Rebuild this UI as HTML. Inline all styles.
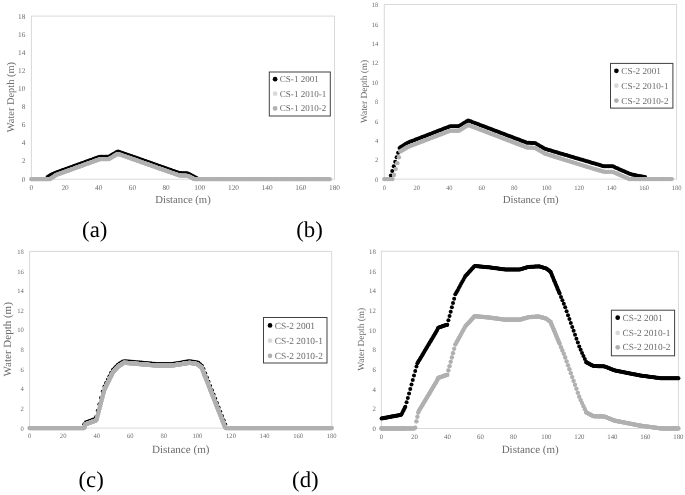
<!DOCTYPE html>
<html><head><meta charset="utf-8"><style>
html,body{margin:0;padding:0;background:#fff;overflow:hidden;width:685px;height:495px;}
svg{display:block;filter:grayscale(1);}
text{font-family:"Liberation Serif", serif;text-rendering:geometricPrecision;}
</style></head><body>
<svg width="685" height="495" viewBox="0 0 685 495">
<rect width="685" height="495" fill="#ffffff"/>
<rect x="31.4" y="16.1" width="303.1" height="163.1" fill="none" stroke="#d9d9d9" stroke-width="1"/>
<g font-size="7.3" fill="#6b6b6b"><text x="25.4" y="181.61" text-anchor="end">0</text><text x="25.4" y="163.49" text-anchor="end">2</text><text x="25.4" y="145.36" text-anchor="end">4</text><text x="25.4" y="127.24" text-anchor="end">6</text><text x="25.4" y="109.12" text-anchor="end">8</text><text x="25.4" y="91" text-anchor="end">10</text><text x="25.4" y="72.88" text-anchor="end">12</text><text x="25.4" y="54.75" text-anchor="end">14</text><text x="25.4" y="36.63" text-anchor="end">16</text><text x="25.4" y="18.51" text-anchor="end">18</text><text x="31.4" y="189.71" text-anchor="middle">0</text><text x="65.08" y="189.71" text-anchor="middle">20</text><text x="98.76" y="189.71" text-anchor="middle">40</text><text x="132.43" y="189.71" text-anchor="middle">60</text><text x="166.11" y="189.71" text-anchor="middle">80</text><text x="199.79" y="189.71" text-anchor="middle">100</text><text x="233.47" y="189.71" text-anchor="middle">120</text><text x="267.14" y="189.71" text-anchor="middle">140</text><text x="300.82" y="189.71" text-anchor="middle">160</text><text x="334.5" y="189.71" text-anchor="middle">180</text></g>
<text x="183" y="202.83" font-size="10.7" fill="#6b6b6b" text-anchor="middle">Distance (m)</text>
<text transform="translate(14.23,97.1) rotate(-90)" font-size="10.4" fill="#6b6b6b" text-anchor="middle">Water Depth (m)</text>
<g fill="#000000"><circle cx="47.57" cy="176.93" r="2.0"/><circle cx="48.74" cy="176.18" r="2.0"/><circle cx="49.92" cy="175.42" r="2.0"/><circle cx="51.1" cy="174.67" r="2.0"/><circle cx="52.28" cy="174.17" r="2.0"/><circle cx="53.46" cy="173.67" r="2.0"/><circle cx="54.64" cy="173.17" r="2.0"/><circle cx="55.82" cy="172.68" r="2.0"/><circle cx="57" cy="172.25" r="2.0"/><circle cx="58.17" cy="171.82" r="2.0"/><circle cx="59.35" cy="171.4" r="2.0"/><circle cx="60.53" cy="170.97" r="2.0"/><circle cx="61.71" cy="170.55" r="2.0"/><circle cx="62.89" cy="170.12" r="2.0"/><circle cx="64.07" cy="169.69" r="2.0"/><circle cx="65.25" cy="169.27" r="2.0"/><circle cx="66.42" cy="168.84" r="2.0"/><circle cx="67.6" cy="168.42" r="2.0"/><circle cx="68.78" cy="167.99" r="2.0"/><circle cx="69.96" cy="167.56" r="2.0"/><circle cx="71.14" cy="167.14" r="2.0"/><circle cx="72.32" cy="166.71" r="2.0"/><circle cx="73.5" cy="166.28" r="2.0"/><circle cx="74.68" cy="165.86" r="2.0"/><circle cx="75.85" cy="165.43" r="2.0"/><circle cx="77.03" cy="165.01" r="2.0"/><circle cx="78.21" cy="164.58" r="2.0"/><circle cx="79.39" cy="164.15" r="2.0"/><circle cx="80.57" cy="163.73" r="2.0"/><circle cx="81.75" cy="163.3" r="2.0"/><circle cx="82.93" cy="162.88" r="2.0"/><circle cx="84.11" cy="162.45" r="2.0"/><circle cx="85.28" cy="162.02" r="2.0"/><circle cx="86.46" cy="161.6" r="2.0"/><circle cx="87.64" cy="161.17" r="2.0"/><circle cx="88.82" cy="160.75" r="2.0"/><circle cx="90" cy="160.32" r="2.0"/><circle cx="91.18" cy="159.89" r="2.0"/><circle cx="92.36" cy="159.47" r="2.0"/><circle cx="93.54" cy="159.04" r="2.0"/><circle cx="94.71" cy="158.62" r="2.0"/><circle cx="95.89" cy="158.19" r="2.0"/><circle cx="97.07" cy="157.76" r="2.0"/><circle cx="98.25" cy="157.34" r="2.0"/><circle cx="99.43" cy="156.91" r="2.0"/><circle cx="100.61" cy="156.73" r="2.0"/><circle cx="101.79" cy="156.73" r="2.0"/><circle cx="102.97" cy="156.73" r="2.0"/><circle cx="104.14" cy="156.73" r="2.0"/><circle cx="105.32" cy="156.73" r="2.0"/><circle cx="106.5" cy="156.73" r="2.0"/><circle cx="107.68" cy="156.73" r="2.0"/><circle cx="108.86" cy="156.73" r="2.0"/><circle cx="110.04" cy="156.02" r="2.0"/><circle cx="111.22" cy="155.32" r="2.0"/><circle cx="112.4" cy="154.61" r="2.0"/><circle cx="113.57" cy="153.9" r="2.0"/><circle cx="114.75" cy="153.2" r="2.0"/><circle cx="115.93" cy="152.49" r="2.0"/><circle cx="117.11" cy="151.79" r="2.0"/><circle cx="118.29" cy="151.56" r="2.0"/><circle cx="119.47" cy="151.97" r="2.0"/><circle cx="120.65" cy="152.39" r="2.0"/><circle cx="121.82" cy="152.8" r="2.0"/><circle cx="123" cy="153.22" r="2.0"/><circle cx="124.18" cy="153.63" r="2.0"/><circle cx="125.36" cy="154.05" r="2.0"/><circle cx="126.54" cy="154.46" r="2.0"/><circle cx="127.72" cy="154.88" r="2.0"/><circle cx="128.9" cy="155.29" r="2.0"/><circle cx="130.08" cy="155.71" r="2.0"/><circle cx="131.25" cy="156.12" r="2.0"/><circle cx="132.43" cy="156.54" r="2.0"/><circle cx="133.61" cy="156.95" r="2.0"/><circle cx="134.79" cy="157.37" r="2.0"/><circle cx="135.97" cy="157.78" r="2.0"/><circle cx="137.15" cy="158.2" r="2.0"/><circle cx="138.33" cy="158.61" r="2.0"/><circle cx="139.51" cy="159.03" r="2.0"/><circle cx="140.68" cy="159.44" r="2.0"/><circle cx="141.86" cy="159.86" r="2.0"/><circle cx="143.04" cy="160.27" r="2.0"/><circle cx="144.22" cy="160.68" r="2.0"/><circle cx="145.4" cy="161.1" r="2.0"/><circle cx="146.58" cy="161.51" r="2.0"/><circle cx="147.76" cy="161.93" r="2.0"/><circle cx="148.94" cy="162.34" r="2.0"/><circle cx="150.11" cy="162.76" r="2.0"/><circle cx="151.29" cy="163.17" r="2.0"/><circle cx="152.47" cy="163.59" r="2.0"/><circle cx="153.65" cy="164" r="2.0"/><circle cx="154.83" cy="164.42" r="2.0"/><circle cx="156.01" cy="164.83" r="2.0"/><circle cx="157.19" cy="165.25" r="2.0"/><circle cx="158.37" cy="165.66" r="2.0"/><circle cx="159.54" cy="166.08" r="2.0"/><circle cx="160.72" cy="166.49" r="2.0"/><circle cx="161.9" cy="166.91" r="2.0"/><circle cx="163.08" cy="167.32" r="2.0"/><circle cx="164.26" cy="167.74" r="2.0"/><circle cx="165.44" cy="168.15" r="2.0"/><circle cx="166.62" cy="168.57" r="2.0"/><circle cx="167.79" cy="168.98" r="2.0"/><circle cx="168.97" cy="169.39" r="2.0"/><circle cx="170.15" cy="169.81" r="2.0"/><circle cx="171.33" cy="170.22" r="2.0"/><circle cx="172.51" cy="170.64" r="2.0"/><circle cx="173.69" cy="171.05" r="2.0"/><circle cx="174.87" cy="171.47" r="2.0"/><circle cx="176.05" cy="171.88" r="2.0"/><circle cx="177.22" cy="172.3" r="2.0"/><circle cx="178.4" cy="172.71" r="2.0"/><circle cx="179.58" cy="173.05" r="2.0"/><circle cx="180.76" cy="173.1" r="2.0"/><circle cx="181.94" cy="173.15" r="2.0"/><circle cx="183.12" cy="173.2" r="2.0"/><circle cx="184.3" cy="173.25" r="2.0"/><circle cx="185.48" cy="173.3" r="2.0"/><circle cx="186.65" cy="173.35" r="2.0"/><circle cx="187.83" cy="173.4" r="2.0"/><circle cx="189.01" cy="174.02" r="2.0"/><circle cx="190.19" cy="174.65" r="2.0"/><circle cx="191.37" cy="175.27" r="2.0"/><circle cx="192.55" cy="175.9" r="2.0"/><circle cx="193.73" cy="176.52" r="2.0"/><circle cx="194.91" cy="177.14" r="2.0"/><circle cx="196.08" cy="177.77" r="2.0"/><circle cx="197.26" cy="178.39" r="2.0"/></g>
<g fill="#d9d9d9"><circle cx="31.4" cy="179.2" r="2.15"/><circle cx="32.58" cy="179.2" r="2.15"/><circle cx="33.76" cy="179.2" r="2.15"/><circle cx="34.94" cy="179.2" r="2.15"/><circle cx="36.11" cy="179.2" r="2.15"/><circle cx="37.29" cy="179.2" r="2.15"/><circle cx="38.47" cy="179.2" r="2.15"/><circle cx="39.65" cy="179.2" r="2.15"/><circle cx="40.83" cy="179.2" r="2.15"/><circle cx="42.01" cy="179.2" r="2.15"/><circle cx="43.19" cy="179.2" r="2.15"/><circle cx="44.37" cy="179.2" r="2.15"/><circle cx="45.54" cy="179.2" r="2.15"/><circle cx="46.72" cy="179.2" r="2.15"/><circle cx="47.9" cy="179.2" r="2.15"/><circle cx="49.08" cy="179.2" r="2.15"/><circle cx="50.26" cy="178.98" r="2.15"/><circle cx="51.44" cy="178.2" r="2.15"/><circle cx="52.62" cy="177.42" r="2.15"/><circle cx="53.8" cy="176.64" r="2.15"/><circle cx="54.97" cy="175.86" r="2.15"/><circle cx="56.15" cy="175" r="2.15"/><circle cx="57.33" cy="174.57" r="2.15"/><circle cx="58.51" cy="174.15" r="2.15"/><circle cx="59.69" cy="173.72" r="2.15"/><circle cx="60.87" cy="173.3" r="2.15"/><circle cx="62.05" cy="172.87" r="2.15"/><circle cx="63.23" cy="172.44" r="2.15"/><circle cx="64.4" cy="172.02" r="2.15"/><circle cx="65.58" cy="171.59" r="2.15"/><circle cx="66.76" cy="171.17" r="2.15"/><circle cx="67.94" cy="170.74" r="2.15"/><circle cx="69.12" cy="170.31" r="2.15"/><circle cx="70.3" cy="169.89" r="2.15"/><circle cx="71.48" cy="169.46" r="2.15"/><circle cx="72.66" cy="169.04" r="2.15"/><circle cx="73.83" cy="168.61" r="2.15"/><circle cx="75.01" cy="168.18" r="2.15"/><circle cx="76.19" cy="167.76" r="2.15"/><circle cx="77.37" cy="167.33" r="2.15"/><circle cx="78.55" cy="166.91" r="2.15"/><circle cx="79.73" cy="166.48" r="2.15"/><circle cx="80.91" cy="166.05" r="2.15"/><circle cx="82.09" cy="165.63" r="2.15"/><circle cx="83.26" cy="165.2" r="2.15"/><circle cx="84.44" cy="164.77" r="2.15"/><circle cx="85.62" cy="164.35" r="2.15"/><circle cx="86.8" cy="163.92" r="2.15"/><circle cx="87.98" cy="163.5" r="2.15"/><circle cx="89.16" cy="163.07" r="2.15"/><circle cx="90.34" cy="162.64" r="2.15"/><circle cx="91.51" cy="162.22" r="2.15"/><circle cx="92.69" cy="161.79" r="2.15"/><circle cx="93.87" cy="161.37" r="2.15"/><circle cx="95.05" cy="160.94" r="2.15"/><circle cx="96.23" cy="160.51" r="2.15"/><circle cx="97.41" cy="160.09" r="2.15"/><circle cx="98.59" cy="159.66" r="2.15"/><circle cx="99.77" cy="159.24" r="2.15"/><circle cx="100.94" cy="159.17" r="2.15"/><circle cx="102.12" cy="159.17" r="2.15"/><circle cx="103.3" cy="159.17" r="2.15"/><circle cx="104.48" cy="159.17" r="2.15"/><circle cx="105.66" cy="159.17" r="2.15"/><circle cx="106.84" cy="159.17" r="2.15"/><circle cx="108.02" cy="159.17" r="2.15"/><circle cx="109.2" cy="158.97" r="2.15"/><circle cx="110.37" cy="158.27" r="2.15"/><circle cx="111.55" cy="157.56" r="2.15"/><circle cx="112.73" cy="156.85" r="2.15"/><circle cx="113.91" cy="156.15" r="2.15"/><circle cx="115.09" cy="155.44" r="2.15"/><circle cx="116.27" cy="154.74" r="2.15"/><circle cx="117.45" cy="154.03" r="2.15"/><circle cx="118.63" cy="154.13" r="2.15"/><circle cx="119.8" cy="154.54" r="2.15"/><circle cx="120.98" cy="154.95" r="2.15"/><circle cx="122.16" cy="155.37" r="2.15"/><circle cx="123.34" cy="155.78" r="2.15"/><circle cx="124.52" cy="156.2" r="2.15"/><circle cx="125.7" cy="156.61" r="2.15"/><circle cx="126.88" cy="157.03" r="2.15"/><circle cx="128.06" cy="157.44" r="2.15"/><circle cx="129.23" cy="157.86" r="2.15"/><circle cx="130.41" cy="158.27" r="2.15"/><circle cx="131.59" cy="158.69" r="2.15"/><circle cx="132.77" cy="159.1" r="2.15"/><circle cx="133.95" cy="159.52" r="2.15"/><circle cx="135.13" cy="159.93" r="2.15"/><circle cx="136.31" cy="160.35" r="2.15"/><circle cx="137.48" cy="160.76" r="2.15"/><circle cx="138.66" cy="161.18" r="2.15"/><circle cx="139.84" cy="161.59" r="2.15"/><circle cx="141.02" cy="162.01" r="2.15"/><circle cx="142.2" cy="162.42" r="2.15"/><circle cx="143.38" cy="162.83" r="2.15"/><circle cx="144.56" cy="163.25" r="2.15"/><circle cx="145.74" cy="163.66" r="2.15"/><circle cx="146.91" cy="164.08" r="2.15"/><circle cx="148.09" cy="164.49" r="2.15"/><circle cx="149.27" cy="164.91" r="2.15"/><circle cx="150.45" cy="165.32" r="2.15"/><circle cx="151.63" cy="165.74" r="2.15"/><circle cx="152.81" cy="166.15" r="2.15"/><circle cx="153.99" cy="166.57" r="2.15"/><circle cx="155.17" cy="166.98" r="2.15"/><circle cx="156.34" cy="167.4" r="2.15"/><circle cx="157.52" cy="167.81" r="2.15"/><circle cx="158.7" cy="168.23" r="2.15"/><circle cx="159.88" cy="168.64" r="2.15"/><circle cx="161.06" cy="169.06" r="2.15"/><circle cx="162.24" cy="169.47" r="2.15"/><circle cx="163.42" cy="169.89" r="2.15"/><circle cx="164.6" cy="170.3" r="2.15"/><circle cx="165.77" cy="170.72" r="2.15"/><circle cx="166.95" cy="171.13" r="2.15"/><circle cx="168.13" cy="171.54" r="2.15"/><circle cx="169.31" cy="171.96" r="2.15"/><circle cx="170.49" cy="172.37" r="2.15"/><circle cx="171.67" cy="172.79" r="2.15"/><circle cx="172.85" cy="173.2" r="2.15"/><circle cx="174.03" cy="173.62" r="2.15"/><circle cx="175.2" cy="174.03" r="2.15"/><circle cx="176.38" cy="174.45" r="2.15"/><circle cx="177.56" cy="174.86" r="2.15"/><circle cx="178.74" cy="175.28" r="2.15"/><circle cx="179.92" cy="175.51" r="2.15"/><circle cx="181.1" cy="175.56" r="2.15"/><circle cx="182.28" cy="175.61" r="2.15"/><circle cx="183.46" cy="175.66" r="2.15"/><circle cx="184.63" cy="175.71" r="2.15"/><circle cx="185.81" cy="175.76" r="2.15"/><circle cx="186.99" cy="175.81" r="2.15"/><circle cx="188.17" cy="176.03" r="2.15"/><circle cx="189.35" cy="176.65" r="2.15"/><circle cx="190.53" cy="177.27" r="2.15"/><circle cx="191.71" cy="177.9" r="2.15"/><circle cx="192.88" cy="178.52" r="2.15"/><circle cx="194.06" cy="179.14" r="2.15"/><circle cx="195.24" cy="179.2" r="2.15"/><circle cx="196.42" cy="179.2" r="2.15"/><circle cx="197.6" cy="179.2" r="2.15"/><circle cx="198.78" cy="179.2" r="2.15"/><circle cx="199.96" cy="179.2" r="2.15"/><circle cx="201.14" cy="179.2" r="2.15"/><circle cx="202.31" cy="179.2" r="2.15"/><circle cx="203.49" cy="179.2" r="2.15"/><circle cx="204.67" cy="179.2" r="2.15"/><circle cx="205.85" cy="179.2" r="2.15"/><circle cx="207.03" cy="179.2" r="2.15"/><circle cx="208.21" cy="179.2" r="2.15"/><circle cx="209.39" cy="179.2" r="2.15"/><circle cx="210.57" cy="179.2" r="2.15"/><circle cx="211.74" cy="179.2" r="2.15"/><circle cx="212.92" cy="179.2" r="2.15"/><circle cx="214.1" cy="179.2" r="2.15"/><circle cx="215.28" cy="179.2" r="2.15"/><circle cx="216.46" cy="179.2" r="2.15"/><circle cx="217.64" cy="179.2" r="2.15"/><circle cx="218.82" cy="179.2" r="2.15"/><circle cx="220" cy="179.2" r="2.15"/><circle cx="221.17" cy="179.2" r="2.15"/><circle cx="222.35" cy="179.2" r="2.15"/><circle cx="223.53" cy="179.2" r="2.15"/><circle cx="224.71" cy="179.2" r="2.15"/><circle cx="225.89" cy="179.2" r="2.15"/><circle cx="227.07" cy="179.2" r="2.15"/><circle cx="228.25" cy="179.2" r="2.15"/><circle cx="229.43" cy="179.2" r="2.15"/><circle cx="230.6" cy="179.2" r="2.15"/><circle cx="231.78" cy="179.2" r="2.15"/><circle cx="232.96" cy="179.2" r="2.15"/><circle cx="234.14" cy="179.2" r="2.15"/><circle cx="235.32" cy="179.2" r="2.15"/><circle cx="236.5" cy="179.2" r="2.15"/><circle cx="237.68" cy="179.2" r="2.15"/><circle cx="238.86" cy="179.2" r="2.15"/><circle cx="240.03" cy="179.2" r="2.15"/><circle cx="241.21" cy="179.2" r="2.15"/><circle cx="242.39" cy="179.2" r="2.15"/><circle cx="243.57" cy="179.2" r="2.15"/><circle cx="244.75" cy="179.2" r="2.15"/><circle cx="245.93" cy="179.2" r="2.15"/><circle cx="247.11" cy="179.2" r="2.15"/><circle cx="248.28" cy="179.2" r="2.15"/><circle cx="249.46" cy="179.2" r="2.15"/><circle cx="250.64" cy="179.2" r="2.15"/><circle cx="251.82" cy="179.2" r="2.15"/><circle cx="253" cy="179.2" r="2.15"/><circle cx="254.18" cy="179.2" r="2.15"/><circle cx="255.36" cy="179.2" r="2.15"/><circle cx="256.54" cy="179.2" r="2.15"/><circle cx="257.71" cy="179.2" r="2.15"/><circle cx="258.89" cy="179.2" r="2.15"/><circle cx="260.07" cy="179.2" r="2.15"/><circle cx="261.25" cy="179.2" r="2.15"/><circle cx="262.43" cy="179.2" r="2.15"/><circle cx="263.61" cy="179.2" r="2.15"/><circle cx="264.79" cy="179.2" r="2.15"/><circle cx="265.97" cy="179.2" r="2.15"/><circle cx="267.14" cy="179.2" r="2.15"/><circle cx="268.32" cy="179.2" r="2.15"/><circle cx="269.5" cy="179.2" r="2.15"/><circle cx="270.68" cy="179.2" r="2.15"/><circle cx="271.86" cy="179.2" r="2.15"/><circle cx="273.04" cy="179.2" r="2.15"/><circle cx="274.22" cy="179.2" r="2.15"/><circle cx="275.4" cy="179.2" r="2.15"/><circle cx="276.57" cy="179.2" r="2.15"/><circle cx="277.75" cy="179.2" r="2.15"/><circle cx="278.93" cy="179.2" r="2.15"/><circle cx="280.11" cy="179.2" r="2.15"/><circle cx="281.29" cy="179.2" r="2.15"/><circle cx="282.47" cy="179.2" r="2.15"/><circle cx="283.65" cy="179.2" r="2.15"/><circle cx="284.83" cy="179.2" r="2.15"/><circle cx="286" cy="179.2" r="2.15"/><circle cx="287.18" cy="179.2" r="2.15"/><circle cx="288.36" cy="179.2" r="2.15"/><circle cx="289.54" cy="179.2" r="2.15"/><circle cx="290.72" cy="179.2" r="2.15"/><circle cx="291.9" cy="179.2" r="2.15"/><circle cx="293.08" cy="179.2" r="2.15"/><circle cx="294.26" cy="179.2" r="2.15"/><circle cx="295.43" cy="179.2" r="2.15"/><circle cx="296.61" cy="179.2" r="2.15"/><circle cx="297.79" cy="179.2" r="2.15"/><circle cx="298.97" cy="179.2" r="2.15"/><circle cx="300.15" cy="179.2" r="2.15"/><circle cx="301.33" cy="179.2" r="2.15"/><circle cx="302.51" cy="179.2" r="2.15"/><circle cx="303.68" cy="179.2" r="2.15"/><circle cx="304.86" cy="179.2" r="2.15"/><circle cx="306.04" cy="179.2" r="2.15"/><circle cx="307.22" cy="179.2" r="2.15"/><circle cx="308.4" cy="179.2" r="2.15"/><circle cx="309.58" cy="179.2" r="2.15"/><circle cx="310.76" cy="179.2" r="2.15"/><circle cx="311.94" cy="179.2" r="2.15"/><circle cx="313.11" cy="179.2" r="2.15"/><circle cx="314.29" cy="179.2" r="2.15"/><circle cx="315.47" cy="179.2" r="2.15"/><circle cx="316.65" cy="179.2" r="2.15"/><circle cx="317.83" cy="179.2" r="2.15"/><circle cx="319.01" cy="179.2" r="2.15"/><circle cx="320.19" cy="179.2" r="2.15"/><circle cx="321.37" cy="179.2" r="2.15"/><circle cx="322.54" cy="179.2" r="2.15"/><circle cx="323.72" cy="179.2" r="2.15"/><circle cx="324.9" cy="179.2" r="2.15"/><circle cx="326.08" cy="179.2" r="2.15"/><circle cx="327.26" cy="179.2" r="2.15"/><circle cx="328.44" cy="179.2" r="2.15"/><circle cx="329.62" cy="179.2" r="2.15"/></g>
<g fill="#b0b0b0"><circle cx="31.4" cy="179.2" r="2.15"/><circle cx="32.58" cy="179.2" r="2.15"/><circle cx="33.76" cy="179.2" r="2.15"/><circle cx="34.94" cy="179.2" r="2.15"/><circle cx="36.11" cy="179.2" r="2.15"/><circle cx="37.29" cy="179.2" r="2.15"/><circle cx="38.47" cy="179.2" r="2.15"/><circle cx="39.65" cy="179.2" r="2.15"/><circle cx="40.83" cy="179.2" r="2.15"/><circle cx="42.01" cy="179.2" r="2.15"/><circle cx="43.19" cy="179.2" r="2.15"/><circle cx="44.37" cy="179.2" r="2.15"/><circle cx="45.54" cy="179.2" r="2.15"/><circle cx="46.72" cy="179.2" r="2.15"/><circle cx="47.9" cy="179.2" r="2.15"/><circle cx="49.08" cy="179.2" r="2.15"/><circle cx="50.26" cy="178.98" r="2.15"/><circle cx="51.44" cy="178.2" r="2.15"/><circle cx="52.62" cy="177.42" r="2.15"/><circle cx="53.8" cy="176.64" r="2.15"/><circle cx="54.97" cy="175.86" r="2.15"/><circle cx="56.15" cy="175" r="2.15"/><circle cx="57.33" cy="174.57" r="2.15"/><circle cx="58.51" cy="174.15" r="2.15"/><circle cx="59.69" cy="173.72" r="2.15"/><circle cx="60.87" cy="173.3" r="2.15"/><circle cx="62.05" cy="172.87" r="2.15"/><circle cx="63.23" cy="172.44" r="2.15"/><circle cx="64.4" cy="172.02" r="2.15"/><circle cx="65.58" cy="171.59" r="2.15"/><circle cx="66.76" cy="171.17" r="2.15"/><circle cx="67.94" cy="170.74" r="2.15"/><circle cx="69.12" cy="170.31" r="2.15"/><circle cx="70.3" cy="169.89" r="2.15"/><circle cx="71.48" cy="169.46" r="2.15"/><circle cx="72.66" cy="169.04" r="2.15"/><circle cx="73.83" cy="168.61" r="2.15"/><circle cx="75.01" cy="168.18" r="2.15"/><circle cx="76.19" cy="167.76" r="2.15"/><circle cx="77.37" cy="167.33" r="2.15"/><circle cx="78.55" cy="166.91" r="2.15"/><circle cx="79.73" cy="166.48" r="2.15"/><circle cx="80.91" cy="166.05" r="2.15"/><circle cx="82.09" cy="165.63" r="2.15"/><circle cx="83.26" cy="165.2" r="2.15"/><circle cx="84.44" cy="164.77" r="2.15"/><circle cx="85.62" cy="164.35" r="2.15"/><circle cx="86.8" cy="163.92" r="2.15"/><circle cx="87.98" cy="163.5" r="2.15"/><circle cx="89.16" cy="163.07" r="2.15"/><circle cx="90.34" cy="162.64" r="2.15"/><circle cx="91.51" cy="162.22" r="2.15"/><circle cx="92.69" cy="161.79" r="2.15"/><circle cx="93.87" cy="161.37" r="2.15"/><circle cx="95.05" cy="160.94" r="2.15"/><circle cx="96.23" cy="160.51" r="2.15"/><circle cx="97.41" cy="160.09" r="2.15"/><circle cx="98.59" cy="159.66" r="2.15"/><circle cx="99.77" cy="159.24" r="2.15"/><circle cx="100.94" cy="159.17" r="2.15"/><circle cx="102.12" cy="159.17" r="2.15"/><circle cx="103.3" cy="159.17" r="2.15"/><circle cx="104.48" cy="159.17" r="2.15"/><circle cx="105.66" cy="159.17" r="2.15"/><circle cx="106.84" cy="159.17" r="2.15"/><circle cx="108.02" cy="159.17" r="2.15"/><circle cx="109.2" cy="158.97" r="2.15"/><circle cx="110.37" cy="158.27" r="2.15"/><circle cx="111.55" cy="157.56" r="2.15"/><circle cx="112.73" cy="156.85" r="2.15"/><circle cx="113.91" cy="156.15" r="2.15"/><circle cx="115.09" cy="155.44" r="2.15"/><circle cx="116.27" cy="154.74" r="2.15"/><circle cx="117.45" cy="154.03" r="2.15"/><circle cx="118.63" cy="154.13" r="2.15"/><circle cx="119.8" cy="154.54" r="2.15"/><circle cx="120.98" cy="154.95" r="2.15"/><circle cx="122.16" cy="155.37" r="2.15"/><circle cx="123.34" cy="155.78" r="2.15"/><circle cx="124.52" cy="156.2" r="2.15"/><circle cx="125.7" cy="156.61" r="2.15"/><circle cx="126.88" cy="157.03" r="2.15"/><circle cx="128.06" cy="157.44" r="2.15"/><circle cx="129.23" cy="157.86" r="2.15"/><circle cx="130.41" cy="158.27" r="2.15"/><circle cx="131.59" cy="158.69" r="2.15"/><circle cx="132.77" cy="159.1" r="2.15"/><circle cx="133.95" cy="159.52" r="2.15"/><circle cx="135.13" cy="159.93" r="2.15"/><circle cx="136.31" cy="160.35" r="2.15"/><circle cx="137.48" cy="160.76" r="2.15"/><circle cx="138.66" cy="161.18" r="2.15"/><circle cx="139.84" cy="161.59" r="2.15"/><circle cx="141.02" cy="162.01" r="2.15"/><circle cx="142.2" cy="162.42" r="2.15"/><circle cx="143.38" cy="162.83" r="2.15"/><circle cx="144.56" cy="163.25" r="2.15"/><circle cx="145.74" cy="163.66" r="2.15"/><circle cx="146.91" cy="164.08" r="2.15"/><circle cx="148.09" cy="164.49" r="2.15"/><circle cx="149.27" cy="164.91" r="2.15"/><circle cx="150.45" cy="165.32" r="2.15"/><circle cx="151.63" cy="165.74" r="2.15"/><circle cx="152.81" cy="166.15" r="2.15"/><circle cx="153.99" cy="166.57" r="2.15"/><circle cx="155.17" cy="166.98" r="2.15"/><circle cx="156.34" cy="167.4" r="2.15"/><circle cx="157.52" cy="167.81" r="2.15"/><circle cx="158.7" cy="168.23" r="2.15"/><circle cx="159.88" cy="168.64" r="2.15"/><circle cx="161.06" cy="169.06" r="2.15"/><circle cx="162.24" cy="169.47" r="2.15"/><circle cx="163.42" cy="169.89" r="2.15"/><circle cx="164.6" cy="170.3" r="2.15"/><circle cx="165.77" cy="170.72" r="2.15"/><circle cx="166.95" cy="171.13" r="2.15"/><circle cx="168.13" cy="171.54" r="2.15"/><circle cx="169.31" cy="171.96" r="2.15"/><circle cx="170.49" cy="172.37" r="2.15"/><circle cx="171.67" cy="172.79" r="2.15"/><circle cx="172.85" cy="173.2" r="2.15"/><circle cx="174.03" cy="173.62" r="2.15"/><circle cx="175.2" cy="174.03" r="2.15"/><circle cx="176.38" cy="174.45" r="2.15"/><circle cx="177.56" cy="174.86" r="2.15"/><circle cx="178.74" cy="175.28" r="2.15"/><circle cx="179.92" cy="175.51" r="2.15"/><circle cx="181.1" cy="175.56" r="2.15"/><circle cx="182.28" cy="175.61" r="2.15"/><circle cx="183.46" cy="175.66" r="2.15"/><circle cx="184.63" cy="175.71" r="2.15"/><circle cx="185.81" cy="175.76" r="2.15"/><circle cx="186.99" cy="175.81" r="2.15"/><circle cx="188.17" cy="176.03" r="2.15"/><circle cx="189.35" cy="176.65" r="2.15"/><circle cx="190.53" cy="177.27" r="2.15"/><circle cx="191.71" cy="177.9" r="2.15"/><circle cx="192.88" cy="178.52" r="2.15"/><circle cx="194.06" cy="179.14" r="2.15"/><circle cx="195.24" cy="179.2" r="2.15"/><circle cx="196.42" cy="179.2" r="2.15"/><circle cx="197.6" cy="179.2" r="2.15"/><circle cx="198.78" cy="179.2" r="2.15"/><circle cx="199.96" cy="179.2" r="2.15"/><circle cx="201.14" cy="179.2" r="2.15"/><circle cx="202.31" cy="179.2" r="2.15"/><circle cx="203.49" cy="179.2" r="2.15"/><circle cx="204.67" cy="179.2" r="2.15"/><circle cx="205.85" cy="179.2" r="2.15"/><circle cx="207.03" cy="179.2" r="2.15"/><circle cx="208.21" cy="179.2" r="2.15"/><circle cx="209.39" cy="179.2" r="2.15"/><circle cx="210.57" cy="179.2" r="2.15"/><circle cx="211.74" cy="179.2" r="2.15"/><circle cx="212.92" cy="179.2" r="2.15"/><circle cx="214.1" cy="179.2" r="2.15"/><circle cx="215.28" cy="179.2" r="2.15"/><circle cx="216.46" cy="179.2" r="2.15"/><circle cx="217.64" cy="179.2" r="2.15"/><circle cx="218.82" cy="179.2" r="2.15"/><circle cx="220" cy="179.2" r="2.15"/><circle cx="221.17" cy="179.2" r="2.15"/><circle cx="222.35" cy="179.2" r="2.15"/><circle cx="223.53" cy="179.2" r="2.15"/><circle cx="224.71" cy="179.2" r="2.15"/><circle cx="225.89" cy="179.2" r="2.15"/><circle cx="227.07" cy="179.2" r="2.15"/><circle cx="228.25" cy="179.2" r="2.15"/><circle cx="229.43" cy="179.2" r="2.15"/><circle cx="230.6" cy="179.2" r="2.15"/><circle cx="231.78" cy="179.2" r="2.15"/><circle cx="232.96" cy="179.2" r="2.15"/><circle cx="234.14" cy="179.2" r="2.15"/><circle cx="235.32" cy="179.2" r="2.15"/><circle cx="236.5" cy="179.2" r="2.15"/><circle cx="237.68" cy="179.2" r="2.15"/><circle cx="238.86" cy="179.2" r="2.15"/><circle cx="240.03" cy="179.2" r="2.15"/><circle cx="241.21" cy="179.2" r="2.15"/><circle cx="242.39" cy="179.2" r="2.15"/><circle cx="243.57" cy="179.2" r="2.15"/><circle cx="244.75" cy="179.2" r="2.15"/><circle cx="245.93" cy="179.2" r="2.15"/><circle cx="247.11" cy="179.2" r="2.15"/><circle cx="248.28" cy="179.2" r="2.15"/><circle cx="249.46" cy="179.2" r="2.15"/><circle cx="250.64" cy="179.2" r="2.15"/><circle cx="251.82" cy="179.2" r="2.15"/><circle cx="253" cy="179.2" r="2.15"/><circle cx="254.18" cy="179.2" r="2.15"/><circle cx="255.36" cy="179.2" r="2.15"/><circle cx="256.54" cy="179.2" r="2.15"/><circle cx="257.71" cy="179.2" r="2.15"/><circle cx="258.89" cy="179.2" r="2.15"/><circle cx="260.07" cy="179.2" r="2.15"/><circle cx="261.25" cy="179.2" r="2.15"/><circle cx="262.43" cy="179.2" r="2.15"/><circle cx="263.61" cy="179.2" r="2.15"/><circle cx="264.79" cy="179.2" r="2.15"/><circle cx="265.97" cy="179.2" r="2.15"/><circle cx="267.14" cy="179.2" r="2.15"/><circle cx="268.32" cy="179.2" r="2.15"/><circle cx="269.5" cy="179.2" r="2.15"/><circle cx="270.68" cy="179.2" r="2.15"/><circle cx="271.86" cy="179.2" r="2.15"/><circle cx="273.04" cy="179.2" r="2.15"/><circle cx="274.22" cy="179.2" r="2.15"/><circle cx="275.4" cy="179.2" r="2.15"/><circle cx="276.57" cy="179.2" r="2.15"/><circle cx="277.75" cy="179.2" r="2.15"/><circle cx="278.93" cy="179.2" r="2.15"/><circle cx="280.11" cy="179.2" r="2.15"/><circle cx="281.29" cy="179.2" r="2.15"/><circle cx="282.47" cy="179.2" r="2.15"/><circle cx="283.65" cy="179.2" r="2.15"/><circle cx="284.83" cy="179.2" r="2.15"/><circle cx="286" cy="179.2" r="2.15"/><circle cx="287.18" cy="179.2" r="2.15"/><circle cx="288.36" cy="179.2" r="2.15"/><circle cx="289.54" cy="179.2" r="2.15"/><circle cx="290.72" cy="179.2" r="2.15"/><circle cx="291.9" cy="179.2" r="2.15"/><circle cx="293.08" cy="179.2" r="2.15"/><circle cx="294.26" cy="179.2" r="2.15"/><circle cx="295.43" cy="179.2" r="2.15"/><circle cx="296.61" cy="179.2" r="2.15"/><circle cx="297.79" cy="179.2" r="2.15"/><circle cx="298.97" cy="179.2" r="2.15"/><circle cx="300.15" cy="179.2" r="2.15"/><circle cx="301.33" cy="179.2" r="2.15"/><circle cx="302.51" cy="179.2" r="2.15"/><circle cx="303.68" cy="179.2" r="2.15"/><circle cx="304.86" cy="179.2" r="2.15"/><circle cx="306.04" cy="179.2" r="2.15"/><circle cx="307.22" cy="179.2" r="2.15"/><circle cx="308.4" cy="179.2" r="2.15"/><circle cx="309.58" cy="179.2" r="2.15"/><circle cx="310.76" cy="179.2" r="2.15"/><circle cx="311.94" cy="179.2" r="2.15"/><circle cx="313.11" cy="179.2" r="2.15"/><circle cx="314.29" cy="179.2" r="2.15"/><circle cx="315.47" cy="179.2" r="2.15"/><circle cx="316.65" cy="179.2" r="2.15"/><circle cx="317.83" cy="179.2" r="2.15"/><circle cx="319.01" cy="179.2" r="2.15"/><circle cx="320.19" cy="179.2" r="2.15"/><circle cx="321.37" cy="179.2" r="2.15"/><circle cx="322.54" cy="179.2" r="2.15"/><circle cx="323.72" cy="179.2" r="2.15"/><circle cx="324.9" cy="179.2" r="2.15"/><circle cx="326.08" cy="179.2" r="2.15"/><circle cx="327.26" cy="179.2" r="2.15"/><circle cx="328.44" cy="179.2" r="2.15"/><circle cx="329.62" cy="179.2" r="2.15"/></g>
<rect x="269.3" y="72" width="61" height="44" fill="#ffffff" stroke="#404040" stroke-width="1"/>
<circle cx="275.1" cy="79.2" r="2.35" fill="#000000"/>
<text x="279.8" y="82.19" font-size="9.05" fill="#6b6b6b">CS-1 2001</text>
<circle cx="275.1" cy="93.7" r="2.35" fill="#d9d9d9"/>
<text x="279.8" y="96.69" font-size="9.05" fill="#6b6b6b">CS-1 2010-1</text>
<circle cx="275.1" cy="108.4" r="2.35" fill="#b0b0b0"/>
<text x="279.8" y="111.39" font-size="9.05" fill="#6b6b6b">CS-1 2010-2</text>
<text x="82.1" y="237.3" font-size="22.8" fill="#000">(a)</text>
<rect x="384.3" y="4.5" width="292.3" height="174.6" fill="none" stroke="#d9d9d9" stroke-width="1"/>
<g font-size="6.6" fill="#6b6b6b"><text x="378.3" y="181.78" text-anchor="end">0</text><text x="378.3" y="162.38" text-anchor="end">2</text><text x="378.3" y="142.98" text-anchor="end">4</text><text x="378.3" y="123.58" text-anchor="end">6</text><text x="378.3" y="104.18" text-anchor="end">8</text><text x="378.3" y="84.78" text-anchor="end">10</text><text x="378.3" y="65.38" text-anchor="end">12</text><text x="378.3" y="45.98" text-anchor="end">14</text><text x="378.3" y="26.58" text-anchor="end">16</text><text x="378.3" y="7.18" text-anchor="end">18</text><text x="384.3" y="189.78" text-anchor="middle">0</text><text x="416.78" y="189.78" text-anchor="middle">20</text><text x="449.26" y="189.78" text-anchor="middle">40</text><text x="481.73" y="189.78" text-anchor="middle">60</text><text x="514.21" y="189.78" text-anchor="middle">80</text><text x="546.69" y="189.78" text-anchor="middle">100</text><text x="579.17" y="189.78" text-anchor="middle">120</text><text x="611.64" y="189.78" text-anchor="middle">140</text><text x="644.12" y="189.78" text-anchor="middle">160</text><text x="676.6" y="189.78" text-anchor="middle">180</text></g>
<text x="530.7" y="203.26" font-size="10.8" fill="#6b6b6b" text-anchor="middle">Distance (m)</text>
<text transform="translate(366.8,91.4) rotate(-90)" font-size="9.4" fill="#6b6b6b" text-anchor="middle">Water Depth (m)</text>
<g fill="#000000"><circle cx="390.8" cy="175.51" r="2.0"/><circle cx="392.26" cy="170.94" r="2.0"/><circle cx="393.72" cy="166.37" r="2.0"/><circle cx="395.18" cy="161.8" r="2.0"/><circle cx="396.64" cy="157.23" r="2.0"/><circle cx="398.1" cy="152.65" r="2.0"/><circle cx="399.56" cy="148.08" r="2.0"/><circle cx="401.03" cy="146.78" r="2.0"/><circle cx="402.49" cy="145.89" r="2.0"/><circle cx="403.95" cy="145" r="2.0"/><circle cx="405.41" cy="144.11" r="2.0"/><circle cx="406.87" cy="143.22" r="2.0"/><circle cx="408.33" cy="142.44" r="2.0"/><circle cx="409.8" cy="141.87" r="2.0"/><circle cx="411.26" cy="141.31" r="2.0"/><circle cx="412.72" cy="140.74" r="2.0"/><circle cx="414.18" cy="140.17" r="2.0"/><circle cx="415.64" cy="139.61" r="2.0"/><circle cx="417.1" cy="139.04" r="2.0"/><circle cx="418.56" cy="138.48" r="2.0"/><circle cx="420.03" cy="137.91" r="2.0"/><circle cx="421.49" cy="137.34" r="2.0"/><circle cx="422.95" cy="136.78" r="2.0"/><circle cx="424.41" cy="136.21" r="2.0"/><circle cx="425.87" cy="135.64" r="2.0"/><circle cx="427.33" cy="135.08" r="2.0"/><circle cx="428.79" cy="134.51" r="2.0"/><circle cx="430.26" cy="133.95" r="2.0"/><circle cx="431.72" cy="133.38" r="2.0"/><circle cx="433.18" cy="132.81" r="2.0"/><circle cx="434.64" cy="132.25" r="2.0"/><circle cx="436.1" cy="131.68" r="2.0"/><circle cx="437.56" cy="131.11" r="2.0"/><circle cx="439.03" cy="130.55" r="2.0"/><circle cx="440.49" cy="129.98" r="2.0"/><circle cx="441.95" cy="129.42" r="2.0"/><circle cx="443.41" cy="128.85" r="2.0"/><circle cx="444.87" cy="128.28" r="2.0"/><circle cx="446.33" cy="127.72" r="2.0"/><circle cx="447.79" cy="127.15" r="2.0"/><circle cx="449.26" cy="126.58" r="2.0"/><circle cx="450.72" cy="126.33" r="2.0"/><circle cx="452.18" cy="126.33" r="2.0"/><circle cx="453.64" cy="126.33" r="2.0"/><circle cx="455.1" cy="126.33" r="2.0"/><circle cx="456.56" cy="126.33" r="2.0"/><circle cx="458.02" cy="126.33" r="2.0"/><circle cx="459.49" cy="125.82" r="2.0"/><circle cx="460.95" cy="124.9" r="2.0"/><circle cx="462.41" cy="123.99" r="2.0"/><circle cx="463.87" cy="123.07" r="2.0"/><circle cx="465.33" cy="122.15" r="2.0"/><circle cx="466.79" cy="121.23" r="2.0"/><circle cx="468.26" cy="120.48" r="2.0"/><circle cx="469.72" cy="121.03" r="2.0"/><circle cx="471.18" cy="121.58" r="2.0"/><circle cx="472.64" cy="122.14" r="2.0"/><circle cx="474.1" cy="122.69" r="2.0"/><circle cx="475.56" cy="123.25" r="2.0"/><circle cx="477.02" cy="123.8" r="2.0"/><circle cx="478.49" cy="124.35" r="2.0"/><circle cx="479.95" cy="124.91" r="2.0"/><circle cx="481.41" cy="125.46" r="2.0"/><circle cx="482.87" cy="126.02" r="2.0"/><circle cx="484.33" cy="126.57" r="2.0"/><circle cx="485.79" cy="127.12" r="2.0"/><circle cx="487.25" cy="127.68" r="2.0"/><circle cx="488.72" cy="128.23" r="2.0"/><circle cx="490.18" cy="128.79" r="2.0"/><circle cx="491.64" cy="129.34" r="2.0"/><circle cx="493.1" cy="129.89" r="2.0"/><circle cx="494.56" cy="130.45" r="2.0"/><circle cx="496.02" cy="131" r="2.0"/><circle cx="497.49" cy="131.55" r="2.0"/><circle cx="498.95" cy="132.11" r="2.0"/><circle cx="500.41" cy="132.66" r="2.0"/><circle cx="501.87" cy="133.22" r="2.0"/><circle cx="503.33" cy="133.77" r="2.0"/><circle cx="504.79" cy="134.32" r="2.0"/><circle cx="506.25" cy="134.88" r="2.0"/><circle cx="507.72" cy="135.43" r="2.0"/><circle cx="509.18" cy="135.99" r="2.0"/><circle cx="510.64" cy="136.54" r="2.0"/><circle cx="512.1" cy="137.09" r="2.0"/><circle cx="513.56" cy="137.65" r="2.0"/><circle cx="515.02" cy="138.2" r="2.0"/><circle cx="516.48" cy="138.76" r="2.0"/><circle cx="517.95" cy="139.31" r="2.0"/><circle cx="519.41" cy="139.86" r="2.0"/><circle cx="520.87" cy="140.42" r="2.0"/><circle cx="522.33" cy="140.97" r="2.0"/><circle cx="523.79" cy="141.52" r="2.0"/><circle cx="525.25" cy="142.08" r="2.0"/><circle cx="526.72" cy="142.63" r="2.0"/><circle cx="528.18" cy="142.78" r="2.0"/><circle cx="529.64" cy="142.85" r="2.0"/><circle cx="531.1" cy="142.92" r="2.0"/><circle cx="532.56" cy="142.99" r="2.0"/><circle cx="534.02" cy="143.06" r="2.0"/><circle cx="535.48" cy="143.3" r="2.0"/><circle cx="536.95" cy="144.16" r="2.0"/><circle cx="538.41" cy="145.02" r="2.0"/><circle cx="539.87" cy="145.88" r="2.0"/><circle cx="541.33" cy="146.74" r="2.0"/><circle cx="542.79" cy="147.6" r="2.0"/><circle cx="544.25" cy="148.45" r="2.0"/><circle cx="545.71" cy="149.08" r="2.0"/><circle cx="547.18" cy="149.51" r="2.0"/><circle cx="548.64" cy="149.94" r="2.0"/><circle cx="550.1" cy="150.37" r="2.0"/><circle cx="551.56" cy="150.8" r="2.0"/><circle cx="553.02" cy="151.23" r="2.0"/><circle cx="554.48" cy="151.67" r="2.0"/><circle cx="555.95" cy="152.1" r="2.0"/><circle cx="557.41" cy="152.53" r="2.0"/><circle cx="558.87" cy="152.96" r="2.0"/><circle cx="560.33" cy="153.39" r="2.0"/><circle cx="561.79" cy="153.82" r="2.0"/><circle cx="563.25" cy="154.26" r="2.0"/><circle cx="564.71" cy="154.69" r="2.0"/><circle cx="566.18" cy="155.12" r="2.0"/><circle cx="567.64" cy="155.55" r="2.0"/><circle cx="569.1" cy="155.98" r="2.0"/><circle cx="570.56" cy="156.41" r="2.0"/><circle cx="572.02" cy="156.85" r="2.0"/><circle cx="573.48" cy="157.28" r="2.0"/><circle cx="574.94" cy="157.71" r="2.0"/><circle cx="576.41" cy="158.14" r="2.0"/><circle cx="577.87" cy="158.57" r="2.0"/><circle cx="579.33" cy="159.01" r="2.0"/><circle cx="580.79" cy="159.44" r="2.0"/><circle cx="582.25" cy="159.87" r="2.0"/><circle cx="583.71" cy="160.3" r="2.0"/><circle cx="585.18" cy="160.73" r="2.0"/><circle cx="586.64" cy="161.16" r="2.0"/><circle cx="588.1" cy="161.6" r="2.0"/><circle cx="589.56" cy="162.03" r="2.0"/><circle cx="591.02" cy="162.46" r="2.0"/><circle cx="592.48" cy="162.89" r="2.0"/><circle cx="593.94" cy="163.32" r="2.0"/><circle cx="595.41" cy="163.75" r="2.0"/><circle cx="596.87" cy="164.19" r="2.0"/><circle cx="598.33" cy="164.62" r="2.0"/><circle cx="599.79" cy="165.05" r="2.0"/><circle cx="601.25" cy="165.48" r="2.0"/><circle cx="602.71" cy="165.91" r="2.0"/><circle cx="604.17" cy="166.3" r="2.0"/><circle cx="605.64" cy="166.3" r="2.0"/><circle cx="607.1" cy="166.3" r="2.0"/><circle cx="608.56" cy="166.3" r="2.0"/><circle cx="610.02" cy="166.3" r="2.0"/><circle cx="611.48" cy="166.3" r="2.0"/><circle cx="612.94" cy="166.37" r="2.0"/><circle cx="614.41" cy="167.03" r="2.0"/><circle cx="615.87" cy="167.69" r="2.0"/><circle cx="617.33" cy="168.35" r="2.0"/><circle cx="618.79" cy="169.01" r="2.0"/><circle cx="620.25" cy="169.67" r="2.0"/><circle cx="621.71" cy="170.3" r="2.0"/><circle cx="623.17" cy="170.91" r="2.0"/><circle cx="624.64" cy="171.53" r="2.0"/><circle cx="626.1" cy="172.14" r="2.0"/><circle cx="627.56" cy="172.76" r="2.0"/><circle cx="629.02" cy="173.38" r="2.0"/><circle cx="630.48" cy="173.99" r="2.0"/><circle cx="631.94" cy="174.57" r="2.0"/><circle cx="633.4" cy="174.84" r="2.0"/><circle cx="634.87" cy="175.11" r="2.0"/><circle cx="636.33" cy="175.38" r="2.0"/><circle cx="637.79" cy="175.65" r="2.0"/><circle cx="639.25" cy="175.93" r="2.0"/><circle cx="640.71" cy="176.2" r="2.0"/><circle cx="642.17" cy="176.47" r="2.0"/><circle cx="643.64" cy="176.74" r="2.0"/><circle cx="645.1" cy="177.01" r="2.0"/></g>
<g fill="#d9d9d9"><circle cx="384.3" cy="179.1" r="2.15"/><circle cx="385.92" cy="179.1" r="2.15"/><circle cx="387.55" cy="179.1" r="2.15"/><circle cx="389.17" cy="179.1" r="2.15"/><circle cx="390.8" cy="179.1" r="2.15"/><circle cx="392.42" cy="179.1" r="2.15"/><circle cx="394.04" cy="174.98" r="2.15"/><circle cx="395.67" cy="169.1" r="2.15"/><circle cx="397.29" cy="163.22" r="2.15"/><circle cx="398.92" cy="157.34" r="2.15"/><circle cx="400.54" cy="151.45" r="2.15"/><circle cx="402.16" cy="150.46" r="2.15"/><circle cx="403.79" cy="149.48" r="2.15"/><circle cx="405.41" cy="148.49" r="2.15"/><circle cx="407.03" cy="147.51" r="2.15"/><circle cx="408.66" cy="146.71" r="2.15"/><circle cx="410.28" cy="146.08" r="2.15"/><circle cx="411.91" cy="145.46" r="2.15"/><circle cx="413.53" cy="144.83" r="2.15"/><circle cx="415.15" cy="144.21" r="2.15"/><circle cx="416.78" cy="143.59" r="2.15"/><circle cx="418.4" cy="142.96" r="2.15"/><circle cx="420.03" cy="142.34" r="2.15"/><circle cx="421.65" cy="141.71" r="2.15"/><circle cx="423.27" cy="141.09" r="2.15"/><circle cx="424.9" cy="140.47" r="2.15"/><circle cx="426.52" cy="139.84" r="2.15"/><circle cx="428.14" cy="139.22" r="2.15"/><circle cx="429.77" cy="138.6" r="2.15"/><circle cx="431.39" cy="137.97" r="2.15"/><circle cx="433.02" cy="137.35" r="2.15"/><circle cx="434.64" cy="136.72" r="2.15"/><circle cx="436.26" cy="136.1" r="2.15"/><circle cx="437.89" cy="135.48" r="2.15"/><circle cx="439.51" cy="134.85" r="2.15"/><circle cx="441.14" cy="134.23" r="2.15"/><circle cx="442.76" cy="133.61" r="2.15"/><circle cx="444.38" cy="132.98" r="2.15"/><circle cx="446.01" cy="132.36" r="2.15"/><circle cx="447.63" cy="131.73" r="2.15"/><circle cx="449.26" cy="131.11" r="2.15"/><circle cx="450.88" cy="130.86" r="2.15"/><circle cx="452.5" cy="130.87" r="2.15"/><circle cx="454.13" cy="130.87" r="2.15"/><circle cx="455.75" cy="130.88" r="2.15"/><circle cx="457.38" cy="130.89" r="2.15"/><circle cx="459" cy="130.69" r="2.15"/><circle cx="460.62" cy="129.67" r="2.15"/><circle cx="462.25" cy="128.66" r="2.15"/><circle cx="463.87" cy="127.64" r="2.15"/><circle cx="465.49" cy="126.63" r="2.15"/><circle cx="467.12" cy="125.61" r="2.15"/><circle cx="468.74" cy="125.25" r="2.15"/><circle cx="470.37" cy="125.87" r="2.15"/><circle cx="471.99" cy="126.49" r="2.15"/><circle cx="473.61" cy="127.12" r="2.15"/><circle cx="475.24" cy="127.74" r="2.15"/><circle cx="476.86" cy="128.36" r="2.15"/><circle cx="478.49" cy="128.98" r="2.15"/><circle cx="480.11" cy="129.6" r="2.15"/><circle cx="481.73" cy="130.22" r="2.15"/><circle cx="483.36" cy="130.84" r="2.15"/><circle cx="484.98" cy="131.46" r="2.15"/><circle cx="486.61" cy="132.08" r="2.15"/><circle cx="488.23" cy="132.7" r="2.15"/><circle cx="489.85" cy="133.32" r="2.15"/><circle cx="491.48" cy="133.94" r="2.15"/><circle cx="493.1" cy="134.57" r="2.15"/><circle cx="494.72" cy="135.19" r="2.15"/><circle cx="496.35" cy="135.81" r="2.15"/><circle cx="497.97" cy="136.43" r="2.15"/><circle cx="499.6" cy="137.05" r="2.15"/><circle cx="501.22" cy="137.67" r="2.15"/><circle cx="502.84" cy="138.29" r="2.15"/><circle cx="504.47" cy="138.91" r="2.15"/><circle cx="506.09" cy="139.53" r="2.15"/><circle cx="507.72" cy="140.15" r="2.15"/><circle cx="509.34" cy="140.77" r="2.15"/><circle cx="510.96" cy="141.39" r="2.15"/><circle cx="512.59" cy="142.02" r="2.15"/><circle cx="514.21" cy="142.64" r="2.15"/><circle cx="515.84" cy="143.26" r="2.15"/><circle cx="517.46" cy="143.88" r="2.15"/><circle cx="519.08" cy="144.5" r="2.15"/><circle cx="520.71" cy="145.12" r="2.15"/><circle cx="522.33" cy="145.74" r="2.15"/><circle cx="523.95" cy="146.36" r="2.15"/><circle cx="525.58" cy="146.98" r="2.15"/><circle cx="527.2" cy="147.52" r="2.15"/><circle cx="528.83" cy="147.6" r="2.15"/><circle cx="530.45" cy="147.69" r="2.15"/><circle cx="532.07" cy="147.77" r="2.15"/><circle cx="533.7" cy="147.85" r="2.15"/><circle cx="535.32" cy="148.02" r="2.15"/><circle cx="536.95" cy="148.98" r="2.15"/><circle cx="538.57" cy="149.94" r="2.15"/><circle cx="540.19" cy="150.9" r="2.15"/><circle cx="541.82" cy="151.86" r="2.15"/><circle cx="543.44" cy="152.82" r="2.15"/><circle cx="545.07" cy="153.73" r="2.15"/><circle cx="546.69" cy="154.21" r="2.15"/><circle cx="548.31" cy="154.72" r="2.15"/><circle cx="549.94" cy="155.23" r="2.15"/><circle cx="551.56" cy="155.73" r="2.15"/><circle cx="553.18" cy="156.24" r="2.15"/><circle cx="554.81" cy="156.75" r="2.15"/><circle cx="556.43" cy="157.25" r="2.15"/><circle cx="558.06" cy="157.76" r="2.15"/><circle cx="559.68" cy="158.27" r="2.15"/><circle cx="561.3" cy="158.78" r="2.15"/><circle cx="562.93" cy="159.28" r="2.15"/><circle cx="564.55" cy="159.79" r="2.15"/><circle cx="566.18" cy="160.3" r="2.15"/><circle cx="567.8" cy="160.8" r="2.15"/><circle cx="569.42" cy="161.31" r="2.15"/><circle cx="571.05" cy="161.82" r="2.15"/><circle cx="572.67" cy="162.32" r="2.15"/><circle cx="574.3" cy="162.83" r="2.15"/><circle cx="575.92" cy="163.34" r="2.15"/><circle cx="577.54" cy="163.84" r="2.15"/><circle cx="579.17" cy="164.35" r="2.15"/><circle cx="580.79" cy="164.86" r="2.15"/><circle cx="582.41" cy="165.36" r="2.15"/><circle cx="584.04" cy="165.87" r="2.15"/><circle cx="585.66" cy="166.38" r="2.15"/><circle cx="587.29" cy="166.88" r="2.15"/><circle cx="588.91" cy="167.36" r="2.15"/><circle cx="590.53" cy="167.84" r="2.15"/><circle cx="592.16" cy="168.32" r="2.15"/><circle cx="593.78" cy="168.8" r="2.15"/><circle cx="595.41" cy="169.28" r="2.15"/><circle cx="597.03" cy="169.76" r="2.15"/><circle cx="598.65" cy="170.24" r="2.15"/><circle cx="600.28" cy="170.72" r="2.15"/><circle cx="601.9" cy="171.2" r="2.15"/><circle cx="603.52" cy="171.68" r="2.15"/><circle cx="605.15" cy="171.82" r="2.15"/><circle cx="606.77" cy="171.82" r="2.15"/><circle cx="608.4" cy="171.82" r="2.15"/><circle cx="610.02" cy="171.82" r="2.15"/><circle cx="611.64" cy="171.82" r="2.15"/><circle cx="613.27" cy="172.04" r="2.15"/><circle cx="614.89" cy="172.78" r="2.15"/><circle cx="616.52" cy="173.51" r="2.15"/><circle cx="618.14" cy="174.24" r="2.15"/><circle cx="619.76" cy="174.97" r="2.15"/><circle cx="621.39" cy="175.69" r="2.15"/><circle cx="623.01" cy="176.37" r="2.15"/><circle cx="624.64" cy="177.06" r="2.15"/><circle cx="626.26" cy="177.74" r="2.15"/><circle cx="627.88" cy="178.43" r="2.15"/><circle cx="629.51" cy="179.1" r="2.15"/><circle cx="631.13" cy="179.1" r="2.15"/><circle cx="632.75" cy="179.1" r="2.15"/><circle cx="634.38" cy="179.1" r="2.15"/><circle cx="636" cy="179.1" r="2.15"/><circle cx="637.63" cy="179.1" r="2.15"/><circle cx="639.25" cy="179.1" r="2.15"/><circle cx="640.87" cy="179.1" r="2.15"/><circle cx="642.5" cy="179.1" r="2.15"/><circle cx="644.12" cy="179.1" r="2.15"/><circle cx="645.75" cy="179.1" r="2.15"/><circle cx="647.37" cy="179.1" r="2.15"/><circle cx="648.99" cy="179.1" r="2.15"/><circle cx="650.62" cy="179.1" r="2.15"/><circle cx="652.24" cy="179.1" r="2.15"/><circle cx="653.87" cy="179.1" r="2.15"/><circle cx="655.49" cy="179.1" r="2.15"/><circle cx="657.11" cy="179.1" r="2.15"/><circle cx="658.74" cy="179.1" r="2.15"/><circle cx="660.36" cy="179.1" r="2.15"/><circle cx="661.99" cy="179.1" r="2.15"/><circle cx="663.61" cy="179.1" r="2.15"/><circle cx="665.23" cy="179.1" r="2.15"/><circle cx="666.86" cy="179.1" r="2.15"/><circle cx="668.48" cy="179.1" r="2.15"/><circle cx="670.1" cy="179.1" r="2.15"/><circle cx="671.73" cy="179.1" r="2.15"/></g>
<g fill="#b0b0b0"><circle cx="384.3" cy="179.1" r="2.15"/><circle cx="385.92" cy="179.1" r="2.15"/><circle cx="387.55" cy="179.1" r="2.15"/><circle cx="389.17" cy="179.1" r="2.15"/><circle cx="390.8" cy="179.1" r="2.15"/><circle cx="392.42" cy="179.1" r="2.15"/><circle cx="394.04" cy="174.98" r="2.15"/><circle cx="395.67" cy="169.1" r="2.15"/><circle cx="397.29" cy="163.22" r="2.15"/><circle cx="398.92" cy="157.34" r="2.15"/><circle cx="400.54" cy="151.45" r="2.15"/><circle cx="402.16" cy="150.46" r="2.15"/><circle cx="403.79" cy="149.48" r="2.15"/><circle cx="405.41" cy="148.49" r="2.15"/><circle cx="407.03" cy="147.51" r="2.15"/><circle cx="408.66" cy="146.71" r="2.15"/><circle cx="410.28" cy="146.08" r="2.15"/><circle cx="411.91" cy="145.46" r="2.15"/><circle cx="413.53" cy="144.83" r="2.15"/><circle cx="415.15" cy="144.21" r="2.15"/><circle cx="416.78" cy="143.59" r="2.15"/><circle cx="418.4" cy="142.96" r="2.15"/><circle cx="420.03" cy="142.34" r="2.15"/><circle cx="421.65" cy="141.71" r="2.15"/><circle cx="423.27" cy="141.09" r="2.15"/><circle cx="424.9" cy="140.47" r="2.15"/><circle cx="426.52" cy="139.84" r="2.15"/><circle cx="428.14" cy="139.22" r="2.15"/><circle cx="429.77" cy="138.6" r="2.15"/><circle cx="431.39" cy="137.97" r="2.15"/><circle cx="433.02" cy="137.35" r="2.15"/><circle cx="434.64" cy="136.72" r="2.15"/><circle cx="436.26" cy="136.1" r="2.15"/><circle cx="437.89" cy="135.48" r="2.15"/><circle cx="439.51" cy="134.85" r="2.15"/><circle cx="441.14" cy="134.23" r="2.15"/><circle cx="442.76" cy="133.61" r="2.15"/><circle cx="444.38" cy="132.98" r="2.15"/><circle cx="446.01" cy="132.36" r="2.15"/><circle cx="447.63" cy="131.73" r="2.15"/><circle cx="449.26" cy="131.11" r="2.15"/><circle cx="450.88" cy="130.86" r="2.15"/><circle cx="452.5" cy="130.87" r="2.15"/><circle cx="454.13" cy="130.87" r="2.15"/><circle cx="455.75" cy="130.88" r="2.15"/><circle cx="457.38" cy="130.89" r="2.15"/><circle cx="459" cy="130.69" r="2.15"/><circle cx="460.62" cy="129.67" r="2.15"/><circle cx="462.25" cy="128.66" r="2.15"/><circle cx="463.87" cy="127.64" r="2.15"/><circle cx="465.49" cy="126.63" r="2.15"/><circle cx="467.12" cy="125.61" r="2.15"/><circle cx="468.74" cy="125.25" r="2.15"/><circle cx="470.37" cy="125.87" r="2.15"/><circle cx="471.99" cy="126.49" r="2.15"/><circle cx="473.61" cy="127.12" r="2.15"/><circle cx="475.24" cy="127.74" r="2.15"/><circle cx="476.86" cy="128.36" r="2.15"/><circle cx="478.49" cy="128.98" r="2.15"/><circle cx="480.11" cy="129.6" r="2.15"/><circle cx="481.73" cy="130.22" r="2.15"/><circle cx="483.36" cy="130.84" r="2.15"/><circle cx="484.98" cy="131.46" r="2.15"/><circle cx="486.61" cy="132.08" r="2.15"/><circle cx="488.23" cy="132.7" r="2.15"/><circle cx="489.85" cy="133.32" r="2.15"/><circle cx="491.48" cy="133.94" r="2.15"/><circle cx="493.1" cy="134.57" r="2.15"/><circle cx="494.72" cy="135.19" r="2.15"/><circle cx="496.35" cy="135.81" r="2.15"/><circle cx="497.97" cy="136.43" r="2.15"/><circle cx="499.6" cy="137.05" r="2.15"/><circle cx="501.22" cy="137.67" r="2.15"/><circle cx="502.84" cy="138.29" r="2.15"/><circle cx="504.47" cy="138.91" r="2.15"/><circle cx="506.09" cy="139.53" r="2.15"/><circle cx="507.72" cy="140.15" r="2.15"/><circle cx="509.34" cy="140.77" r="2.15"/><circle cx="510.96" cy="141.39" r="2.15"/><circle cx="512.59" cy="142.02" r="2.15"/><circle cx="514.21" cy="142.64" r="2.15"/><circle cx="515.84" cy="143.26" r="2.15"/><circle cx="517.46" cy="143.88" r="2.15"/><circle cx="519.08" cy="144.5" r="2.15"/><circle cx="520.71" cy="145.12" r="2.15"/><circle cx="522.33" cy="145.74" r="2.15"/><circle cx="523.95" cy="146.36" r="2.15"/><circle cx="525.58" cy="146.98" r="2.15"/><circle cx="527.2" cy="147.52" r="2.15"/><circle cx="528.83" cy="147.6" r="2.15"/><circle cx="530.45" cy="147.69" r="2.15"/><circle cx="532.07" cy="147.77" r="2.15"/><circle cx="533.7" cy="147.85" r="2.15"/><circle cx="535.32" cy="148.02" r="2.15"/><circle cx="536.95" cy="148.98" r="2.15"/><circle cx="538.57" cy="149.94" r="2.15"/><circle cx="540.19" cy="150.9" r="2.15"/><circle cx="541.82" cy="151.86" r="2.15"/><circle cx="543.44" cy="152.82" r="2.15"/><circle cx="545.07" cy="153.73" r="2.15"/><circle cx="546.69" cy="154.21" r="2.15"/><circle cx="548.31" cy="154.72" r="2.15"/><circle cx="549.94" cy="155.23" r="2.15"/><circle cx="551.56" cy="155.73" r="2.15"/><circle cx="553.18" cy="156.24" r="2.15"/><circle cx="554.81" cy="156.75" r="2.15"/><circle cx="556.43" cy="157.25" r="2.15"/><circle cx="558.06" cy="157.76" r="2.15"/><circle cx="559.68" cy="158.27" r="2.15"/><circle cx="561.3" cy="158.78" r="2.15"/><circle cx="562.93" cy="159.28" r="2.15"/><circle cx="564.55" cy="159.79" r="2.15"/><circle cx="566.18" cy="160.3" r="2.15"/><circle cx="567.8" cy="160.8" r="2.15"/><circle cx="569.42" cy="161.31" r="2.15"/><circle cx="571.05" cy="161.82" r="2.15"/><circle cx="572.67" cy="162.32" r="2.15"/><circle cx="574.3" cy="162.83" r="2.15"/><circle cx="575.92" cy="163.34" r="2.15"/><circle cx="577.54" cy="163.84" r="2.15"/><circle cx="579.17" cy="164.35" r="2.15"/><circle cx="580.79" cy="164.86" r="2.15"/><circle cx="582.41" cy="165.36" r="2.15"/><circle cx="584.04" cy="165.87" r="2.15"/><circle cx="585.66" cy="166.38" r="2.15"/><circle cx="587.29" cy="166.88" r="2.15"/><circle cx="588.91" cy="167.36" r="2.15"/><circle cx="590.53" cy="167.84" r="2.15"/><circle cx="592.16" cy="168.32" r="2.15"/><circle cx="593.78" cy="168.8" r="2.15"/><circle cx="595.41" cy="169.28" r="2.15"/><circle cx="597.03" cy="169.76" r="2.15"/><circle cx="598.65" cy="170.24" r="2.15"/><circle cx="600.28" cy="170.72" r="2.15"/><circle cx="601.9" cy="171.2" r="2.15"/><circle cx="603.52" cy="171.68" r="2.15"/><circle cx="605.15" cy="171.82" r="2.15"/><circle cx="606.77" cy="171.82" r="2.15"/><circle cx="608.4" cy="171.82" r="2.15"/><circle cx="610.02" cy="171.82" r="2.15"/><circle cx="611.64" cy="171.82" r="2.15"/><circle cx="613.27" cy="172.04" r="2.15"/><circle cx="614.89" cy="172.78" r="2.15"/><circle cx="616.52" cy="173.51" r="2.15"/><circle cx="618.14" cy="174.24" r="2.15"/><circle cx="619.76" cy="174.97" r="2.15"/><circle cx="621.39" cy="175.69" r="2.15"/><circle cx="623.01" cy="176.37" r="2.15"/><circle cx="624.64" cy="177.06" r="2.15"/><circle cx="626.26" cy="177.74" r="2.15"/><circle cx="627.88" cy="178.43" r="2.15"/><circle cx="629.51" cy="179.1" r="2.15"/><circle cx="631.13" cy="179.1" r="2.15"/><circle cx="632.75" cy="179.1" r="2.15"/><circle cx="634.38" cy="179.1" r="2.15"/><circle cx="636" cy="179.1" r="2.15"/><circle cx="637.63" cy="179.1" r="2.15"/><circle cx="639.25" cy="179.1" r="2.15"/><circle cx="640.87" cy="179.1" r="2.15"/><circle cx="642.5" cy="179.1" r="2.15"/><circle cx="644.12" cy="179.1" r="2.15"/><circle cx="645.75" cy="179.1" r="2.15"/><circle cx="647.37" cy="179.1" r="2.15"/><circle cx="648.99" cy="179.1" r="2.15"/><circle cx="650.62" cy="179.1" r="2.15"/><circle cx="652.24" cy="179.1" r="2.15"/><circle cx="653.87" cy="179.1" r="2.15"/><circle cx="655.49" cy="179.1" r="2.15"/><circle cx="657.11" cy="179.1" r="2.15"/><circle cx="658.74" cy="179.1" r="2.15"/><circle cx="660.36" cy="179.1" r="2.15"/><circle cx="661.99" cy="179.1" r="2.15"/><circle cx="663.61" cy="179.1" r="2.15"/><circle cx="665.23" cy="179.1" r="2.15"/><circle cx="666.86" cy="179.1" r="2.15"/><circle cx="668.48" cy="179.1" r="2.15"/><circle cx="670.1" cy="179.1" r="2.15"/><circle cx="671.73" cy="179.1" r="2.15"/></g>
<rect x="610.5" y="63.4" width="62.4" height="44.7" fill="#ffffff" stroke="#404040" stroke-width="1"/>
<circle cx="616.4" cy="70.8" r="2.35" fill="#000000"/>
<text x="621.3" y="73.84" font-size="9.2" fill="#6b6b6b">CS-2 2001</text>
<circle cx="616.4" cy="85.7" r="2.35" fill="#d9d9d9"/>
<text x="621.3" y="88.74" font-size="9.2" fill="#6b6b6b">CS-2 2010-1</text>
<circle cx="616.4" cy="100.6" r="2.35" fill="#b0b0b0"/>
<text x="621.3" y="103.64" font-size="9.2" fill="#6b6b6b">CS-2 2010-2</text>
<text x="296.2" y="237.3" font-size="22.8" fill="#000">(b)</text>
<rect x="29.6" y="251.4" width="302.1" height="176.7" fill="none" stroke="#d9d9d9" stroke-width="1"/>
<g font-size="6.6" fill="#6b6b6b"><text x="23.8" y="430.58" text-anchor="end">0</text><text x="23.8" y="410.94" text-anchor="end">2</text><text x="23.8" y="391.31" text-anchor="end">4</text><text x="23.8" y="371.68" text-anchor="end">6</text><text x="23.8" y="352.04" text-anchor="end">8</text><text x="23.8" y="332.41" text-anchor="end">10</text><text x="23.8" y="312.78" text-anchor="end">12</text><text x="23.8" y="293.14" text-anchor="end">14</text><text x="23.8" y="273.51" text-anchor="end">16</text><text x="23.8" y="253.88" text-anchor="end">18</text><text x="29.6" y="438.18" text-anchor="middle">0</text><text x="63.17" y="438.18" text-anchor="middle">20</text><text x="96.73" y="438.18" text-anchor="middle">40</text><text x="130.3" y="438.18" text-anchor="middle">60</text><text x="163.87" y="438.18" text-anchor="middle">80</text><text x="197.43" y="438.18" text-anchor="middle">100</text><text x="231" y="438.18" text-anchor="middle">120</text><text x="264.57" y="438.18" text-anchor="middle">140</text><text x="298.13" y="438.18" text-anchor="middle">160</text><text x="331.7" y="438.18" text-anchor="middle">180</text></g>
<text x="180.7" y="452.66" font-size="11.1" fill="#6b6b6b" text-anchor="middle">Distance (m)</text>
<text transform="translate(11.43,339.3) rotate(-90)" font-size="11.0" fill="#6b6b6b" text-anchor="middle">Water Depth (m)</text>
<g fill="#000000"><circle cx="84.31" cy="424.13" r="2.0"/><circle cx="85.99" cy="422.32" r="2.0"/><circle cx="87.67" cy="421.69" r="2.0"/><circle cx="89.35" cy="421.05" r="2.0"/><circle cx="91.03" cy="420.42" r="2.0"/><circle cx="92.71" cy="419.79" r="2.0"/><circle cx="94.38" cy="419.15" r="2.0"/><circle cx="96.06" cy="417.08" r="2.0"/><circle cx="97.74" cy="410.67" r="2.0"/><circle cx="99.42" cy="404.27" r="2.0"/><circle cx="101.1" cy="397.87" r="2.0"/><circle cx="102.78" cy="391.47" r="2.0"/><circle cx="104.45" cy="386.43" r="2.0"/><circle cx="106.13" cy="383.04" r="2.0"/><circle cx="107.81" cy="379.65" r="2.0"/><circle cx="109.49" cy="376.26" r="2.0"/><circle cx="111.17" cy="372.87" r="2.0"/><circle cx="112.85" cy="370.04" r="2.0"/><circle cx="114.52" cy="368.22" r="2.0"/><circle cx="116.2" cy="366.41" r="2.0"/><circle cx="117.88" cy="364.63" r="2.0"/><circle cx="119.56" cy="363.56" r="2.0"/><circle cx="121.24" cy="362.49" r="2.0"/><circle cx="122.92" cy="361.42" r="2.0"/><circle cx="124.59" cy="361.26" r="2.0"/><circle cx="126.27" cy="361.28" r="2.0"/><circle cx="127.95" cy="361.42" r="2.0"/><circle cx="129.63" cy="361.57" r="2.0"/><circle cx="131.31" cy="361.72" r="2.0"/><circle cx="132.99" cy="361.86" r="2.0"/><circle cx="134.66" cy="362.01" r="2.0"/><circle cx="136.34" cy="362.16" r="2.0"/><circle cx="138.02" cy="362.3" r="2.0"/><circle cx="139.7" cy="362.45" r="2.0"/><circle cx="141.38" cy="362.6" r="2.0"/><circle cx="143.06" cy="362.75" r="2.0"/><circle cx="144.73" cy="362.89" r="2.0"/><circle cx="146.41" cy="363.04" r="2.0"/><circle cx="148.09" cy="363.19" r="2.0"/><circle cx="149.77" cy="363.33" r="2.0"/><circle cx="151.45" cy="363.48" r="2.0"/><circle cx="153.13" cy="363.63" r="2.0"/><circle cx="154.8" cy="363.77" r="2.0"/><circle cx="156.48" cy="363.9" r="2.0"/><circle cx="158.16" cy="363.92" r="2.0"/><circle cx="159.84" cy="363.94" r="2.0"/><circle cx="161.52" cy="363.96" r="2.0"/><circle cx="163.2" cy="363.98" r="2.0"/><circle cx="164.87" cy="364.01" r="2.0"/><circle cx="166.55" cy="364.03" r="2.0"/><circle cx="168.23" cy="364.05" r="2.0"/><circle cx="169.91" cy="364.07" r="2.0"/><circle cx="171.59" cy="363.95" r="2.0"/><circle cx="173.27" cy="363.69" r="2.0"/><circle cx="174.94" cy="363.43" r="2.0"/><circle cx="176.62" cy="363.17" r="2.0"/><circle cx="178.3" cy="362.91" r="2.0"/><circle cx="179.98" cy="362.65" r="2.0"/><circle cx="181.66" cy="362.38" r="2.0"/><circle cx="183.34" cy="362.12" r="2.0"/><circle cx="185.01" cy="361.86" r="2.0"/><circle cx="186.69" cy="361.6" r="2.0"/><circle cx="188.37" cy="361.34" r="2.0"/><circle cx="190.05" cy="361.31" r="2.0"/><circle cx="191.73" cy="361.46" r="2.0"/><circle cx="193.41" cy="361.74" r="2.0"/><circle cx="195.08" cy="362.03" r="2.0"/><circle cx="196.76" cy="362.31" r="2.0"/><circle cx="198.44" cy="362.87" r="2.0"/><circle cx="200.12" cy="364.27" r="2.0"/><circle cx="201.8" cy="365.67" r="2.0"/><circle cx="203.48" cy="368.93" r="2.0"/><circle cx="205.15" cy="373.21" r="2.0"/><circle cx="206.83" cy="377.48" r="2.0"/><circle cx="208.51" cy="381.75" r="2.0"/><circle cx="210.19" cy="386.02" r="2.0"/><circle cx="211.87" cy="390.3" r="2.0"/><circle cx="213.55" cy="394.57" r="2.0"/><circle cx="215.22" cy="398.84" r="2.0"/><circle cx="216.9" cy="403.12" r="2.0"/><circle cx="218.58" cy="407.39" r="2.0"/><circle cx="220.26" cy="411.66" r="2.0"/><circle cx="221.94" cy="415.93" r="2.0"/><circle cx="223.62" cy="420.21" r="2.0"/><circle cx="225.29" cy="424.48" r="2.0"/></g>
<g fill="#d9d9d9"><circle cx="29.6" cy="428.1" r="2.15"/><circle cx="30.02" cy="428.1" r="2.15"/><circle cx="30.44" cy="428.1" r="2.15"/><circle cx="30.86" cy="428.1" r="2.15"/><circle cx="31.28" cy="428.1" r="2.15"/><circle cx="31.7" cy="428.1" r="2.15"/><circle cx="32.12" cy="428.1" r="2.15"/><circle cx="32.54" cy="428.1" r="2.15"/><circle cx="32.96" cy="428.1" r="2.15"/><circle cx="33.38" cy="428.1" r="2.15"/><circle cx="33.8" cy="428.1" r="2.15"/><circle cx="34.22" cy="428.1" r="2.15"/><circle cx="34.64" cy="428.1" r="2.15"/><circle cx="35.05" cy="428.1" r="2.15"/><circle cx="35.47" cy="428.1" r="2.15"/><circle cx="35.89" cy="428.1" r="2.15"/><circle cx="36.31" cy="428.1" r="2.15"/><circle cx="36.73" cy="428.1" r="2.15"/><circle cx="37.15" cy="428.1" r="2.15"/><circle cx="37.57" cy="428.1" r="2.15"/><circle cx="37.99" cy="428.1" r="2.15"/><circle cx="38.41" cy="428.1" r="2.15"/><circle cx="38.83" cy="428.1" r="2.15"/><circle cx="39.25" cy="428.1" r="2.15"/><circle cx="39.67" cy="428.1" r="2.15"/><circle cx="40.09" cy="428.1" r="2.15"/><circle cx="40.51" cy="428.1" r="2.15"/><circle cx="40.93" cy="428.1" r="2.15"/><circle cx="41.35" cy="428.1" r="2.15"/><circle cx="41.77" cy="428.1" r="2.15"/><circle cx="42.19" cy="428.1" r="2.15"/><circle cx="42.61" cy="428.1" r="2.15"/><circle cx="43.03" cy="428.1" r="2.15"/><circle cx="43.45" cy="428.1" r="2.15"/><circle cx="43.87" cy="428.1" r="2.15"/><circle cx="44.29" cy="428.1" r="2.15"/><circle cx="44.7" cy="428.1" r="2.15"/><circle cx="45.12" cy="428.1" r="2.15"/><circle cx="45.54" cy="428.1" r="2.15"/><circle cx="45.96" cy="428.1" r="2.15"/><circle cx="46.38" cy="428.1" r="2.15"/><circle cx="46.8" cy="428.1" r="2.15"/><circle cx="47.22" cy="428.1" r="2.15"/><circle cx="47.64" cy="428.1" r="2.15"/><circle cx="48.06" cy="428.1" r="2.15"/><circle cx="48.48" cy="428.1" r="2.15"/><circle cx="48.9" cy="428.1" r="2.15"/><circle cx="49.32" cy="428.1" r="2.15"/><circle cx="49.74" cy="428.1" r="2.15"/><circle cx="50.16" cy="428.1" r="2.15"/><circle cx="50.58" cy="428.1" r="2.15"/><circle cx="51" cy="428.1" r="2.15"/><circle cx="51.42" cy="428.1" r="2.15"/><circle cx="51.84" cy="428.1" r="2.15"/><circle cx="52.26" cy="428.1" r="2.15"/><circle cx="52.68" cy="428.1" r="2.15"/><circle cx="53.1" cy="428.1" r="2.15"/><circle cx="53.52" cy="428.1" r="2.15"/><circle cx="53.94" cy="428.1" r="2.15"/><circle cx="54.36" cy="428.1" r="2.15"/><circle cx="54.77" cy="428.1" r="2.15"/><circle cx="55.19" cy="428.1" r="2.15"/><circle cx="55.61" cy="428.1" r="2.15"/><circle cx="56.03" cy="428.1" r="2.15"/><circle cx="56.45" cy="428.1" r="2.15"/><circle cx="56.87" cy="428.1" r="2.15"/><circle cx="57.29" cy="428.1" r="2.15"/><circle cx="57.71" cy="428.1" r="2.15"/><circle cx="58.13" cy="428.1" r="2.15"/><circle cx="58.55" cy="428.1" r="2.15"/><circle cx="58.97" cy="428.1" r="2.15"/><circle cx="59.39" cy="428.1" r="2.15"/><circle cx="59.81" cy="428.1" r="2.15"/><circle cx="60.23" cy="428.1" r="2.15"/><circle cx="60.65" cy="428.1" r="2.15"/><circle cx="61.07" cy="428.1" r="2.15"/><circle cx="61.49" cy="428.1" r="2.15"/><circle cx="61.91" cy="428.1" r="2.15"/><circle cx="62.33" cy="428.1" r="2.15"/><circle cx="62.75" cy="428.1" r="2.15"/><circle cx="63.17" cy="428.1" r="2.15"/><circle cx="63.59" cy="428.1" r="2.15"/><circle cx="64.01" cy="428.1" r="2.15"/><circle cx="64.43" cy="428.1" r="2.15"/><circle cx="64.84" cy="428.1" r="2.15"/><circle cx="65.26" cy="428.1" r="2.15"/><circle cx="65.68" cy="428.1" r="2.15"/><circle cx="66.1" cy="428.1" r="2.15"/><circle cx="66.52" cy="428.1" r="2.15"/><circle cx="66.94" cy="428.1" r="2.15"/><circle cx="67.36" cy="428.1" r="2.15"/><circle cx="67.78" cy="428.1" r="2.15"/><circle cx="68.2" cy="428.1" r="2.15"/><circle cx="68.62" cy="428.1" r="2.15"/><circle cx="69.04" cy="428.1" r="2.15"/><circle cx="69.46" cy="428.1" r="2.15"/><circle cx="69.88" cy="428.1" r="2.15"/><circle cx="70.3" cy="428.1" r="2.15"/><circle cx="70.72" cy="428.1" r="2.15"/><circle cx="71.14" cy="428.1" r="2.15"/><circle cx="71.56" cy="428.1" r="2.15"/><circle cx="71.98" cy="428.1" r="2.15"/><circle cx="72.4" cy="428.1" r="2.15"/><circle cx="72.82" cy="428.1" r="2.15"/><circle cx="73.24" cy="428.1" r="2.15"/><circle cx="73.66" cy="428.1" r="2.15"/><circle cx="74.08" cy="428.1" r="2.15"/><circle cx="74.5" cy="428.1" r="2.15"/><circle cx="74.91" cy="428.1" r="2.15"/><circle cx="75.33" cy="428.1" r="2.15"/><circle cx="75.75" cy="428.1" r="2.15"/><circle cx="76.17" cy="428.1" r="2.15"/><circle cx="76.59" cy="428.1" r="2.15"/><circle cx="77.01" cy="428.1" r="2.15"/><circle cx="77.43" cy="428.1" r="2.15"/><circle cx="77.85" cy="428.1" r="2.15"/><circle cx="78.27" cy="428.1" r="2.15"/><circle cx="78.69" cy="428.1" r="2.15"/><circle cx="79.11" cy="428.1" r="2.15"/><circle cx="79.53" cy="428.1" r="2.15"/><circle cx="79.95" cy="428.1" r="2.15"/><circle cx="80.37" cy="428.1" r="2.15"/><circle cx="80.79" cy="428.1" r="2.15"/><circle cx="81.21" cy="428.1" r="2.15"/><circle cx="81.63" cy="428.1" r="2.15"/><circle cx="82.05" cy="428.1" r="2.15"/><circle cx="82.47" cy="428.1" r="2.15"/><circle cx="82.89" cy="428.1" r="2.15"/><circle cx="83.31" cy="428.1" r="2.15"/><circle cx="83.73" cy="428.1" r="2.15"/><circle cx="84.15" cy="428.1" r="2.15"/><circle cx="84.57" cy="427.3" r="2.15"/><circle cx="84.98" cy="425.97" r="2.15"/><circle cx="85.4" cy="424.64" r="2.15"/><circle cx="85.82" cy="424.24" r="2.15"/><circle cx="86.24" cy="424.08" r="2.15"/><circle cx="86.66" cy="423.93" r="2.15"/><circle cx="87.08" cy="423.77" r="2.15"/><circle cx="87.5" cy="423.61" r="2.15"/><circle cx="87.92" cy="423.45" r="2.15"/><circle cx="88.34" cy="423.29" r="2.15"/><circle cx="88.76" cy="423.13" r="2.15"/><circle cx="89.18" cy="422.97" r="2.15"/><circle cx="89.6" cy="422.82" r="2.15"/><circle cx="90.02" cy="422.66" r="2.15"/><circle cx="90.44" cy="422.5" r="2.15"/><circle cx="90.86" cy="422.34" r="2.15"/><circle cx="91.28" cy="422.18" r="2.15"/><circle cx="91.7" cy="422.02" r="2.15"/><circle cx="92.12" cy="421.86" r="2.15"/><circle cx="92.54" cy="421.71" r="2.15"/><circle cx="92.96" cy="421.55" r="2.15"/><circle cx="93.38" cy="421.39" r="2.15"/><circle cx="93.8" cy="421.23" r="2.15"/><circle cx="94.22" cy="421.07" r="2.15"/><circle cx="94.64" cy="420.91" r="2.15"/><circle cx="95.06" cy="420.75" r="2.15"/><circle cx="95.47" cy="420.6" r="2.15"/><circle cx="95.89" cy="420.44" r="2.15"/><circle cx="96.31" cy="420.28" r="2.15"/><circle cx="96.73" cy="418.97" r="2.15"/><circle cx="97.15" cy="417.37" r="2.15"/><circle cx="97.57" cy="415.77" r="2.15"/><circle cx="97.99" cy="414.17" r="2.15"/><circle cx="98.41" cy="412.57" r="2.15"/><circle cx="98.83" cy="410.96" r="2.15"/><circle cx="99.25" cy="409.36" r="2.15"/><circle cx="99.67" cy="407.76" r="2.15"/><circle cx="100.09" cy="406.16" r="2.15"/><circle cx="100.51" cy="404.56" r="2.15"/><circle cx="100.93" cy="402.96" r="2.15"/><circle cx="101.35" cy="401.36" r="2.15"/><circle cx="101.77" cy="399.76" r="2.15"/><circle cx="102.19" cy="398.16" r="2.15"/><circle cx="102.61" cy="396.56" r="2.15"/><circle cx="103.03" cy="394.96" r="2.15"/><circle cx="103.45" cy="393.36" r="2.15"/><circle cx="103.87" cy="391.76" r="2.15"/><circle cx="104.29" cy="390.16" r="2.15"/><circle cx="104.71" cy="389.01" r="2.15"/><circle cx="105.12" cy="388.17" r="2.15"/><circle cx="105.54" cy="387.32" r="2.15"/><circle cx="105.96" cy="386.47" r="2.15"/><circle cx="106.38" cy="385.62" r="2.15"/><circle cx="106.8" cy="384.78" r="2.15"/><circle cx="107.22" cy="383.93" r="2.15"/><circle cx="107.64" cy="383.08" r="2.15"/><circle cx="108.06" cy="382.24" r="2.15"/><circle cx="108.48" cy="381.39" r="2.15"/><circle cx="108.9" cy="380.54" r="2.15"/><circle cx="109.32" cy="379.7" r="2.15"/><circle cx="109.74" cy="378.85" r="2.15"/><circle cx="110.16" cy="378" r="2.15"/><circle cx="110.58" cy="377.16" r="2.15"/><circle cx="111" cy="376.31" r="2.15"/><circle cx="111.42" cy="375.46" r="2.15"/><circle cx="111.84" cy="374.61" r="2.15"/><circle cx="112.26" cy="373.77" r="2.15"/><circle cx="112.68" cy="372.92" r="2.15"/><circle cx="113.1" cy="372.15" r="2.15"/><circle cx="113.52" cy="371.7" r="2.15"/><circle cx="113.94" cy="371.25" r="2.15"/><circle cx="114.36" cy="370.79" r="2.15"/><circle cx="114.78" cy="370.34" r="2.15"/><circle cx="115.19" cy="369.88" r="2.15"/><circle cx="115.61" cy="369.43" r="2.15"/><circle cx="116.03" cy="368.98" r="2.15"/><circle cx="116.45" cy="368.52" r="2.15"/><circle cx="116.87" cy="368.07" r="2.15"/><circle cx="117.29" cy="367.62" r="2.15"/><circle cx="117.71" cy="367.16" r="2.15"/><circle cx="118.13" cy="366.71" r="2.15"/><circle cx="118.55" cy="366.25" r="2.15"/><circle cx="118.97" cy="365.99" r="2.15"/><circle cx="119.39" cy="365.72" r="2.15"/><circle cx="119.81" cy="365.45" r="2.15"/><circle cx="120.23" cy="365.18" r="2.15"/><circle cx="120.65" cy="364.92" r="2.15"/><circle cx="121.07" cy="364.65" r="2.15"/><circle cx="121.49" cy="364.38" r="2.15"/><circle cx="121.91" cy="364.11" r="2.15"/><circle cx="122.33" cy="363.85" r="2.15"/><circle cx="122.75" cy="363.58" r="2.15"/><circle cx="123.17" cy="363.31" r="2.15"/><circle cx="123.59" cy="363.04" r="2.15"/><circle cx="124.01" cy="362.77" r="2.15"/><circle cx="124.43" cy="362.75" r="2.15"/><circle cx="124.85" cy="362.79" r="2.15"/><circle cx="125.26" cy="362.82" r="2.15"/><circle cx="125.68" cy="362.86" r="2.15"/><circle cx="126.1" cy="362.9" r="2.15"/><circle cx="126.52" cy="362.93" r="2.15"/><circle cx="126.94" cy="362.97" r="2.15"/><circle cx="127.36" cy="363.01" r="2.15"/><circle cx="127.78" cy="363.04" r="2.15"/><circle cx="128.2" cy="363.08" r="2.15"/><circle cx="128.62" cy="363.12" r="2.15"/><circle cx="129.04" cy="363.15" r="2.15"/><circle cx="129.46" cy="363.19" r="2.15"/><circle cx="129.88" cy="363.23" r="2.15"/><circle cx="130.3" cy="363.26" r="2.15"/><circle cx="130.72" cy="363.3" r="2.15"/><circle cx="131.14" cy="363.34" r="2.15"/><circle cx="131.56" cy="363.38" r="2.15"/><circle cx="131.98" cy="363.41" r="2.15"/><circle cx="132.4" cy="363.45" r="2.15"/><circle cx="132.82" cy="363.49" r="2.15"/><circle cx="133.24" cy="363.52" r="2.15"/><circle cx="133.66" cy="363.56" r="2.15"/><circle cx="134.08" cy="363.6" r="2.15"/><circle cx="134.5" cy="363.63" r="2.15"/><circle cx="134.92" cy="363.67" r="2.15"/><circle cx="135.34" cy="363.71" r="2.15"/><circle cx="135.75" cy="363.74" r="2.15"/><circle cx="136.17" cy="363.78" r="2.15"/><circle cx="136.59" cy="363.82" r="2.15"/><circle cx="137.01" cy="363.85" r="2.15"/><circle cx="137.43" cy="363.89" r="2.15"/><circle cx="137.85" cy="363.93" r="2.15"/><circle cx="138.27" cy="363.96" r="2.15"/><circle cx="138.69" cy="364" r="2.15"/><circle cx="139.11" cy="364.04" r="2.15"/><circle cx="139.53" cy="364.07" r="2.15"/><circle cx="139.95" cy="364.11" r="2.15"/><circle cx="140.37" cy="364.15" r="2.15"/><circle cx="140.79" cy="364.18" r="2.15"/><circle cx="141.21" cy="364.22" r="2.15"/><circle cx="141.63" cy="364.26" r="2.15"/><circle cx="142.05" cy="364.29" r="2.15"/><circle cx="142.47" cy="364.33" r="2.15"/><circle cx="142.89" cy="364.37" r="2.15"/><circle cx="143.31" cy="364.4" r="2.15"/><circle cx="143.73" cy="364.44" r="2.15"/><circle cx="144.15" cy="364.48" r="2.15"/><circle cx="144.57" cy="364.51" r="2.15"/><circle cx="144.99" cy="364.55" r="2.15"/><circle cx="145.41" cy="364.59" r="2.15"/><circle cx="145.82" cy="364.62" r="2.15"/><circle cx="146.24" cy="364.66" r="2.15"/><circle cx="146.66" cy="364.7" r="2.15"/><circle cx="147.08" cy="364.73" r="2.15"/><circle cx="147.5" cy="364.77" r="2.15"/><circle cx="147.92" cy="364.81" r="2.15"/><circle cx="148.34" cy="364.84" r="2.15"/><circle cx="148.76" cy="364.88" r="2.15"/><circle cx="149.18" cy="364.92" r="2.15"/><circle cx="149.6" cy="364.96" r="2.15"/><circle cx="150.02" cy="364.99" r="2.15"/><circle cx="150.44" cy="365.03" r="2.15"/><circle cx="150.86" cy="365.07" r="2.15"/><circle cx="151.28" cy="365.1" r="2.15"/><circle cx="151.7" cy="365.14" r="2.15"/><circle cx="152.12" cy="365.18" r="2.15"/><circle cx="152.54" cy="365.21" r="2.15"/><circle cx="152.96" cy="365.25" r="2.15"/><circle cx="153.38" cy="365.29" r="2.15"/><circle cx="153.8" cy="365.32" r="2.15"/><circle cx="154.22" cy="365.36" r="2.15"/><circle cx="154.64" cy="365.4" r="2.15"/><circle cx="155.06" cy="365.43" r="2.15"/><circle cx="155.47" cy="365.47" r="2.15"/><circle cx="155.89" cy="365.47" r="2.15"/><circle cx="156.31" cy="365.48" r="2.15"/><circle cx="156.73" cy="365.49" r="2.15"/><circle cx="157.15" cy="365.49" r="2.15"/><circle cx="157.57" cy="365.5" r="2.15"/><circle cx="157.99" cy="365.5" r="2.15"/><circle cx="158.41" cy="365.51" r="2.15"/><circle cx="158.83" cy="365.51" r="2.15"/><circle cx="159.25" cy="365.52" r="2.15"/><circle cx="159.67" cy="365.52" r="2.15"/><circle cx="160.09" cy="365.53" r="2.15"/><circle cx="160.51" cy="365.53" r="2.15"/><circle cx="160.93" cy="365.54" r="2.15"/><circle cx="161.35" cy="365.54" r="2.15"/><circle cx="161.77" cy="365.55" r="2.15"/><circle cx="162.19" cy="365.55" r="2.15"/><circle cx="162.61" cy="365.56" r="2.15"/><circle cx="163.03" cy="365.56" r="2.15"/><circle cx="163.45" cy="365.57" r="2.15"/><circle cx="163.87" cy="365.57" r="2.15"/><circle cx="164.29" cy="365.58" r="2.15"/><circle cx="164.71" cy="365.58" r="2.15"/><circle cx="165.13" cy="365.59" r="2.15"/><circle cx="165.54" cy="365.59" r="2.15"/><circle cx="165.96" cy="365.6" r="2.15"/><circle cx="166.38" cy="365.6" r="2.15"/><circle cx="166.8" cy="365.61" r="2.15"/><circle cx="167.22" cy="365.61" r="2.15"/><circle cx="167.64" cy="365.62" r="2.15"/><circle cx="168.06" cy="365.62" r="2.15"/><circle cx="168.48" cy="365.63" r="2.15"/><circle cx="168.9" cy="365.63" r="2.15"/><circle cx="169.32" cy="365.64" r="2.15"/><circle cx="169.74" cy="365.65" r="2.15"/><circle cx="170.16" cy="365.65" r="2.15"/><circle cx="170.58" cy="365.66" r="2.15"/><circle cx="171" cy="365.66" r="2.15"/><circle cx="171.42" cy="365.67" r="2.15"/><circle cx="171.84" cy="365.6" r="2.15"/><circle cx="172.26" cy="365.54" r="2.15"/><circle cx="172.68" cy="365.47" r="2.15"/><circle cx="173.1" cy="365.4" r="2.15"/><circle cx="173.52" cy="365.34" r="2.15"/><circle cx="173.94" cy="365.27" r="2.15"/><circle cx="174.36" cy="365.21" r="2.15"/><circle cx="174.78" cy="365.14" r="2.15"/><circle cx="175.2" cy="365.08" r="2.15"/><circle cx="175.61" cy="365.01" r="2.15"/><circle cx="176.03" cy="364.95" r="2.15"/><circle cx="176.45" cy="364.88" r="2.15"/><circle cx="176.87" cy="364.82" r="2.15"/><circle cx="177.29" cy="364.75" r="2.15"/><circle cx="177.71" cy="364.69" r="2.15"/><circle cx="178.13" cy="364.62" r="2.15"/><circle cx="178.55" cy="364.56" r="2.15"/><circle cx="178.97" cy="364.49" r="2.15"/><circle cx="179.39" cy="364.43" r="2.15"/><circle cx="179.81" cy="364.36" r="2.15"/><circle cx="180.23" cy="364.29" r="2.15"/><circle cx="180.65" cy="364.23" r="2.15"/><circle cx="181.07" cy="364.16" r="2.15"/><circle cx="181.49" cy="364.1" r="2.15"/><circle cx="181.91" cy="364.03" r="2.15"/><circle cx="182.33" cy="363.97" r="2.15"/><circle cx="182.75" cy="363.9" r="2.15"/><circle cx="183.17" cy="363.84" r="2.15"/><circle cx="183.59" cy="363.77" r="2.15"/><circle cx="184.01" cy="363.71" r="2.15"/><circle cx="184.43" cy="363.64" r="2.15"/><circle cx="184.85" cy="363.58" r="2.15"/><circle cx="185.27" cy="363.51" r="2.15"/><circle cx="185.68" cy="363.45" r="2.15"/><circle cx="186.1" cy="363.38" r="2.15"/><circle cx="186.52" cy="363.32" r="2.15"/><circle cx="186.94" cy="363.25" r="2.15"/><circle cx="187.36" cy="363.18" r="2.15"/><circle cx="187.78" cy="363.12" r="2.15"/><circle cx="188.2" cy="363.05" r="2.15"/><circle cx="188.62" cy="362.99" r="2.15"/><circle cx="189.04" cy="362.92" r="2.15"/><circle cx="189.46" cy="362.86" r="2.15"/><circle cx="189.88" cy="362.85" r="2.15"/><circle cx="190.3" cy="362.92" r="2.15"/><circle cx="190.72" cy="362.99" r="2.15"/><circle cx="191.14" cy="363.06" r="2.15"/><circle cx="191.56" cy="363.13" r="2.15"/><circle cx="191.98" cy="363.2" r="2.15"/><circle cx="192.4" cy="363.27" r="2.15"/><circle cx="192.82" cy="363.34" r="2.15"/><circle cx="193.24" cy="363.41" r="2.15"/><circle cx="193.66" cy="363.49" r="2.15"/><circle cx="194.08" cy="363.56" r="2.15"/><circle cx="194.5" cy="363.63" r="2.15"/><circle cx="194.92" cy="363.7" r="2.15"/><circle cx="195.34" cy="363.77" r="2.15"/><circle cx="195.75" cy="363.84" r="2.15"/><circle cx="196.17" cy="363.91" r="2.15"/><circle cx="196.59" cy="363.98" r="2.15"/><circle cx="197.01" cy="364.05" r="2.15"/><circle cx="197.43" cy="364.24" r="2.15"/><circle cx="197.85" cy="364.58" r="2.15"/><circle cx="198.27" cy="364.93" r="2.15"/><circle cx="198.69" cy="365.28" r="2.15"/><circle cx="199.11" cy="365.63" r="2.15"/><circle cx="199.53" cy="365.98" r="2.15"/><circle cx="199.95" cy="366.33" r="2.15"/><circle cx="200.37" cy="366.68" r="2.15"/><circle cx="200.79" cy="367.03" r="2.15"/><circle cx="201.21" cy="367.38" r="2.15"/><circle cx="201.63" cy="367.73" r="2.15"/><circle cx="202.05" cy="368.8" r="2.15"/><circle cx="202.47" cy="369.86" r="2.15"/><circle cx="202.89" cy="370.93" r="2.15"/><circle cx="203.31" cy="372" r="2.15"/><circle cx="203.73" cy="373.07" r="2.15"/><circle cx="204.15" cy="374.14" r="2.15"/><circle cx="204.57" cy="375.2" r="2.15"/><circle cx="204.99" cy="376.27" r="2.15"/><circle cx="205.41" cy="377.34" r="2.15"/><circle cx="205.82" cy="378.41" r="2.15"/><circle cx="206.24" cy="379.48" r="2.15"/><circle cx="206.66" cy="380.55" r="2.15"/><circle cx="207.08" cy="381.61" r="2.15"/><circle cx="207.5" cy="382.68" r="2.15"/><circle cx="207.92" cy="383.75" r="2.15"/><circle cx="208.34" cy="384.82" r="2.15"/><circle cx="208.76" cy="385.89" r="2.15"/><circle cx="209.18" cy="386.95" r="2.15"/><circle cx="209.6" cy="388.02" r="2.15"/><circle cx="210.02" cy="389.09" r="2.15"/><circle cx="210.44" cy="390.16" r="2.15"/><circle cx="210.86" cy="391.23" r="2.15"/><circle cx="211.28" cy="392.3" r="2.15"/><circle cx="211.7" cy="393.36" r="2.15"/><circle cx="212.12" cy="394.43" r="2.15"/><circle cx="212.54" cy="395.5" r="2.15"/><circle cx="212.96" cy="396.57" r="2.15"/><circle cx="213.38" cy="397.64" r="2.15"/><circle cx="213.8" cy="398.7" r="2.15"/><circle cx="214.22" cy="399.77" r="2.15"/><circle cx="214.64" cy="400.84" r="2.15"/><circle cx="215.06" cy="401.91" r="2.15"/><circle cx="215.48" cy="402.98" r="2.15"/><circle cx="215.89" cy="404.05" r="2.15"/><circle cx="216.31" cy="405.11" r="2.15"/><circle cx="216.73" cy="406.18" r="2.15"/><circle cx="217.15" cy="407.25" r="2.15"/><circle cx="217.57" cy="408.32" r="2.15"/><circle cx="217.99" cy="409.39" r="2.15"/><circle cx="218.41" cy="410.45" r="2.15"/><circle cx="218.83" cy="411.52" r="2.15"/><circle cx="219.25" cy="412.59" r="2.15"/><circle cx="219.67" cy="413.66" r="2.15"/><circle cx="220.09" cy="414.73" r="2.15"/><circle cx="220.51" cy="415.8" r="2.15"/><circle cx="220.93" cy="416.86" r="2.15"/><circle cx="221.35" cy="417.93" r="2.15"/><circle cx="221.77" cy="419" r="2.15"/><circle cx="222.19" cy="420.07" r="2.15"/><circle cx="222.61" cy="421.14" r="2.15"/><circle cx="223.03" cy="422.2" r="2.15"/><circle cx="223.45" cy="423.27" r="2.15"/><circle cx="223.87" cy="424.34" r="2.15"/><circle cx="224.29" cy="425.41" r="2.15"/><circle cx="224.71" cy="426.48" r="2.15"/><circle cx="225.13" cy="427.28" r="2.15"/><circle cx="225.55" cy="427.69" r="2.15"/><circle cx="225.96" cy="428.1" r="2.15"/><circle cx="226.38" cy="428.1" r="2.15"/><circle cx="226.8" cy="428.1" r="2.15"/><circle cx="227.22" cy="428.1" r="2.15"/><circle cx="227.64" cy="428.1" r="2.15"/><circle cx="228.06" cy="428.1" r="2.15"/><circle cx="228.48" cy="428.1" r="2.15"/><circle cx="228.9" cy="428.1" r="2.15"/><circle cx="229.32" cy="428.1" r="2.15"/><circle cx="229.74" cy="428.1" r="2.15"/><circle cx="230.16" cy="428.1" r="2.15"/><circle cx="230.58" cy="428.1" r="2.15"/><circle cx="231" cy="428.1" r="2.15"/><circle cx="231.42" cy="428.1" r="2.15"/><circle cx="231.84" cy="428.1" r="2.15"/><circle cx="232.26" cy="428.1" r="2.15"/><circle cx="232.68" cy="428.1" r="2.15"/><circle cx="233.1" cy="428.1" r="2.15"/><circle cx="233.52" cy="428.1" r="2.15"/><circle cx="233.94" cy="428.1" r="2.15"/><circle cx="234.36" cy="428.1" r="2.15"/><circle cx="234.78" cy="428.1" r="2.15"/><circle cx="235.2" cy="428.1" r="2.15"/><circle cx="235.62" cy="428.1" r="2.15"/><circle cx="236.03" cy="428.1" r="2.15"/><circle cx="236.45" cy="428.1" r="2.15"/><circle cx="236.87" cy="428.1" r="2.15"/><circle cx="237.29" cy="428.1" r="2.15"/><circle cx="237.71" cy="428.1" r="2.15"/><circle cx="238.13" cy="428.1" r="2.15"/><circle cx="238.55" cy="428.1" r="2.15"/><circle cx="238.97" cy="428.1" r="2.15"/><circle cx="239.39" cy="428.1" r="2.15"/><circle cx="239.81" cy="428.1" r="2.15"/><circle cx="240.23" cy="428.1" r="2.15"/><circle cx="240.65" cy="428.1" r="2.15"/><circle cx="241.07" cy="428.1" r="2.15"/><circle cx="241.49" cy="428.1" r="2.15"/><circle cx="241.91" cy="428.1" r="2.15"/><circle cx="242.33" cy="428.1" r="2.15"/><circle cx="242.75" cy="428.1" r="2.15"/><circle cx="243.17" cy="428.1" r="2.15"/><circle cx="243.59" cy="428.1" r="2.15"/><circle cx="244.01" cy="428.1" r="2.15"/><circle cx="244.43" cy="428.1" r="2.15"/><circle cx="244.85" cy="428.1" r="2.15"/><circle cx="245.27" cy="428.1" r="2.15"/><circle cx="245.69" cy="428.1" r="2.15"/><circle cx="246.1" cy="428.1" r="2.15"/><circle cx="246.52" cy="428.1" r="2.15"/><circle cx="246.94" cy="428.1" r="2.15"/><circle cx="247.36" cy="428.1" r="2.15"/><circle cx="247.78" cy="428.1" r="2.15"/><circle cx="248.2" cy="428.1" r="2.15"/><circle cx="248.62" cy="428.1" r="2.15"/><circle cx="249.04" cy="428.1" r="2.15"/><circle cx="249.46" cy="428.1" r="2.15"/><circle cx="249.88" cy="428.1" r="2.15"/><circle cx="250.3" cy="428.1" r="2.15"/><circle cx="250.72" cy="428.1" r="2.15"/><circle cx="251.14" cy="428.1" r="2.15"/><circle cx="251.56" cy="428.1" r="2.15"/><circle cx="251.98" cy="428.1" r="2.15"/><circle cx="252.4" cy="428.1" r="2.15"/><circle cx="252.82" cy="428.1" r="2.15"/><circle cx="253.24" cy="428.1" r="2.15"/><circle cx="253.66" cy="428.1" r="2.15"/><circle cx="254.08" cy="428.1" r="2.15"/><circle cx="254.5" cy="428.1" r="2.15"/><circle cx="254.92" cy="428.1" r="2.15"/><circle cx="255.34" cy="428.1" r="2.15"/><circle cx="255.76" cy="428.1" r="2.15"/><circle cx="256.18" cy="428.1" r="2.15"/><circle cx="256.59" cy="428.1" r="2.15"/><circle cx="257.01" cy="428.1" r="2.15"/><circle cx="257.43" cy="428.1" r="2.15"/><circle cx="257.85" cy="428.1" r="2.15"/><circle cx="258.27" cy="428.1" r="2.15"/><circle cx="258.69" cy="428.1" r="2.15"/><circle cx="259.11" cy="428.1" r="2.15"/><circle cx="259.53" cy="428.1" r="2.15"/><circle cx="259.95" cy="428.1" r="2.15"/><circle cx="260.37" cy="428.1" r="2.15"/><circle cx="260.79" cy="428.1" r="2.15"/><circle cx="261.21" cy="428.1" r="2.15"/><circle cx="261.63" cy="428.1" r="2.15"/><circle cx="262.05" cy="428.1" r="2.15"/><circle cx="262.47" cy="428.1" r="2.15"/><circle cx="262.89" cy="428.1" r="2.15"/><circle cx="263.31" cy="428.1" r="2.15"/><circle cx="263.73" cy="428.1" r="2.15"/><circle cx="264.15" cy="428.1" r="2.15"/><circle cx="264.57" cy="428.1" r="2.15"/><circle cx="264.99" cy="428.1" r="2.15"/><circle cx="265.41" cy="428.1" r="2.15"/><circle cx="265.83" cy="428.1" r="2.15"/><circle cx="266.25" cy="428.1" r="2.15"/><circle cx="266.66" cy="428.1" r="2.15"/><circle cx="267.08" cy="428.1" r="2.15"/><circle cx="267.5" cy="428.1" r="2.15"/><circle cx="267.92" cy="428.1" r="2.15"/><circle cx="268.34" cy="428.1" r="2.15"/><circle cx="268.76" cy="428.1" r="2.15"/><circle cx="269.18" cy="428.1" r="2.15"/><circle cx="269.6" cy="428.1" r="2.15"/><circle cx="270.02" cy="428.1" r="2.15"/><circle cx="270.44" cy="428.1" r="2.15"/><circle cx="270.86" cy="428.1" r="2.15"/><circle cx="271.28" cy="428.1" r="2.15"/><circle cx="271.7" cy="428.1" r="2.15"/><circle cx="272.12" cy="428.1" r="2.15"/><circle cx="272.54" cy="428.1" r="2.15"/><circle cx="272.96" cy="428.1" r="2.15"/><circle cx="273.38" cy="428.1" r="2.15"/><circle cx="273.8" cy="428.1" r="2.15"/><circle cx="274.22" cy="428.1" r="2.15"/><circle cx="274.64" cy="428.1" r="2.15"/><circle cx="275.06" cy="428.1" r="2.15"/><circle cx="275.48" cy="428.1" r="2.15"/><circle cx="275.9" cy="428.1" r="2.15"/><circle cx="276.31" cy="428.1" r="2.15"/><circle cx="276.73" cy="428.1" r="2.15"/><circle cx="277.15" cy="428.1" r="2.15"/><circle cx="277.57" cy="428.1" r="2.15"/><circle cx="277.99" cy="428.1" r="2.15"/><circle cx="278.41" cy="428.1" r="2.15"/><circle cx="278.83" cy="428.1" r="2.15"/><circle cx="279.25" cy="428.1" r="2.15"/><circle cx="279.67" cy="428.1" r="2.15"/><circle cx="280.09" cy="428.1" r="2.15"/><circle cx="280.51" cy="428.1" r="2.15"/><circle cx="280.93" cy="428.1" r="2.15"/><circle cx="281.35" cy="428.1" r="2.15"/><circle cx="281.77" cy="428.1" r="2.15"/><circle cx="282.19" cy="428.1" r="2.15"/><circle cx="282.61" cy="428.1" r="2.15"/><circle cx="283.03" cy="428.1" r="2.15"/><circle cx="283.45" cy="428.1" r="2.15"/><circle cx="283.87" cy="428.1" r="2.15"/><circle cx="284.29" cy="428.1" r="2.15"/><circle cx="284.71" cy="428.1" r="2.15"/><circle cx="285.13" cy="428.1" r="2.15"/><circle cx="285.55" cy="428.1" r="2.15"/><circle cx="285.97" cy="428.1" r="2.15"/><circle cx="286.38" cy="428.1" r="2.15"/><circle cx="286.8" cy="428.1" r="2.15"/><circle cx="287.22" cy="428.1" r="2.15"/><circle cx="287.64" cy="428.1" r="2.15"/><circle cx="288.06" cy="428.1" r="2.15"/><circle cx="288.48" cy="428.1" r="2.15"/><circle cx="288.9" cy="428.1" r="2.15"/><circle cx="289.32" cy="428.1" r="2.15"/><circle cx="289.74" cy="428.1" r="2.15"/><circle cx="290.16" cy="428.1" r="2.15"/><circle cx="290.58" cy="428.1" r="2.15"/><circle cx="291" cy="428.1" r="2.15"/><circle cx="291.42" cy="428.1" r="2.15"/><circle cx="291.84" cy="428.1" r="2.15"/><circle cx="292.26" cy="428.1" r="2.15"/><circle cx="292.68" cy="428.1" r="2.15"/><circle cx="293.1" cy="428.1" r="2.15"/><circle cx="293.52" cy="428.1" r="2.15"/><circle cx="293.94" cy="428.1" r="2.15"/><circle cx="294.36" cy="428.1" r="2.15"/><circle cx="294.78" cy="428.1" r="2.15"/><circle cx="295.2" cy="428.1" r="2.15"/><circle cx="295.62" cy="428.1" r="2.15"/><circle cx="296.04" cy="428.1" r="2.15"/><circle cx="296.45" cy="428.1" r="2.15"/><circle cx="296.87" cy="428.1" r="2.15"/><circle cx="297.29" cy="428.1" r="2.15"/><circle cx="297.71" cy="428.1" r="2.15"/><circle cx="298.13" cy="428.1" r="2.15"/><circle cx="298.55" cy="428.1" r="2.15"/><circle cx="298.97" cy="428.1" r="2.15"/><circle cx="299.39" cy="428.1" r="2.15"/><circle cx="299.81" cy="428.1" r="2.15"/><circle cx="300.23" cy="428.1" r="2.15"/><circle cx="300.65" cy="428.1" r="2.15"/><circle cx="301.07" cy="428.1" r="2.15"/><circle cx="301.49" cy="428.1" r="2.15"/><circle cx="301.91" cy="428.1" r="2.15"/><circle cx="302.33" cy="428.1" r="2.15"/><circle cx="302.75" cy="428.1" r="2.15"/><circle cx="303.17" cy="428.1" r="2.15"/><circle cx="303.59" cy="428.1" r="2.15"/><circle cx="304.01" cy="428.1" r="2.15"/><circle cx="304.43" cy="428.1" r="2.15"/><circle cx="304.85" cy="428.1" r="2.15"/><circle cx="305.27" cy="428.1" r="2.15"/><circle cx="305.69" cy="428.1" r="2.15"/><circle cx="306.11" cy="428.1" r="2.15"/><circle cx="306.53" cy="428.1" r="2.15"/><circle cx="306.94" cy="428.1" r="2.15"/><circle cx="307.36" cy="428.1" r="2.15"/><circle cx="307.78" cy="428.1" r="2.15"/><circle cx="308.2" cy="428.1" r="2.15"/><circle cx="308.62" cy="428.1" r="2.15"/><circle cx="309.04" cy="428.1" r="2.15"/><circle cx="309.46" cy="428.1" r="2.15"/><circle cx="309.88" cy="428.1" r="2.15"/><circle cx="310.3" cy="428.1" r="2.15"/><circle cx="310.72" cy="428.1" r="2.15"/><circle cx="311.14" cy="428.1" r="2.15"/><circle cx="311.56" cy="428.1" r="2.15"/><circle cx="311.98" cy="428.1" r="2.15"/><circle cx="312.4" cy="428.1" r="2.15"/><circle cx="312.82" cy="428.1" r="2.15"/><circle cx="313.24" cy="428.1" r="2.15"/><circle cx="313.66" cy="428.1" r="2.15"/><circle cx="314.08" cy="428.1" r="2.15"/><circle cx="314.5" cy="428.1" r="2.15"/><circle cx="314.92" cy="428.1" r="2.15"/><circle cx="315.34" cy="428.1" r="2.15"/><circle cx="315.76" cy="428.1" r="2.15"/><circle cx="316.18" cy="428.1" r="2.15"/><circle cx="316.6" cy="428.1" r="2.15"/><circle cx="317.01" cy="428.1" r="2.15"/><circle cx="317.43" cy="428.1" r="2.15"/><circle cx="317.85" cy="428.1" r="2.15"/><circle cx="318.27" cy="428.1" r="2.15"/><circle cx="318.69" cy="428.1" r="2.15"/><circle cx="319.11" cy="428.1" r="2.15"/><circle cx="319.53" cy="428.1" r="2.15"/><circle cx="319.95" cy="428.1" r="2.15"/><circle cx="320.37" cy="428.1" r="2.15"/><circle cx="320.79" cy="428.1" r="2.15"/><circle cx="321.21" cy="428.1" r="2.15"/><circle cx="321.63" cy="428.1" r="2.15"/><circle cx="322.05" cy="428.1" r="2.15"/><circle cx="322.47" cy="428.1" r="2.15"/><circle cx="322.89" cy="428.1" r="2.15"/><circle cx="323.31" cy="428.1" r="2.15"/><circle cx="323.73" cy="428.1" r="2.15"/><circle cx="324.15" cy="428.1" r="2.15"/><circle cx="324.57" cy="428.1" r="2.15"/><circle cx="324.99" cy="428.1" r="2.15"/><circle cx="325.41" cy="428.1" r="2.15"/><circle cx="325.83" cy="428.1" r="2.15"/><circle cx="326.25" cy="428.1" r="2.15"/><circle cx="326.67" cy="428.1" r="2.15"/><circle cx="327.08" cy="428.1" r="2.15"/><circle cx="327.5" cy="428.1" r="2.15"/><circle cx="327.92" cy="428.1" r="2.15"/><circle cx="328.34" cy="428.1" r="2.15"/><circle cx="328.76" cy="428.1" r="2.15"/><circle cx="329.18" cy="428.1" r="2.15"/><circle cx="329.6" cy="428.1" r="2.15"/><circle cx="330.02" cy="428.1" r="2.15"/><circle cx="330.44" cy="428.1" r="2.15"/><circle cx="330.86" cy="428.1" r="2.15"/><circle cx="331.28" cy="428.1" r="2.15"/><circle cx="331.7" cy="428.1" r="2.15"/></g>
<g fill="#b0b0b0"><circle cx="29.6" cy="428.1" r="2.15"/><circle cx="30.02" cy="428.1" r="2.15"/><circle cx="30.44" cy="428.1" r="2.15"/><circle cx="30.86" cy="428.1" r="2.15"/><circle cx="31.28" cy="428.1" r="2.15"/><circle cx="31.7" cy="428.1" r="2.15"/><circle cx="32.12" cy="428.1" r="2.15"/><circle cx="32.54" cy="428.1" r="2.15"/><circle cx="32.96" cy="428.1" r="2.15"/><circle cx="33.38" cy="428.1" r="2.15"/><circle cx="33.8" cy="428.1" r="2.15"/><circle cx="34.22" cy="428.1" r="2.15"/><circle cx="34.64" cy="428.1" r="2.15"/><circle cx="35.05" cy="428.1" r="2.15"/><circle cx="35.47" cy="428.1" r="2.15"/><circle cx="35.89" cy="428.1" r="2.15"/><circle cx="36.31" cy="428.1" r="2.15"/><circle cx="36.73" cy="428.1" r="2.15"/><circle cx="37.15" cy="428.1" r="2.15"/><circle cx="37.57" cy="428.1" r="2.15"/><circle cx="37.99" cy="428.1" r="2.15"/><circle cx="38.41" cy="428.1" r="2.15"/><circle cx="38.83" cy="428.1" r="2.15"/><circle cx="39.25" cy="428.1" r="2.15"/><circle cx="39.67" cy="428.1" r="2.15"/><circle cx="40.09" cy="428.1" r="2.15"/><circle cx="40.51" cy="428.1" r="2.15"/><circle cx="40.93" cy="428.1" r="2.15"/><circle cx="41.35" cy="428.1" r="2.15"/><circle cx="41.77" cy="428.1" r="2.15"/><circle cx="42.19" cy="428.1" r="2.15"/><circle cx="42.61" cy="428.1" r="2.15"/><circle cx="43.03" cy="428.1" r="2.15"/><circle cx="43.45" cy="428.1" r="2.15"/><circle cx="43.87" cy="428.1" r="2.15"/><circle cx="44.29" cy="428.1" r="2.15"/><circle cx="44.7" cy="428.1" r="2.15"/><circle cx="45.12" cy="428.1" r="2.15"/><circle cx="45.54" cy="428.1" r="2.15"/><circle cx="45.96" cy="428.1" r="2.15"/><circle cx="46.38" cy="428.1" r="2.15"/><circle cx="46.8" cy="428.1" r="2.15"/><circle cx="47.22" cy="428.1" r="2.15"/><circle cx="47.64" cy="428.1" r="2.15"/><circle cx="48.06" cy="428.1" r="2.15"/><circle cx="48.48" cy="428.1" r="2.15"/><circle cx="48.9" cy="428.1" r="2.15"/><circle cx="49.32" cy="428.1" r="2.15"/><circle cx="49.74" cy="428.1" r="2.15"/><circle cx="50.16" cy="428.1" r="2.15"/><circle cx="50.58" cy="428.1" r="2.15"/><circle cx="51" cy="428.1" r="2.15"/><circle cx="51.42" cy="428.1" r="2.15"/><circle cx="51.84" cy="428.1" r="2.15"/><circle cx="52.26" cy="428.1" r="2.15"/><circle cx="52.68" cy="428.1" r="2.15"/><circle cx="53.1" cy="428.1" r="2.15"/><circle cx="53.52" cy="428.1" r="2.15"/><circle cx="53.94" cy="428.1" r="2.15"/><circle cx="54.36" cy="428.1" r="2.15"/><circle cx="54.77" cy="428.1" r="2.15"/><circle cx="55.19" cy="428.1" r="2.15"/><circle cx="55.61" cy="428.1" r="2.15"/><circle cx="56.03" cy="428.1" r="2.15"/><circle cx="56.45" cy="428.1" r="2.15"/><circle cx="56.87" cy="428.1" r="2.15"/><circle cx="57.29" cy="428.1" r="2.15"/><circle cx="57.71" cy="428.1" r="2.15"/><circle cx="58.13" cy="428.1" r="2.15"/><circle cx="58.55" cy="428.1" r="2.15"/><circle cx="58.97" cy="428.1" r="2.15"/><circle cx="59.39" cy="428.1" r="2.15"/><circle cx="59.81" cy="428.1" r="2.15"/><circle cx="60.23" cy="428.1" r="2.15"/><circle cx="60.65" cy="428.1" r="2.15"/><circle cx="61.07" cy="428.1" r="2.15"/><circle cx="61.49" cy="428.1" r="2.15"/><circle cx="61.91" cy="428.1" r="2.15"/><circle cx="62.33" cy="428.1" r="2.15"/><circle cx="62.75" cy="428.1" r="2.15"/><circle cx="63.17" cy="428.1" r="2.15"/><circle cx="63.59" cy="428.1" r="2.15"/><circle cx="64.01" cy="428.1" r="2.15"/><circle cx="64.43" cy="428.1" r="2.15"/><circle cx="64.84" cy="428.1" r="2.15"/><circle cx="65.26" cy="428.1" r="2.15"/><circle cx="65.68" cy="428.1" r="2.15"/><circle cx="66.1" cy="428.1" r="2.15"/><circle cx="66.52" cy="428.1" r="2.15"/><circle cx="66.94" cy="428.1" r="2.15"/><circle cx="67.36" cy="428.1" r="2.15"/><circle cx="67.78" cy="428.1" r="2.15"/><circle cx="68.2" cy="428.1" r="2.15"/><circle cx="68.62" cy="428.1" r="2.15"/><circle cx="69.04" cy="428.1" r="2.15"/><circle cx="69.46" cy="428.1" r="2.15"/><circle cx="69.88" cy="428.1" r="2.15"/><circle cx="70.3" cy="428.1" r="2.15"/><circle cx="70.72" cy="428.1" r="2.15"/><circle cx="71.14" cy="428.1" r="2.15"/><circle cx="71.56" cy="428.1" r="2.15"/><circle cx="71.98" cy="428.1" r="2.15"/><circle cx="72.4" cy="428.1" r="2.15"/><circle cx="72.82" cy="428.1" r="2.15"/><circle cx="73.24" cy="428.1" r="2.15"/><circle cx="73.66" cy="428.1" r="2.15"/><circle cx="74.08" cy="428.1" r="2.15"/><circle cx="74.5" cy="428.1" r="2.15"/><circle cx="74.91" cy="428.1" r="2.15"/><circle cx="75.33" cy="428.1" r="2.15"/><circle cx="75.75" cy="428.1" r="2.15"/><circle cx="76.17" cy="428.1" r="2.15"/><circle cx="76.59" cy="428.1" r="2.15"/><circle cx="77.01" cy="428.1" r="2.15"/><circle cx="77.43" cy="428.1" r="2.15"/><circle cx="77.85" cy="428.1" r="2.15"/><circle cx="78.27" cy="428.1" r="2.15"/><circle cx="78.69" cy="428.1" r="2.15"/><circle cx="79.11" cy="428.1" r="2.15"/><circle cx="79.53" cy="428.1" r="2.15"/><circle cx="79.95" cy="428.1" r="2.15"/><circle cx="80.37" cy="428.1" r="2.15"/><circle cx="80.79" cy="428.1" r="2.15"/><circle cx="81.21" cy="428.1" r="2.15"/><circle cx="81.63" cy="428.1" r="2.15"/><circle cx="82.05" cy="428.1" r="2.15"/><circle cx="82.47" cy="428.1" r="2.15"/><circle cx="82.89" cy="428.1" r="2.15"/><circle cx="83.31" cy="428.1" r="2.15"/><circle cx="83.73" cy="428.1" r="2.15"/><circle cx="84.15" cy="428.1" r="2.15"/><circle cx="84.57" cy="427.3" r="2.15"/><circle cx="84.98" cy="425.97" r="2.15"/><circle cx="85.4" cy="424.64" r="2.15"/><circle cx="85.82" cy="424.24" r="2.15"/><circle cx="86.24" cy="424.08" r="2.15"/><circle cx="86.66" cy="423.93" r="2.15"/><circle cx="87.08" cy="423.77" r="2.15"/><circle cx="87.5" cy="423.61" r="2.15"/><circle cx="87.92" cy="423.45" r="2.15"/><circle cx="88.34" cy="423.29" r="2.15"/><circle cx="88.76" cy="423.13" r="2.15"/><circle cx="89.18" cy="422.97" r="2.15"/><circle cx="89.6" cy="422.82" r="2.15"/><circle cx="90.02" cy="422.66" r="2.15"/><circle cx="90.44" cy="422.5" r="2.15"/><circle cx="90.86" cy="422.34" r="2.15"/><circle cx="91.28" cy="422.18" r="2.15"/><circle cx="91.7" cy="422.02" r="2.15"/><circle cx="92.12" cy="421.86" r="2.15"/><circle cx="92.54" cy="421.71" r="2.15"/><circle cx="92.96" cy="421.55" r="2.15"/><circle cx="93.38" cy="421.39" r="2.15"/><circle cx="93.8" cy="421.23" r="2.15"/><circle cx="94.22" cy="421.07" r="2.15"/><circle cx="94.64" cy="420.91" r="2.15"/><circle cx="95.06" cy="420.75" r="2.15"/><circle cx="95.47" cy="420.6" r="2.15"/><circle cx="95.89" cy="420.44" r="2.15"/><circle cx="96.31" cy="420.28" r="2.15"/><circle cx="96.73" cy="418.97" r="2.15"/><circle cx="97.15" cy="417.37" r="2.15"/><circle cx="97.57" cy="415.77" r="2.15"/><circle cx="97.99" cy="414.17" r="2.15"/><circle cx="98.41" cy="412.57" r="2.15"/><circle cx="98.83" cy="410.96" r="2.15"/><circle cx="99.25" cy="409.36" r="2.15"/><circle cx="99.67" cy="407.76" r="2.15"/><circle cx="100.09" cy="406.16" r="2.15"/><circle cx="100.51" cy="404.56" r="2.15"/><circle cx="100.93" cy="402.96" r="2.15"/><circle cx="101.35" cy="401.36" r="2.15"/><circle cx="101.77" cy="399.76" r="2.15"/><circle cx="102.19" cy="398.16" r="2.15"/><circle cx="102.61" cy="396.56" r="2.15"/><circle cx="103.03" cy="394.96" r="2.15"/><circle cx="103.45" cy="393.36" r="2.15"/><circle cx="103.87" cy="391.76" r="2.15"/><circle cx="104.29" cy="390.16" r="2.15"/><circle cx="104.71" cy="389.01" r="2.15"/><circle cx="105.12" cy="388.17" r="2.15"/><circle cx="105.54" cy="387.32" r="2.15"/><circle cx="105.96" cy="386.47" r="2.15"/><circle cx="106.38" cy="385.62" r="2.15"/><circle cx="106.8" cy="384.78" r="2.15"/><circle cx="107.22" cy="383.93" r="2.15"/><circle cx="107.64" cy="383.08" r="2.15"/><circle cx="108.06" cy="382.24" r="2.15"/><circle cx="108.48" cy="381.39" r="2.15"/><circle cx="108.9" cy="380.54" r="2.15"/><circle cx="109.32" cy="379.7" r="2.15"/><circle cx="109.74" cy="378.85" r="2.15"/><circle cx="110.16" cy="378" r="2.15"/><circle cx="110.58" cy="377.16" r="2.15"/><circle cx="111" cy="376.31" r="2.15"/><circle cx="111.42" cy="375.46" r="2.15"/><circle cx="111.84" cy="374.61" r="2.15"/><circle cx="112.26" cy="373.77" r="2.15"/><circle cx="112.68" cy="372.92" r="2.15"/><circle cx="113.1" cy="372.15" r="2.15"/><circle cx="113.52" cy="371.7" r="2.15"/><circle cx="113.94" cy="371.25" r="2.15"/><circle cx="114.36" cy="370.79" r="2.15"/><circle cx="114.78" cy="370.34" r="2.15"/><circle cx="115.19" cy="369.88" r="2.15"/><circle cx="115.61" cy="369.43" r="2.15"/><circle cx="116.03" cy="368.98" r="2.15"/><circle cx="116.45" cy="368.52" r="2.15"/><circle cx="116.87" cy="368.07" r="2.15"/><circle cx="117.29" cy="367.62" r="2.15"/><circle cx="117.71" cy="367.16" r="2.15"/><circle cx="118.13" cy="366.71" r="2.15"/><circle cx="118.55" cy="366.25" r="2.15"/><circle cx="118.97" cy="365.99" r="2.15"/><circle cx="119.39" cy="365.72" r="2.15"/><circle cx="119.81" cy="365.45" r="2.15"/><circle cx="120.23" cy="365.18" r="2.15"/><circle cx="120.65" cy="364.92" r="2.15"/><circle cx="121.07" cy="364.65" r="2.15"/><circle cx="121.49" cy="364.38" r="2.15"/><circle cx="121.91" cy="364.11" r="2.15"/><circle cx="122.33" cy="363.85" r="2.15"/><circle cx="122.75" cy="363.58" r="2.15"/><circle cx="123.17" cy="363.31" r="2.15"/><circle cx="123.59" cy="363.04" r="2.15"/><circle cx="124.01" cy="362.77" r="2.15"/><circle cx="124.43" cy="362.75" r="2.15"/><circle cx="124.85" cy="362.79" r="2.15"/><circle cx="125.26" cy="362.82" r="2.15"/><circle cx="125.68" cy="362.86" r="2.15"/><circle cx="126.1" cy="362.9" r="2.15"/><circle cx="126.52" cy="362.93" r="2.15"/><circle cx="126.94" cy="362.97" r="2.15"/><circle cx="127.36" cy="363.01" r="2.15"/><circle cx="127.78" cy="363.04" r="2.15"/><circle cx="128.2" cy="363.08" r="2.15"/><circle cx="128.62" cy="363.12" r="2.15"/><circle cx="129.04" cy="363.15" r="2.15"/><circle cx="129.46" cy="363.19" r="2.15"/><circle cx="129.88" cy="363.23" r="2.15"/><circle cx="130.3" cy="363.26" r="2.15"/><circle cx="130.72" cy="363.3" r="2.15"/><circle cx="131.14" cy="363.34" r="2.15"/><circle cx="131.56" cy="363.38" r="2.15"/><circle cx="131.98" cy="363.41" r="2.15"/><circle cx="132.4" cy="363.45" r="2.15"/><circle cx="132.82" cy="363.49" r="2.15"/><circle cx="133.24" cy="363.52" r="2.15"/><circle cx="133.66" cy="363.56" r="2.15"/><circle cx="134.08" cy="363.6" r="2.15"/><circle cx="134.5" cy="363.63" r="2.15"/><circle cx="134.92" cy="363.67" r="2.15"/><circle cx="135.34" cy="363.71" r="2.15"/><circle cx="135.75" cy="363.74" r="2.15"/><circle cx="136.17" cy="363.78" r="2.15"/><circle cx="136.59" cy="363.82" r="2.15"/><circle cx="137.01" cy="363.85" r="2.15"/><circle cx="137.43" cy="363.89" r="2.15"/><circle cx="137.85" cy="363.93" r="2.15"/><circle cx="138.27" cy="363.96" r="2.15"/><circle cx="138.69" cy="364" r="2.15"/><circle cx="139.11" cy="364.04" r="2.15"/><circle cx="139.53" cy="364.07" r="2.15"/><circle cx="139.95" cy="364.11" r="2.15"/><circle cx="140.37" cy="364.15" r="2.15"/><circle cx="140.79" cy="364.18" r="2.15"/><circle cx="141.21" cy="364.22" r="2.15"/><circle cx="141.63" cy="364.26" r="2.15"/><circle cx="142.05" cy="364.29" r="2.15"/><circle cx="142.47" cy="364.33" r="2.15"/><circle cx="142.89" cy="364.37" r="2.15"/><circle cx="143.31" cy="364.4" r="2.15"/><circle cx="143.73" cy="364.44" r="2.15"/><circle cx="144.15" cy="364.48" r="2.15"/><circle cx="144.57" cy="364.51" r="2.15"/><circle cx="144.99" cy="364.55" r="2.15"/><circle cx="145.41" cy="364.59" r="2.15"/><circle cx="145.82" cy="364.62" r="2.15"/><circle cx="146.24" cy="364.66" r="2.15"/><circle cx="146.66" cy="364.7" r="2.15"/><circle cx="147.08" cy="364.73" r="2.15"/><circle cx="147.5" cy="364.77" r="2.15"/><circle cx="147.92" cy="364.81" r="2.15"/><circle cx="148.34" cy="364.84" r="2.15"/><circle cx="148.76" cy="364.88" r="2.15"/><circle cx="149.18" cy="364.92" r="2.15"/><circle cx="149.6" cy="364.96" r="2.15"/><circle cx="150.02" cy="364.99" r="2.15"/><circle cx="150.44" cy="365.03" r="2.15"/><circle cx="150.86" cy="365.07" r="2.15"/><circle cx="151.28" cy="365.1" r="2.15"/><circle cx="151.7" cy="365.14" r="2.15"/><circle cx="152.12" cy="365.18" r="2.15"/><circle cx="152.54" cy="365.21" r="2.15"/><circle cx="152.96" cy="365.25" r="2.15"/><circle cx="153.38" cy="365.29" r="2.15"/><circle cx="153.8" cy="365.32" r="2.15"/><circle cx="154.22" cy="365.36" r="2.15"/><circle cx="154.64" cy="365.4" r="2.15"/><circle cx="155.06" cy="365.43" r="2.15"/><circle cx="155.47" cy="365.47" r="2.15"/><circle cx="155.89" cy="365.47" r="2.15"/><circle cx="156.31" cy="365.48" r="2.15"/><circle cx="156.73" cy="365.49" r="2.15"/><circle cx="157.15" cy="365.49" r="2.15"/><circle cx="157.57" cy="365.5" r="2.15"/><circle cx="157.99" cy="365.5" r="2.15"/><circle cx="158.41" cy="365.51" r="2.15"/><circle cx="158.83" cy="365.51" r="2.15"/><circle cx="159.25" cy="365.52" r="2.15"/><circle cx="159.67" cy="365.52" r="2.15"/><circle cx="160.09" cy="365.53" r="2.15"/><circle cx="160.51" cy="365.53" r="2.15"/><circle cx="160.93" cy="365.54" r="2.15"/><circle cx="161.35" cy="365.54" r="2.15"/><circle cx="161.77" cy="365.55" r="2.15"/><circle cx="162.19" cy="365.55" r="2.15"/><circle cx="162.61" cy="365.56" r="2.15"/><circle cx="163.03" cy="365.56" r="2.15"/><circle cx="163.45" cy="365.57" r="2.15"/><circle cx="163.87" cy="365.57" r="2.15"/><circle cx="164.29" cy="365.58" r="2.15"/><circle cx="164.71" cy="365.58" r="2.15"/><circle cx="165.13" cy="365.59" r="2.15"/><circle cx="165.54" cy="365.59" r="2.15"/><circle cx="165.96" cy="365.6" r="2.15"/><circle cx="166.38" cy="365.6" r="2.15"/><circle cx="166.8" cy="365.61" r="2.15"/><circle cx="167.22" cy="365.61" r="2.15"/><circle cx="167.64" cy="365.62" r="2.15"/><circle cx="168.06" cy="365.62" r="2.15"/><circle cx="168.48" cy="365.63" r="2.15"/><circle cx="168.9" cy="365.63" r="2.15"/><circle cx="169.32" cy="365.64" r="2.15"/><circle cx="169.74" cy="365.65" r="2.15"/><circle cx="170.16" cy="365.65" r="2.15"/><circle cx="170.58" cy="365.66" r="2.15"/><circle cx="171" cy="365.66" r="2.15"/><circle cx="171.42" cy="365.67" r="2.15"/><circle cx="171.84" cy="365.6" r="2.15"/><circle cx="172.26" cy="365.54" r="2.15"/><circle cx="172.68" cy="365.47" r="2.15"/><circle cx="173.1" cy="365.4" r="2.15"/><circle cx="173.52" cy="365.34" r="2.15"/><circle cx="173.94" cy="365.27" r="2.15"/><circle cx="174.36" cy="365.21" r="2.15"/><circle cx="174.78" cy="365.14" r="2.15"/><circle cx="175.2" cy="365.08" r="2.15"/><circle cx="175.61" cy="365.01" r="2.15"/><circle cx="176.03" cy="364.95" r="2.15"/><circle cx="176.45" cy="364.88" r="2.15"/><circle cx="176.87" cy="364.82" r="2.15"/><circle cx="177.29" cy="364.75" r="2.15"/><circle cx="177.71" cy="364.69" r="2.15"/><circle cx="178.13" cy="364.62" r="2.15"/><circle cx="178.55" cy="364.56" r="2.15"/><circle cx="178.97" cy="364.49" r="2.15"/><circle cx="179.39" cy="364.43" r="2.15"/><circle cx="179.81" cy="364.36" r="2.15"/><circle cx="180.23" cy="364.29" r="2.15"/><circle cx="180.65" cy="364.23" r="2.15"/><circle cx="181.07" cy="364.16" r="2.15"/><circle cx="181.49" cy="364.1" r="2.15"/><circle cx="181.91" cy="364.03" r="2.15"/><circle cx="182.33" cy="363.97" r="2.15"/><circle cx="182.75" cy="363.9" r="2.15"/><circle cx="183.17" cy="363.84" r="2.15"/><circle cx="183.59" cy="363.77" r="2.15"/><circle cx="184.01" cy="363.71" r="2.15"/><circle cx="184.43" cy="363.64" r="2.15"/><circle cx="184.85" cy="363.58" r="2.15"/><circle cx="185.27" cy="363.51" r="2.15"/><circle cx="185.68" cy="363.45" r="2.15"/><circle cx="186.1" cy="363.38" r="2.15"/><circle cx="186.52" cy="363.32" r="2.15"/><circle cx="186.94" cy="363.25" r="2.15"/><circle cx="187.36" cy="363.18" r="2.15"/><circle cx="187.78" cy="363.12" r="2.15"/><circle cx="188.2" cy="363.05" r="2.15"/><circle cx="188.62" cy="362.99" r="2.15"/><circle cx="189.04" cy="362.92" r="2.15"/><circle cx="189.46" cy="362.86" r="2.15"/><circle cx="189.88" cy="362.85" r="2.15"/><circle cx="190.3" cy="362.92" r="2.15"/><circle cx="190.72" cy="362.99" r="2.15"/><circle cx="191.14" cy="363.06" r="2.15"/><circle cx="191.56" cy="363.13" r="2.15"/><circle cx="191.98" cy="363.2" r="2.15"/><circle cx="192.4" cy="363.27" r="2.15"/><circle cx="192.82" cy="363.34" r="2.15"/><circle cx="193.24" cy="363.41" r="2.15"/><circle cx="193.66" cy="363.49" r="2.15"/><circle cx="194.08" cy="363.56" r="2.15"/><circle cx="194.5" cy="363.63" r="2.15"/><circle cx="194.92" cy="363.7" r="2.15"/><circle cx="195.34" cy="363.77" r="2.15"/><circle cx="195.75" cy="363.84" r="2.15"/><circle cx="196.17" cy="363.91" r="2.15"/><circle cx="196.59" cy="363.98" r="2.15"/><circle cx="197.01" cy="364.05" r="2.15"/><circle cx="197.43" cy="364.24" r="2.15"/><circle cx="197.85" cy="364.58" r="2.15"/><circle cx="198.27" cy="364.93" r="2.15"/><circle cx="198.69" cy="365.28" r="2.15"/><circle cx="199.11" cy="365.63" r="2.15"/><circle cx="199.53" cy="365.98" r="2.15"/><circle cx="199.95" cy="366.33" r="2.15"/><circle cx="200.37" cy="366.68" r="2.15"/><circle cx="200.79" cy="367.03" r="2.15"/><circle cx="201.21" cy="367.38" r="2.15"/><circle cx="201.63" cy="367.73" r="2.15"/><circle cx="202.05" cy="368.8" r="2.15"/><circle cx="202.47" cy="369.86" r="2.15"/><circle cx="202.89" cy="370.93" r="2.15"/><circle cx="203.31" cy="372" r="2.15"/><circle cx="203.73" cy="373.07" r="2.15"/><circle cx="204.15" cy="374.14" r="2.15"/><circle cx="204.57" cy="375.2" r="2.15"/><circle cx="204.99" cy="376.27" r="2.15"/><circle cx="205.41" cy="377.34" r="2.15"/><circle cx="205.82" cy="378.41" r="2.15"/><circle cx="206.24" cy="379.48" r="2.15"/><circle cx="206.66" cy="380.55" r="2.15"/><circle cx="207.08" cy="381.61" r="2.15"/><circle cx="207.5" cy="382.68" r="2.15"/><circle cx="207.92" cy="383.75" r="2.15"/><circle cx="208.34" cy="384.82" r="2.15"/><circle cx="208.76" cy="385.89" r="2.15"/><circle cx="209.18" cy="386.95" r="2.15"/><circle cx="209.6" cy="388.02" r="2.15"/><circle cx="210.02" cy="389.09" r="2.15"/><circle cx="210.44" cy="390.16" r="2.15"/><circle cx="210.86" cy="391.23" r="2.15"/><circle cx="211.28" cy="392.3" r="2.15"/><circle cx="211.7" cy="393.36" r="2.15"/><circle cx="212.12" cy="394.43" r="2.15"/><circle cx="212.54" cy="395.5" r="2.15"/><circle cx="212.96" cy="396.57" r="2.15"/><circle cx="213.38" cy="397.64" r="2.15"/><circle cx="213.8" cy="398.7" r="2.15"/><circle cx="214.22" cy="399.77" r="2.15"/><circle cx="214.64" cy="400.84" r="2.15"/><circle cx="215.06" cy="401.91" r="2.15"/><circle cx="215.48" cy="402.98" r="2.15"/><circle cx="215.89" cy="404.05" r="2.15"/><circle cx="216.31" cy="405.11" r="2.15"/><circle cx="216.73" cy="406.18" r="2.15"/><circle cx="217.15" cy="407.25" r="2.15"/><circle cx="217.57" cy="408.32" r="2.15"/><circle cx="217.99" cy="409.39" r="2.15"/><circle cx="218.41" cy="410.45" r="2.15"/><circle cx="218.83" cy="411.52" r="2.15"/><circle cx="219.25" cy="412.59" r="2.15"/><circle cx="219.67" cy="413.66" r="2.15"/><circle cx="220.09" cy="414.73" r="2.15"/><circle cx="220.51" cy="415.8" r="2.15"/><circle cx="220.93" cy="416.86" r="2.15"/><circle cx="221.35" cy="417.93" r="2.15"/><circle cx="221.77" cy="419" r="2.15"/><circle cx="222.19" cy="420.07" r="2.15"/><circle cx="222.61" cy="421.14" r="2.15"/><circle cx="223.03" cy="422.2" r="2.15"/><circle cx="223.45" cy="423.27" r="2.15"/><circle cx="223.87" cy="424.34" r="2.15"/><circle cx="224.29" cy="425.41" r="2.15"/><circle cx="224.71" cy="426.48" r="2.15"/><circle cx="225.13" cy="427.28" r="2.15"/><circle cx="225.55" cy="427.69" r="2.15"/><circle cx="225.96" cy="428.1" r="2.15"/><circle cx="226.38" cy="428.1" r="2.15"/><circle cx="226.8" cy="428.1" r="2.15"/><circle cx="227.22" cy="428.1" r="2.15"/><circle cx="227.64" cy="428.1" r="2.15"/><circle cx="228.06" cy="428.1" r="2.15"/><circle cx="228.48" cy="428.1" r="2.15"/><circle cx="228.9" cy="428.1" r="2.15"/><circle cx="229.32" cy="428.1" r="2.15"/><circle cx="229.74" cy="428.1" r="2.15"/><circle cx="230.16" cy="428.1" r="2.15"/><circle cx="230.58" cy="428.1" r="2.15"/><circle cx="231" cy="428.1" r="2.15"/><circle cx="231.42" cy="428.1" r="2.15"/><circle cx="231.84" cy="428.1" r="2.15"/><circle cx="232.26" cy="428.1" r="2.15"/><circle cx="232.68" cy="428.1" r="2.15"/><circle cx="233.1" cy="428.1" r="2.15"/><circle cx="233.52" cy="428.1" r="2.15"/><circle cx="233.94" cy="428.1" r="2.15"/><circle cx="234.36" cy="428.1" r="2.15"/><circle cx="234.78" cy="428.1" r="2.15"/><circle cx="235.2" cy="428.1" r="2.15"/><circle cx="235.62" cy="428.1" r="2.15"/><circle cx="236.03" cy="428.1" r="2.15"/><circle cx="236.45" cy="428.1" r="2.15"/><circle cx="236.87" cy="428.1" r="2.15"/><circle cx="237.29" cy="428.1" r="2.15"/><circle cx="237.71" cy="428.1" r="2.15"/><circle cx="238.13" cy="428.1" r="2.15"/><circle cx="238.55" cy="428.1" r="2.15"/><circle cx="238.97" cy="428.1" r="2.15"/><circle cx="239.39" cy="428.1" r="2.15"/><circle cx="239.81" cy="428.1" r="2.15"/><circle cx="240.23" cy="428.1" r="2.15"/><circle cx="240.65" cy="428.1" r="2.15"/><circle cx="241.07" cy="428.1" r="2.15"/><circle cx="241.49" cy="428.1" r="2.15"/><circle cx="241.91" cy="428.1" r="2.15"/><circle cx="242.33" cy="428.1" r="2.15"/><circle cx="242.75" cy="428.1" r="2.15"/><circle cx="243.17" cy="428.1" r="2.15"/><circle cx="243.59" cy="428.1" r="2.15"/><circle cx="244.01" cy="428.1" r="2.15"/><circle cx="244.43" cy="428.1" r="2.15"/><circle cx="244.85" cy="428.1" r="2.15"/><circle cx="245.27" cy="428.1" r="2.15"/><circle cx="245.69" cy="428.1" r="2.15"/><circle cx="246.1" cy="428.1" r="2.15"/><circle cx="246.52" cy="428.1" r="2.15"/><circle cx="246.94" cy="428.1" r="2.15"/><circle cx="247.36" cy="428.1" r="2.15"/><circle cx="247.78" cy="428.1" r="2.15"/><circle cx="248.2" cy="428.1" r="2.15"/><circle cx="248.62" cy="428.1" r="2.15"/><circle cx="249.04" cy="428.1" r="2.15"/><circle cx="249.46" cy="428.1" r="2.15"/><circle cx="249.88" cy="428.1" r="2.15"/><circle cx="250.3" cy="428.1" r="2.15"/><circle cx="250.72" cy="428.1" r="2.15"/><circle cx="251.14" cy="428.1" r="2.15"/><circle cx="251.56" cy="428.1" r="2.15"/><circle cx="251.98" cy="428.1" r="2.15"/><circle cx="252.4" cy="428.1" r="2.15"/><circle cx="252.82" cy="428.1" r="2.15"/><circle cx="253.24" cy="428.1" r="2.15"/><circle cx="253.66" cy="428.1" r="2.15"/><circle cx="254.08" cy="428.1" r="2.15"/><circle cx="254.5" cy="428.1" r="2.15"/><circle cx="254.92" cy="428.1" r="2.15"/><circle cx="255.34" cy="428.1" r="2.15"/><circle cx="255.76" cy="428.1" r="2.15"/><circle cx="256.18" cy="428.1" r="2.15"/><circle cx="256.59" cy="428.1" r="2.15"/><circle cx="257.01" cy="428.1" r="2.15"/><circle cx="257.43" cy="428.1" r="2.15"/><circle cx="257.85" cy="428.1" r="2.15"/><circle cx="258.27" cy="428.1" r="2.15"/><circle cx="258.69" cy="428.1" r="2.15"/><circle cx="259.11" cy="428.1" r="2.15"/><circle cx="259.53" cy="428.1" r="2.15"/><circle cx="259.95" cy="428.1" r="2.15"/><circle cx="260.37" cy="428.1" r="2.15"/><circle cx="260.79" cy="428.1" r="2.15"/><circle cx="261.21" cy="428.1" r="2.15"/><circle cx="261.63" cy="428.1" r="2.15"/><circle cx="262.05" cy="428.1" r="2.15"/><circle cx="262.47" cy="428.1" r="2.15"/><circle cx="262.89" cy="428.1" r="2.15"/><circle cx="263.31" cy="428.1" r="2.15"/><circle cx="263.73" cy="428.1" r="2.15"/><circle cx="264.15" cy="428.1" r="2.15"/><circle cx="264.57" cy="428.1" r="2.15"/><circle cx="264.99" cy="428.1" r="2.15"/><circle cx="265.41" cy="428.1" r="2.15"/><circle cx="265.83" cy="428.1" r="2.15"/><circle cx="266.25" cy="428.1" r="2.15"/><circle cx="266.66" cy="428.1" r="2.15"/><circle cx="267.08" cy="428.1" r="2.15"/><circle cx="267.5" cy="428.1" r="2.15"/><circle cx="267.92" cy="428.1" r="2.15"/><circle cx="268.34" cy="428.1" r="2.15"/><circle cx="268.76" cy="428.1" r="2.15"/><circle cx="269.18" cy="428.1" r="2.15"/><circle cx="269.6" cy="428.1" r="2.15"/><circle cx="270.02" cy="428.1" r="2.15"/><circle cx="270.44" cy="428.1" r="2.15"/><circle cx="270.86" cy="428.1" r="2.15"/><circle cx="271.28" cy="428.1" r="2.15"/><circle cx="271.7" cy="428.1" r="2.15"/><circle cx="272.12" cy="428.1" r="2.15"/><circle cx="272.54" cy="428.1" r="2.15"/><circle cx="272.96" cy="428.1" r="2.15"/><circle cx="273.38" cy="428.1" r="2.15"/><circle cx="273.8" cy="428.1" r="2.15"/><circle cx="274.22" cy="428.1" r="2.15"/><circle cx="274.64" cy="428.1" r="2.15"/><circle cx="275.06" cy="428.1" r="2.15"/><circle cx="275.48" cy="428.1" r="2.15"/><circle cx="275.9" cy="428.1" r="2.15"/><circle cx="276.31" cy="428.1" r="2.15"/><circle cx="276.73" cy="428.1" r="2.15"/><circle cx="277.15" cy="428.1" r="2.15"/><circle cx="277.57" cy="428.1" r="2.15"/><circle cx="277.99" cy="428.1" r="2.15"/><circle cx="278.41" cy="428.1" r="2.15"/><circle cx="278.83" cy="428.1" r="2.15"/><circle cx="279.25" cy="428.1" r="2.15"/><circle cx="279.67" cy="428.1" r="2.15"/><circle cx="280.09" cy="428.1" r="2.15"/><circle cx="280.51" cy="428.1" r="2.15"/><circle cx="280.93" cy="428.1" r="2.15"/><circle cx="281.35" cy="428.1" r="2.15"/><circle cx="281.77" cy="428.1" r="2.15"/><circle cx="282.19" cy="428.1" r="2.15"/><circle cx="282.61" cy="428.1" r="2.15"/><circle cx="283.03" cy="428.1" r="2.15"/><circle cx="283.45" cy="428.1" r="2.15"/><circle cx="283.87" cy="428.1" r="2.15"/><circle cx="284.29" cy="428.1" r="2.15"/><circle cx="284.71" cy="428.1" r="2.15"/><circle cx="285.13" cy="428.1" r="2.15"/><circle cx="285.55" cy="428.1" r="2.15"/><circle cx="285.97" cy="428.1" r="2.15"/><circle cx="286.38" cy="428.1" r="2.15"/><circle cx="286.8" cy="428.1" r="2.15"/><circle cx="287.22" cy="428.1" r="2.15"/><circle cx="287.64" cy="428.1" r="2.15"/><circle cx="288.06" cy="428.1" r="2.15"/><circle cx="288.48" cy="428.1" r="2.15"/><circle cx="288.9" cy="428.1" r="2.15"/><circle cx="289.32" cy="428.1" r="2.15"/><circle cx="289.74" cy="428.1" r="2.15"/><circle cx="290.16" cy="428.1" r="2.15"/><circle cx="290.58" cy="428.1" r="2.15"/><circle cx="291" cy="428.1" r="2.15"/><circle cx="291.42" cy="428.1" r="2.15"/><circle cx="291.84" cy="428.1" r="2.15"/><circle cx="292.26" cy="428.1" r="2.15"/><circle cx="292.68" cy="428.1" r="2.15"/><circle cx="293.1" cy="428.1" r="2.15"/><circle cx="293.52" cy="428.1" r="2.15"/><circle cx="293.94" cy="428.1" r="2.15"/><circle cx="294.36" cy="428.1" r="2.15"/><circle cx="294.78" cy="428.1" r="2.15"/><circle cx="295.2" cy="428.1" r="2.15"/><circle cx="295.62" cy="428.1" r="2.15"/><circle cx="296.04" cy="428.1" r="2.15"/><circle cx="296.45" cy="428.1" r="2.15"/><circle cx="296.87" cy="428.1" r="2.15"/><circle cx="297.29" cy="428.1" r="2.15"/><circle cx="297.71" cy="428.1" r="2.15"/><circle cx="298.13" cy="428.1" r="2.15"/><circle cx="298.55" cy="428.1" r="2.15"/><circle cx="298.97" cy="428.1" r="2.15"/><circle cx="299.39" cy="428.1" r="2.15"/><circle cx="299.81" cy="428.1" r="2.15"/><circle cx="300.23" cy="428.1" r="2.15"/><circle cx="300.65" cy="428.1" r="2.15"/><circle cx="301.07" cy="428.1" r="2.15"/><circle cx="301.49" cy="428.1" r="2.15"/><circle cx="301.91" cy="428.1" r="2.15"/><circle cx="302.33" cy="428.1" r="2.15"/><circle cx="302.75" cy="428.1" r="2.15"/><circle cx="303.17" cy="428.1" r="2.15"/><circle cx="303.59" cy="428.1" r="2.15"/><circle cx="304.01" cy="428.1" r="2.15"/><circle cx="304.43" cy="428.1" r="2.15"/><circle cx="304.85" cy="428.1" r="2.15"/><circle cx="305.27" cy="428.1" r="2.15"/><circle cx="305.69" cy="428.1" r="2.15"/><circle cx="306.11" cy="428.1" r="2.15"/><circle cx="306.53" cy="428.1" r="2.15"/><circle cx="306.94" cy="428.1" r="2.15"/><circle cx="307.36" cy="428.1" r="2.15"/><circle cx="307.78" cy="428.1" r="2.15"/><circle cx="308.2" cy="428.1" r="2.15"/><circle cx="308.62" cy="428.1" r="2.15"/><circle cx="309.04" cy="428.1" r="2.15"/><circle cx="309.46" cy="428.1" r="2.15"/><circle cx="309.88" cy="428.1" r="2.15"/><circle cx="310.3" cy="428.1" r="2.15"/><circle cx="310.72" cy="428.1" r="2.15"/><circle cx="311.14" cy="428.1" r="2.15"/><circle cx="311.56" cy="428.1" r="2.15"/><circle cx="311.98" cy="428.1" r="2.15"/><circle cx="312.4" cy="428.1" r="2.15"/><circle cx="312.82" cy="428.1" r="2.15"/><circle cx="313.24" cy="428.1" r="2.15"/><circle cx="313.66" cy="428.1" r="2.15"/><circle cx="314.08" cy="428.1" r="2.15"/><circle cx="314.5" cy="428.1" r="2.15"/><circle cx="314.92" cy="428.1" r="2.15"/><circle cx="315.34" cy="428.1" r="2.15"/><circle cx="315.76" cy="428.1" r="2.15"/><circle cx="316.18" cy="428.1" r="2.15"/><circle cx="316.6" cy="428.1" r="2.15"/><circle cx="317.01" cy="428.1" r="2.15"/><circle cx="317.43" cy="428.1" r="2.15"/><circle cx="317.85" cy="428.1" r="2.15"/><circle cx="318.27" cy="428.1" r="2.15"/><circle cx="318.69" cy="428.1" r="2.15"/><circle cx="319.11" cy="428.1" r="2.15"/><circle cx="319.53" cy="428.1" r="2.15"/><circle cx="319.95" cy="428.1" r="2.15"/><circle cx="320.37" cy="428.1" r="2.15"/><circle cx="320.79" cy="428.1" r="2.15"/><circle cx="321.21" cy="428.1" r="2.15"/><circle cx="321.63" cy="428.1" r="2.15"/><circle cx="322.05" cy="428.1" r="2.15"/><circle cx="322.47" cy="428.1" r="2.15"/><circle cx="322.89" cy="428.1" r="2.15"/><circle cx="323.31" cy="428.1" r="2.15"/><circle cx="323.73" cy="428.1" r="2.15"/><circle cx="324.15" cy="428.1" r="2.15"/><circle cx="324.57" cy="428.1" r="2.15"/><circle cx="324.99" cy="428.1" r="2.15"/><circle cx="325.41" cy="428.1" r="2.15"/><circle cx="325.83" cy="428.1" r="2.15"/><circle cx="326.25" cy="428.1" r="2.15"/><circle cx="326.67" cy="428.1" r="2.15"/><circle cx="327.08" cy="428.1" r="2.15"/><circle cx="327.5" cy="428.1" r="2.15"/><circle cx="327.92" cy="428.1" r="2.15"/><circle cx="328.34" cy="428.1" r="2.15"/><circle cx="328.76" cy="428.1" r="2.15"/><circle cx="329.18" cy="428.1" r="2.15"/><circle cx="329.6" cy="428.1" r="2.15"/><circle cx="330.02" cy="428.1" r="2.15"/><circle cx="330.44" cy="428.1" r="2.15"/><circle cx="330.86" cy="428.1" r="2.15"/><circle cx="331.28" cy="428.1" r="2.15"/><circle cx="331.7" cy="428.1" r="2.15"/></g>
<rect x="263.5" y="317.5" width="63.5" height="45.5" fill="#ffffff" stroke="#404040" stroke-width="1"/>
<circle cx="270" cy="325.4" r="2.35" fill="#000000"/>
<text x="274.7" y="328.5" font-size="9.4" fill="#6b6b6b">CS-2 2001</text>
<circle cx="270" cy="340.7" r="2.35" fill="#d9d9d9"/>
<text x="274.7" y="343.8" font-size="9.4" fill="#6b6b6b">CS-2 2010-1</text>
<circle cx="270" cy="355.8" r="2.35" fill="#b0b0b0"/>
<text x="274.7" y="358.9" font-size="9.4" fill="#6b6b6b">CS-2 2010-2</text>
<text x="78.5" y="486.9" font-size="22.8" fill="#000">(c)</text>
<rect x="381.4" y="251.3" width="297" height="177.2" fill="none" stroke="#d9d9d9" stroke-width="1"/>
<g font-size="6.8" fill="#6b6b6b"><text x="375.9" y="431.04" text-anchor="end">0</text><text x="375.9" y="411.36" text-anchor="end">2</text><text x="375.9" y="391.67" text-anchor="end">4</text><text x="375.9" y="371.98" text-anchor="end">6</text><text x="375.9" y="352.29" text-anchor="end">8</text><text x="375.9" y="332.6" text-anchor="end">10</text><text x="375.9" y="312.91" text-anchor="end">12</text><text x="375.9" y="293.22" text-anchor="end">14</text><text x="375.9" y="273.53" text-anchor="end">16</text><text x="375.9" y="253.84" text-anchor="end">18</text><text x="381.4" y="438.84" text-anchor="middle">0</text><text x="414.4" y="438.84" text-anchor="middle">20</text><text x="447.4" y="438.84" text-anchor="middle">40</text><text x="480.4" y="438.84" text-anchor="middle">60</text><text x="513.4" y="438.84" text-anchor="middle">80</text><text x="546.4" y="438.84" text-anchor="middle">100</text><text x="579.4" y="438.84" text-anchor="middle">120</text><text x="612.4" y="438.84" text-anchor="middle">140</text><text x="645.4" y="438.84" text-anchor="middle">160</text><text x="678.4" y="438.84" text-anchor="middle">180</text></g>
<text x="530.2" y="453.03" font-size="11.0" fill="#6b6b6b" text-anchor="middle">Distance (m)</text>
<text transform="translate(364.27,339.3) rotate(-90)" font-size="9.3" fill="#6b6b6b" text-anchor="middle">Water Depth (m)</text>
<g fill="#000000"><circle cx="381.56" cy="418.46" r="2.0"/><circle cx="382.39" cy="418.31" r="2.0"/><circle cx="383.21" cy="418.15" r="2.0"/><circle cx="384.04" cy="418" r="2.0"/><circle cx="384.86" cy="417.85" r="2.0"/><circle cx="385.69" cy="417.69" r="2.0"/><circle cx="386.51" cy="417.54" r="2.0"/><circle cx="387.34" cy="417.39" r="2.0"/><circle cx="388.16" cy="417.23" r="2.0"/><circle cx="388.99" cy="417.08" r="2.0"/><circle cx="389.81" cy="416.93" r="2.0"/><circle cx="390.64" cy="416.78" r="2.0"/><circle cx="391.46" cy="416.62" r="2.0"/><circle cx="392.29" cy="416.47" r="2.0"/><circle cx="393.11" cy="416.32" r="2.0"/><circle cx="393.94" cy="416.16" r="2.0"/><circle cx="394.76" cy="416.01" r="2.0"/><circle cx="395.59" cy="415.86" r="2.0"/><circle cx="396.41" cy="415.7" r="2.0"/><circle cx="397.24" cy="415.55" r="2.0"/><circle cx="398.06" cy="415.4" r="2.0"/><circle cx="398.89" cy="415.24" r="2.0"/><circle cx="399.71" cy="415.09" r="2.0"/><circle cx="400.54" cy="414.94" r="2.0"/><circle cx="401.36" cy="414.5" r="2.0"/><circle cx="402.19" cy="412.9" r="2.0"/><circle cx="403.01" cy="411.31" r="2.0"/><circle cx="403.84" cy="409.71" r="2.0"/><circle cx="404.66" cy="408.12" r="2.0"/><circle cx="405.32" cy="406.84" r="2.0"/><circle cx="406.56" cy="402.36" r="2.0"/><circle cx="407.8" cy="397.88" r="2.0"/><circle cx="409.04" cy="393.4" r="2.0"/><circle cx="410.27" cy="388.92" r="2.0"/><circle cx="411.51" cy="384.44" r="2.0"/><circle cx="412.75" cy="379.96" r="2.0"/><circle cx="413.99" cy="375.48" r="2.0"/><circle cx="415.22" cy="371" r="2.0"/><circle cx="416.46" cy="366.52" r="2.0"/><circle cx="417.37" cy="363.23" r="2.0"/><circle cx="418.19" cy="361.86" r="2.0"/><circle cx="419.02" cy="360.5" r="2.0"/><circle cx="419.84" cy="359.13" r="2.0"/><circle cx="420.67" cy="357.76" r="2.0"/><circle cx="421.5" cy="356.38" r="2.0"/><circle cx="422.32" cy="355" r="2.0"/><circle cx="423.14" cy="353.63" r="2.0"/><circle cx="423.97" cy="352.25" r="2.0"/><circle cx="424.79" cy="350.87" r="2.0"/><circle cx="425.62" cy="349.49" r="2.0"/><circle cx="426.44" cy="348.12" r="2.0"/><circle cx="427.27" cy="346.74" r="2.0"/><circle cx="428.09" cy="345.36" r="2.0"/><circle cx="428.92" cy="343.99" r="2.0"/><circle cx="429.75" cy="342.61" r="2.0"/><circle cx="430.57" cy="341.23" r="2.0"/><circle cx="431.39" cy="339.85" r="2.0"/><circle cx="432.22" cy="338.48" r="2.0"/><circle cx="433.04" cy="337.1" r="2.0"/><circle cx="433.87" cy="335.72" r="2.0"/><circle cx="434.69" cy="334.35" r="2.0"/><circle cx="435.52" cy="332.97" r="2.0"/><circle cx="436.34" cy="331.59" r="2.0"/><circle cx="437.17" cy="329.92" r="2.0"/><circle cx="437.99" cy="328.06" r="2.0"/><circle cx="438.82" cy="327.47" r="2.0"/><circle cx="439.64" cy="327.19" r="2.0"/><circle cx="440.47" cy="326.92" r="2.0"/><circle cx="441.29" cy="326.64" r="2.0"/><circle cx="442.12" cy="326.36" r="2.0"/><circle cx="442.94" cy="326.08" r="2.0"/><circle cx="443.77" cy="325.81" r="2.0"/><circle cx="444.59" cy="325.53" r="2.0"/><circle cx="445.42" cy="325.25" r="2.0"/><circle cx="446.25" cy="324.97" r="2.0"/><circle cx="447.07" cy="324.7" r="2.0"/><circle cx="447.23" cy="324.64" r="2.0"/><circle cx="448.39" cy="320.31" r="2.0"/><circle cx="449.54" cy="315.98" r="2.0"/><circle cx="450.7" cy="311.65" r="2.0"/><circle cx="451.86" cy="307.31" r="2.0"/><circle cx="453.01" cy="302.98" r="2.0"/><circle cx="454.16" cy="298.65" r="2.0"/><circle cx="455.32" cy="294.32" r="2.0"/><circle cx="456.48" cy="292.23" r="2.0"/><circle cx="457.63" cy="290.14" r="2.0"/><circle cx="458.79" cy="288.05" r="2.0"/><circle cx="459.94" cy="285.96" r="2.0"/><circle cx="461.1" cy="283.87" r="2.0"/><circle cx="462.25" cy="281.78" r="2.0"/><circle cx="463.41" cy="279.69" r="2.0"/><circle cx="464.56" cy="277.6" r="2.0"/><circle cx="465.38" cy="276.11" r="2.0"/><circle cx="466.21" cy="275.2" r="2.0"/><circle cx="467.03" cy="274.3" r="2.0"/><circle cx="467.86" cy="273.39" r="2.0"/><circle cx="468.68" cy="272.49" r="2.0"/><circle cx="469.51" cy="271.58" r="2.0"/><circle cx="470.33" cy="270.68" r="2.0"/><circle cx="471.16" cy="269.77" r="2.0"/><circle cx="471.98" cy="268.87" r="2.0"/><circle cx="472.81" cy="267.96" r="2.0"/><circle cx="473.63" cy="267.05" r="2.0"/><circle cx="474.46" cy="266.15" r="2.0"/><circle cx="475.28" cy="266.03" r="2.0"/><circle cx="476.11" cy="266.11" r="2.0"/><circle cx="476.93" cy="266.19" r="2.0"/><circle cx="477.76" cy="266.27" r="2.0"/><circle cx="478.58" cy="266.34" r="2.0"/><circle cx="479.41" cy="266.42" r="2.0"/><circle cx="480.23" cy="266.5" r="2.0"/><circle cx="481.06" cy="266.58" r="2.0"/><circle cx="481.88" cy="266.66" r="2.0"/><circle cx="482.71" cy="266.74" r="2.0"/><circle cx="483.53" cy="266.81" r="2.0"/><circle cx="484.36" cy="266.89" r="2.0"/><circle cx="485.18" cy="266.97" r="2.0"/><circle cx="486.01" cy="267.05" r="2.0"/><circle cx="486.83" cy="267.13" r="2.0"/><circle cx="487.66" cy="267.21" r="2.0"/><circle cx="488.49" cy="267.28" r="2.0"/><circle cx="489.31" cy="267.37" r="2.0"/><circle cx="490.13" cy="267.48" r="2.0"/><circle cx="490.96" cy="267.59" r="2.0"/><circle cx="491.78" cy="267.7" r="2.0"/><circle cx="492.61" cy="267.81" r="2.0"/><circle cx="493.43" cy="267.92" r="2.0"/><circle cx="494.26" cy="268.03" r="2.0"/><circle cx="495.08" cy="268.14" r="2.0"/><circle cx="495.91" cy="268.25" r="2.0"/><circle cx="496.74" cy="268.36" r="2.0"/><circle cx="497.56" cy="268.47" r="2.0"/><circle cx="498.38" cy="268.58" r="2.0"/><circle cx="499.21" cy="268.69" r="2.0"/><circle cx="500.03" cy="268.81" r="2.0"/><circle cx="500.86" cy="268.92" r="2.0"/><circle cx="501.68" cy="269.03" r="2.0"/><circle cx="502.51" cy="269.14" r="2.0"/><circle cx="503.33" cy="269.25" r="2.0"/><circle cx="504.16" cy="269.36" r="2.0"/><circle cx="504.99" cy="269.47" r="2.0"/><circle cx="505.81" cy="269.51" r="2.0"/><circle cx="506.63" cy="269.51" r="2.0"/><circle cx="507.46" cy="269.51" r="2.0"/><circle cx="508.28" cy="269.51" r="2.0"/><circle cx="509.11" cy="269.51" r="2.0"/><circle cx="509.93" cy="269.51" r="2.0"/><circle cx="510.76" cy="269.51" r="2.0"/><circle cx="511.58" cy="269.51" r="2.0"/><circle cx="512.41" cy="269.51" r="2.0"/><circle cx="513.24" cy="269.51" r="2.0"/><circle cx="514.06" cy="269.51" r="2.0"/><circle cx="514.88" cy="269.51" r="2.0"/><circle cx="515.71" cy="269.51" r="2.0"/><circle cx="516.53" cy="269.51" r="2.0"/><circle cx="517.36" cy="269.51" r="2.0"/><circle cx="518.18" cy="269.51" r="2.0"/><circle cx="519.01" cy="269.51" r="2.0"/><circle cx="519.84" cy="269.51" r="2.0"/><circle cx="520.66" cy="269.27" r="2.0"/><circle cx="521.49" cy="269.03" r="2.0"/><circle cx="522.31" cy="268.79" r="2.0"/><circle cx="523.13" cy="268.55" r="2.0"/><circle cx="523.96" cy="268.3" r="2.0"/><circle cx="524.78" cy="268.06" r="2.0"/><circle cx="525.61" cy="267.82" r="2.0"/><circle cx="526.43" cy="267.58" r="2.0"/><circle cx="527.26" cy="267.34" r="2.0"/><circle cx="528.09" cy="267.1" r="2.0"/><circle cx="528.91" cy="266.93" r="2.0"/><circle cx="529.74" cy="266.89" r="2.0"/><circle cx="530.56" cy="266.84" r="2.0"/><circle cx="531.38" cy="266.79" r="2.0"/><circle cx="532.21" cy="266.74" r="2.0"/><circle cx="533.03" cy="266.7" r="2.0"/><circle cx="533.86" cy="266.65" r="2.0"/><circle cx="534.68" cy="266.6" r="2.0"/><circle cx="535.51" cy="266.55" r="2.0"/><circle cx="536.34" cy="266.5" r="2.0"/><circle cx="537.16" cy="266.46" r="2.0"/><circle cx="537.99" cy="266.41" r="2.0"/><circle cx="538.81" cy="266.36" r="2.0"/><circle cx="539.63" cy="266.59" r="2.0"/><circle cx="540.46" cy="266.81" r="2.0"/><circle cx="541.28" cy="267.03" r="2.0"/><circle cx="542.11" cy="267.26" r="2.0"/><circle cx="542.93" cy="267.48" r="2.0"/><circle cx="543.76" cy="267.7" r="2.0"/><circle cx="544.59" cy="267.93" r="2.0"/><circle cx="545.41" cy="268.15" r="2.0"/><circle cx="546.24" cy="268.46" r="2.0"/><circle cx="547.06" cy="269.1" r="2.0"/><circle cx="547.88" cy="269.73" r="2.0"/><circle cx="548.71" cy="270.37" r="2.0"/><circle cx="549.53" cy="271.01" r="2.0"/><circle cx="550.36" cy="271.65" r="2.0"/><circle cx="550.52" cy="271.78" r="2.0"/><circle cx="551.18" cy="273.36" r="2.0"/><circle cx="551.85" cy="274.95" r="2.0"/><circle cx="552.5" cy="276.53" r="2.0"/><circle cx="553.16" cy="278.11" r="2.0"/><circle cx="553.83" cy="279.7" r="2.0"/><circle cx="554.49" cy="281.28" r="2.0"/><circle cx="555.14" cy="282.87" r="2.0"/><circle cx="555.81" cy="284.45" r="2.0"/><circle cx="556.47" cy="286.04" r="2.0"/><circle cx="557.12" cy="287.62" r="2.0"/><circle cx="557.79" cy="289.2" r="2.0"/><circle cx="558.45" cy="290.79" r="2.0"/><circle cx="559.11" cy="292.37" r="2.0"/><circle cx="559.6" cy="293.56" r="2.0"/><circle cx="561" cy="296.93" r="2.0"/><circle cx="562.4" cy="300.3" r="2.0"/><circle cx="563.81" cy="303.66" r="2.0"/><circle cx="565.21" cy="307.29" r="2.0"/><circle cx="566.61" cy="311.21" r="2.0"/><circle cx="568.01" cy="315.13" r="2.0"/><circle cx="569.42" cy="319.05" r="2.0"/><circle cx="570.82" cy="322.97" r="2.0"/><circle cx="572.22" cy="326.89" r="2.0"/><circle cx="573.62" cy="330.81" r="2.0"/><circle cx="575.03" cy="334.73" r="2.0"/><circle cx="576.43" cy="338.65" r="2.0"/><circle cx="577.83" cy="342.57" r="2.0"/><circle cx="579.23" cy="346.49" r="2.0"/><circle cx="580.64" cy="349.85" r="2.0"/><circle cx="582.04" cy="352.9" r="2.0"/><circle cx="583.44" cy="355.96" r="2.0"/><circle cx="584.84" cy="359.01" r="2.0"/><circle cx="586.25" cy="362.07" r="2.0"/><circle cx="586.33" cy="362.25" r="2.0"/><circle cx="587.15" cy="362.69" r="2.0"/><circle cx="587.98" cy="363.14" r="2.0"/><circle cx="588.8" cy="363.58" r="2.0"/><circle cx="589.63" cy="364.03" r="2.0"/><circle cx="590.45" cy="364.47" r="2.0"/><circle cx="591.28" cy="364.92" r="2.0"/><circle cx="592.11" cy="365.36" r="2.0"/><circle cx="592.93" cy="365.81" r="2.0"/><circle cx="593.75" cy="366.01" r="2.0"/><circle cx="594.58" cy="366.03" r="2.0"/><circle cx="595.4" cy="366.06" r="2.0"/><circle cx="596.23" cy="366.09" r="2.0"/><circle cx="597.05" cy="366.12" r="2.0"/><circle cx="597.88" cy="366.15" r="2.0"/><circle cx="598.7" cy="366.18" r="2.0"/><circle cx="599.53" cy="366.21" r="2.0"/><circle cx="600.35" cy="366.24" r="2.0"/><circle cx="601.18" cy="366.27" r="2.0"/><circle cx="602" cy="366.29" r="2.0"/><circle cx="602.83" cy="366.32" r="2.0"/><circle cx="603.65" cy="366.35" r="2.0"/><circle cx="604.48" cy="366.38" r="2.0"/><circle cx="605.3" cy="366.71" r="2.0"/><circle cx="606.13" cy="367.04" r="2.0"/><circle cx="606.95" cy="367.37" r="2.0"/><circle cx="607.78" cy="367.7" r="2.0"/><circle cx="608.6" cy="368.04" r="2.0"/><circle cx="609.43" cy="368.37" r="2.0"/><circle cx="610.25" cy="368.7" r="2.0"/><circle cx="611.08" cy="369.03" r="2.0"/><circle cx="611.9" cy="369.36" r="2.0"/><circle cx="612.73" cy="369.69" r="2.0"/><circle cx="613.55" cy="370.02" r="2.0"/><circle cx="614.38" cy="370.35" r="2.0"/><circle cx="615.2" cy="370.55" r="2.0"/><circle cx="616.03" cy="370.71" r="2.0"/><circle cx="616.85" cy="370.87" r="2.0"/><circle cx="617.68" cy="371.04" r="2.0"/><circle cx="618.5" cy="371.2" r="2.0"/><circle cx="619.33" cy="371.36" r="2.0"/><circle cx="620.15" cy="371.53" r="2.0"/><circle cx="620.98" cy="371.69" r="2.0"/><circle cx="621.8" cy="371.85" r="2.0"/><circle cx="622.63" cy="372.02" r="2.0"/><circle cx="623.45" cy="372.18" r="2.0"/><circle cx="624.28" cy="372.34" r="2.0"/><circle cx="625.1" cy="372.5" r="2.0"/><circle cx="625.93" cy="372.67" r="2.0"/><circle cx="626.75" cy="372.83" r="2.0"/><circle cx="627.58" cy="372.99" r="2.0"/><circle cx="628.4" cy="373.16" r="2.0"/><circle cx="629.23" cy="373.32" r="2.0"/><circle cx="630.05" cy="373.48" r="2.0"/><circle cx="630.88" cy="373.65" r="2.0"/><circle cx="631.7" cy="373.81" r="2.0"/><circle cx="632.53" cy="373.97" r="2.0"/><circle cx="633.35" cy="374.13" r="2.0"/><circle cx="634.18" cy="374.3" r="2.0"/><circle cx="635" cy="374.46" r="2.0"/><circle cx="635.83" cy="374.62" r="2.0"/><circle cx="636.65" cy="374.79" r="2.0"/><circle cx="637.48" cy="374.95" r="2.0"/><circle cx="638.3" cy="375.11" r="2.0"/><circle cx="639.13" cy="375.28" r="2.0"/><circle cx="639.95" cy="375.44" r="2.0"/><circle cx="640.78" cy="375.55" r="2.0"/><circle cx="641.61" cy="375.66" r="2.0"/><circle cx="642.43" cy="375.77" r="2.0"/><circle cx="643.25" cy="375.88" r="2.0"/><circle cx="644.08" cy="375.99" r="2.0"/><circle cx="644.9" cy="376.1" r="2.0"/><circle cx="645.73" cy="376.21" r="2.0"/><circle cx="646.55" cy="376.32" r="2.0"/><circle cx="647.38" cy="376.43" r="2.0"/><circle cx="648.2" cy="376.54" r="2.0"/><circle cx="649.03" cy="376.66" r="2.0"/><circle cx="649.86" cy="376.77" r="2.0"/><circle cx="650.68" cy="376.88" r="2.0"/><circle cx="651.5" cy="376.99" r="2.0"/><circle cx="652.33" cy="377.1" r="2.0"/><circle cx="653.15" cy="377.21" r="2.0"/><circle cx="653.98" cy="377.32" r="2.0"/><circle cx="654.8" cy="377.43" r="2.0"/><circle cx="655.63" cy="377.54" r="2.0"/><circle cx="656.45" cy="377.65" r="2.0"/><circle cx="657.28" cy="377.76" r="2.0"/><circle cx="658.11" cy="377.87" r="2.0"/><circle cx="658.93" cy="377.98" r="2.0"/><circle cx="659.75" cy="378.09" r="2.0"/><circle cx="660.58" cy="378.2" r="2.0"/><circle cx="661.4" cy="378.29" r="2.0"/><circle cx="662.23" cy="378.29" r="2.0"/><circle cx="663.05" cy="378.29" r="2.0"/><circle cx="663.88" cy="378.29" r="2.0"/><circle cx="664.7" cy="378.29" r="2.0"/><circle cx="665.53" cy="378.29" r="2.0"/><circle cx="666.36" cy="378.29" r="2.0"/><circle cx="667.18" cy="378.29" r="2.0"/><circle cx="668" cy="378.29" r="2.0"/><circle cx="668.83" cy="378.29" r="2.0"/><circle cx="669.65" cy="378.29" r="2.0"/><circle cx="670.48" cy="378.29" r="2.0"/><circle cx="671.3" cy="378.29" r="2.0"/><circle cx="672.13" cy="378.29" r="2.0"/><circle cx="672.95" cy="378.29" r="2.0"/><circle cx="673.78" cy="378.29" r="2.0"/><circle cx="674.61" cy="378.29" r="2.0"/><circle cx="675.43" cy="378.29" r="2.0"/><circle cx="676.25" cy="378.29" r="2.0"/><circle cx="677.08" cy="378.29" r="2.0"/><circle cx="677.9" cy="378.29" r="2.0"/><circle cx="678.4" cy="378.29" r="2.0"/></g>
<g fill="#d9d9d9"><circle cx="381.4" cy="428.5" r="2.15"/><circle cx="381.56" cy="428.5" r="2.15"/><circle cx="382.39" cy="428.5" r="2.15"/><circle cx="383.21" cy="428.5" r="2.15"/><circle cx="384.04" cy="428.5" r="2.15"/><circle cx="384.86" cy="428.5" r="2.15"/><circle cx="385.69" cy="428.5" r="2.15"/><circle cx="386.51" cy="428.5" r="2.15"/><circle cx="387.34" cy="428.5" r="2.15"/><circle cx="388.16" cy="428.5" r="2.15"/><circle cx="388.99" cy="428.5" r="2.15"/><circle cx="389.81" cy="428.5" r="2.15"/><circle cx="390.64" cy="428.5" r="2.15"/><circle cx="391.46" cy="428.5" r="2.15"/><circle cx="392.29" cy="428.5" r="2.15"/><circle cx="393.11" cy="428.5" r="2.15"/><circle cx="393.94" cy="428.5" r="2.15"/><circle cx="394.76" cy="428.5" r="2.15"/><circle cx="395.59" cy="428.5" r="2.15"/><circle cx="396.41" cy="428.5" r="2.15"/><circle cx="397.24" cy="428.5" r="2.15"/><circle cx="398.06" cy="428.5" r="2.15"/><circle cx="398.89" cy="428.5" r="2.15"/><circle cx="399.71" cy="428.5" r="2.15"/><circle cx="400.54" cy="428.5" r="2.15"/><circle cx="401.36" cy="428.5" r="2.15"/><circle cx="402.19" cy="428.5" r="2.15"/><circle cx="403.01" cy="428.5" r="2.15"/><circle cx="403.84" cy="428.5" r="2.15"/><circle cx="404.66" cy="428.5" r="2.15"/><circle cx="405.32" cy="428.5" r="2.15"/><circle cx="406.56" cy="428.5" r="2.15"/><circle cx="407.8" cy="428.5" r="2.15"/><circle cx="409.04" cy="428.5" r="2.15"/><circle cx="410.27" cy="428.5" r="2.15"/><circle cx="411.51" cy="428.5" r="2.15"/><circle cx="412.75" cy="428.5" r="2.15"/><circle cx="413.99" cy="428.5" r="2.15"/><circle cx="415.22" cy="427.66" r="2.15"/><circle cx="416.46" cy="421.4" r="2.15"/><circle cx="417.37" cy="416.81" r="2.15"/><circle cx="418.19" cy="412.63" r="2.15"/><circle cx="419.02" cy="410.7" r="2.15"/><circle cx="419.84" cy="409.34" r="2.15"/><circle cx="420.67" cy="407.96" r="2.15"/><circle cx="421.5" cy="406.59" r="2.15"/><circle cx="422.32" cy="405.21" r="2.15"/><circle cx="423.14" cy="403.83" r="2.15"/><circle cx="423.97" cy="402.46" r="2.15"/><circle cx="424.79" cy="401.08" r="2.15"/><circle cx="425.62" cy="399.7" r="2.15"/><circle cx="426.44" cy="398.32" r="2.15"/><circle cx="427.27" cy="396.95" r="2.15"/><circle cx="428.09" cy="395.57" r="2.15"/><circle cx="428.92" cy="394.19" r="2.15"/><circle cx="429.75" cy="392.82" r="2.15"/><circle cx="430.57" cy="391.44" r="2.15"/><circle cx="431.39" cy="390.06" r="2.15"/><circle cx="432.22" cy="388.68" r="2.15"/><circle cx="433.04" cy="387.31" r="2.15"/><circle cx="433.87" cy="385.93" r="2.15"/><circle cx="434.69" cy="384.55" r="2.15"/><circle cx="435.52" cy="383.17" r="2.15"/><circle cx="436.34" cy="381.8" r="2.15"/><circle cx="437.17" cy="380.13" r="2.15"/><circle cx="437.99" cy="378.27" r="2.15"/><circle cx="438.82" cy="377.68" r="2.15"/><circle cx="439.64" cy="377.4" r="2.15"/><circle cx="440.47" cy="377.12" r="2.15"/><circle cx="441.29" cy="376.85" r="2.15"/><circle cx="442.12" cy="376.57" r="2.15"/><circle cx="442.94" cy="376.29" r="2.15"/><circle cx="443.77" cy="376.01" r="2.15"/><circle cx="444.59" cy="375.74" r="2.15"/><circle cx="445.42" cy="375.46" r="2.15"/><circle cx="446.25" cy="375.18" r="2.15"/><circle cx="447.07" cy="374.9" r="2.15"/><circle cx="447.23" cy="374.85" r="2.15"/><circle cx="448.39" cy="370.52" r="2.15"/><circle cx="449.54" cy="366.18" r="2.15"/><circle cx="450.7" cy="361.85" r="2.15"/><circle cx="451.86" cy="357.52" r="2.15"/><circle cx="453.01" cy="353.19" r="2.15"/><circle cx="454.16" cy="348.86" r="2.15"/><circle cx="455.32" cy="344.53" r="2.15"/><circle cx="456.48" cy="342.44" r="2.15"/><circle cx="457.63" cy="340.35" r="2.15"/><circle cx="458.79" cy="338.26" r="2.15"/><circle cx="459.94" cy="336.17" r="2.15"/><circle cx="461.1" cy="334.08" r="2.15"/><circle cx="462.25" cy="331.99" r="2.15"/><circle cx="463.41" cy="329.9" r="2.15"/><circle cx="464.56" cy="327.81" r="2.15"/><circle cx="465.38" cy="326.31" r="2.15"/><circle cx="466.21" cy="325.41" r="2.15"/><circle cx="467.03" cy="324.5" r="2.15"/><circle cx="467.86" cy="323.6" r="2.15"/><circle cx="468.68" cy="322.69" r="2.15"/><circle cx="469.51" cy="321.79" r="2.15"/><circle cx="470.33" cy="320.88" r="2.15"/><circle cx="471.16" cy="319.98" r="2.15"/><circle cx="471.98" cy="319.07" r="2.15"/><circle cx="472.81" cy="318.17" r="2.15"/><circle cx="473.63" cy="317.26" r="2.15"/><circle cx="474.46" cy="316.36" r="2.15"/><circle cx="475.28" cy="316.24" r="2.15"/><circle cx="476.11" cy="316.32" r="2.15"/><circle cx="476.93" cy="316.39" r="2.15"/><circle cx="477.76" cy="316.47" r="2.15"/><circle cx="478.58" cy="316.55" r="2.15"/><circle cx="479.41" cy="316.63" r="2.15"/><circle cx="480.23" cy="316.71" r="2.15"/><circle cx="481.06" cy="316.79" r="2.15"/><circle cx="481.88" cy="316.86" r="2.15"/><circle cx="482.71" cy="316.94" r="2.15"/><circle cx="483.53" cy="317.02" r="2.15"/><circle cx="484.36" cy="317.1" r="2.15"/><circle cx="485.18" cy="317.18" r="2.15"/><circle cx="486.01" cy="317.26" r="2.15"/><circle cx="486.83" cy="317.33" r="2.15"/><circle cx="487.66" cy="317.41" r="2.15"/><circle cx="488.49" cy="317.49" r="2.15"/><circle cx="489.31" cy="317.58" r="2.15"/><circle cx="490.13" cy="317.69" r="2.15"/><circle cx="490.96" cy="317.8" r="2.15"/><circle cx="491.78" cy="317.91" r="2.15"/><circle cx="492.61" cy="318.02" r="2.15"/><circle cx="493.43" cy="318.13" r="2.15"/><circle cx="494.26" cy="318.24" r="2.15"/><circle cx="495.08" cy="318.35" r="2.15"/><circle cx="495.91" cy="318.46" r="2.15"/><circle cx="496.74" cy="318.57" r="2.15"/><circle cx="497.56" cy="318.68" r="2.15"/><circle cx="498.38" cy="318.79" r="2.15"/><circle cx="499.21" cy="318.9" r="2.15"/><circle cx="500.03" cy="319.01" r="2.15"/><circle cx="500.86" cy="319.12" r="2.15"/><circle cx="501.68" cy="319.23" r="2.15"/><circle cx="502.51" cy="319.34" r="2.15"/><circle cx="503.33" cy="319.45" r="2.15"/><circle cx="504.16" cy="319.56" r="2.15"/><circle cx="504.99" cy="319.67" r="2.15"/><circle cx="505.81" cy="319.72" r="2.15"/><circle cx="506.63" cy="319.72" r="2.15"/><circle cx="507.46" cy="319.72" r="2.15"/><circle cx="508.28" cy="319.72" r="2.15"/><circle cx="509.11" cy="319.72" r="2.15"/><circle cx="509.93" cy="319.72" r="2.15"/><circle cx="510.76" cy="319.72" r="2.15"/><circle cx="511.58" cy="319.72" r="2.15"/><circle cx="512.41" cy="319.72" r="2.15"/><circle cx="513.24" cy="319.72" r="2.15"/><circle cx="514.06" cy="319.72" r="2.15"/><circle cx="514.88" cy="319.72" r="2.15"/><circle cx="515.71" cy="319.72" r="2.15"/><circle cx="516.53" cy="319.72" r="2.15"/><circle cx="517.36" cy="319.72" r="2.15"/><circle cx="518.18" cy="319.72" r="2.15"/><circle cx="519.01" cy="319.72" r="2.15"/><circle cx="519.84" cy="319.72" r="2.15"/><circle cx="520.66" cy="319.48" r="2.15"/><circle cx="521.49" cy="319.24" r="2.15"/><circle cx="522.31" cy="318.99" r="2.15"/><circle cx="523.13" cy="318.75" r="2.15"/><circle cx="523.96" cy="318.51" r="2.15"/><circle cx="524.78" cy="318.27" r="2.15"/><circle cx="525.61" cy="318.03" r="2.15"/><circle cx="526.43" cy="317.79" r="2.15"/><circle cx="527.26" cy="317.55" r="2.15"/><circle cx="528.09" cy="317.3" r="2.15"/><circle cx="528.91" cy="317.14" r="2.15"/><circle cx="529.74" cy="317.09" r="2.15"/><circle cx="530.56" cy="317.05" r="2.15"/><circle cx="531.38" cy="317" r="2.15"/><circle cx="532.21" cy="316.95" r="2.15"/><circle cx="533.03" cy="316.9" r="2.15"/><circle cx="533.86" cy="316.85" r="2.15"/><circle cx="534.68" cy="316.81" r="2.15"/><circle cx="535.51" cy="316.76" r="2.15"/><circle cx="536.34" cy="316.71" r="2.15"/><circle cx="537.16" cy="316.66" r="2.15"/><circle cx="537.99" cy="316.62" r="2.15"/><circle cx="538.81" cy="316.57" r="2.15"/><circle cx="539.63" cy="316.79" r="2.15"/><circle cx="540.46" cy="317.02" r="2.15"/><circle cx="541.28" cy="317.24" r="2.15"/><circle cx="542.11" cy="317.46" r="2.15"/><circle cx="542.93" cy="317.69" r="2.15"/><circle cx="543.76" cy="317.91" r="2.15"/><circle cx="544.59" cy="318.13" r="2.15"/><circle cx="545.41" cy="318.36" r="2.15"/><circle cx="546.24" cy="318.67" r="2.15"/><circle cx="547.06" cy="319.3" r="2.15"/><circle cx="547.88" cy="319.94" r="2.15"/><circle cx="548.71" cy="320.58" r="2.15"/><circle cx="549.53" cy="321.22" r="2.15"/><circle cx="550.36" cy="321.86" r="2.15"/><circle cx="550.52" cy="321.98" r="2.15"/><circle cx="551.18" cy="323.57" r="2.15"/><circle cx="551.85" cy="325.15" r="2.15"/><circle cx="552.5" cy="326.74" r="2.15"/><circle cx="553.16" cy="328.32" r="2.15"/><circle cx="553.83" cy="329.9" r="2.15"/><circle cx="554.49" cy="331.49" r="2.15"/><circle cx="555.14" cy="333.07" r="2.15"/><circle cx="555.81" cy="334.66" r="2.15"/><circle cx="556.47" cy="336.24" r="2.15"/><circle cx="557.12" cy="337.83" r="2.15"/><circle cx="557.79" cy="339.41" r="2.15"/><circle cx="558.45" cy="341" r="2.15"/><circle cx="559.11" cy="342.58" r="2.15"/><circle cx="559.6" cy="343.77" r="2.15"/><circle cx="561" cy="347.14" r="2.15"/><circle cx="562.4" cy="350.5" r="2.15"/><circle cx="563.81" cy="353.87" r="2.15"/><circle cx="565.21" cy="357.5" r="2.15"/><circle cx="566.61" cy="361.42" r="2.15"/><circle cx="568.01" cy="365.34" r="2.15"/><circle cx="569.42" cy="369.26" r="2.15"/><circle cx="570.82" cy="373.18" r="2.15"/><circle cx="572.22" cy="377.1" r="2.15"/><circle cx="573.62" cy="381.02" r="2.15"/><circle cx="575.03" cy="384.94" r="2.15"/><circle cx="576.43" cy="388.86" r="2.15"/><circle cx="577.83" cy="392.78" r="2.15"/><circle cx="579.23" cy="396.7" r="2.15"/><circle cx="580.64" cy="400.06" r="2.15"/><circle cx="582.04" cy="403.11" r="2.15"/><circle cx="583.44" cy="406.17" r="2.15"/><circle cx="584.84" cy="409.22" r="2.15"/><circle cx="586.25" cy="412.27" r="2.15"/><circle cx="586.33" cy="412.45" r="2.15"/><circle cx="587.15" cy="412.9" r="2.15"/><circle cx="587.98" cy="413.34" r="2.15"/><circle cx="588.8" cy="413.79" r="2.15"/><circle cx="589.63" cy="414.23" r="2.15"/><circle cx="590.45" cy="414.68" r="2.15"/><circle cx="591.28" cy="415.13" r="2.15"/><circle cx="592.11" cy="415.57" r="2.15"/><circle cx="592.93" cy="416.02" r="2.15"/><circle cx="593.75" cy="416.21" r="2.15"/><circle cx="594.58" cy="416.24" r="2.15"/><circle cx="595.4" cy="416.27" r="2.15"/><circle cx="596.23" cy="416.3" r="2.15"/><circle cx="597.05" cy="416.33" r="2.15"/><circle cx="597.88" cy="416.36" r="2.15"/><circle cx="598.7" cy="416.39" r="2.15"/><circle cx="599.53" cy="416.41" r="2.15"/><circle cx="600.35" cy="416.44" r="2.15"/><circle cx="601.18" cy="416.47" r="2.15"/><circle cx="602" cy="416.5" r="2.15"/><circle cx="602.83" cy="416.53" r="2.15"/><circle cx="603.65" cy="416.56" r="2.15"/><circle cx="604.48" cy="416.59" r="2.15"/><circle cx="605.3" cy="416.92" r="2.15"/><circle cx="606.13" cy="417.25" r="2.15"/><circle cx="606.95" cy="417.58" r="2.15"/><circle cx="607.78" cy="417.91" r="2.15"/><circle cx="608.6" cy="418.24" r="2.15"/><circle cx="609.43" cy="418.57" r="2.15"/><circle cx="610.25" cy="418.9" r="2.15"/><circle cx="611.08" cy="419.23" r="2.15"/><circle cx="611.9" cy="419.57" r="2.15"/><circle cx="612.73" cy="419.9" r="2.15"/><circle cx="613.55" cy="420.23" r="2.15"/><circle cx="614.38" cy="420.56" r="2.15"/><circle cx="615.2" cy="420.75" r="2.15"/><circle cx="616.03" cy="420.92" r="2.15"/><circle cx="616.85" cy="421.08" r="2.15"/><circle cx="617.68" cy="421.24" r="2.15"/><circle cx="618.5" cy="421.41" r="2.15"/><circle cx="619.33" cy="421.57" r="2.15"/><circle cx="620.15" cy="421.73" r="2.15"/><circle cx="620.98" cy="421.9" r="2.15"/><circle cx="621.8" cy="422.06" r="2.15"/><circle cx="622.63" cy="422.22" r="2.15"/><circle cx="623.45" cy="422.38" r="2.15"/><circle cx="624.28" cy="422.55" r="2.15"/><circle cx="625.1" cy="422.71" r="2.15"/><circle cx="625.93" cy="422.87" r="2.15"/><circle cx="626.75" cy="423.04" r="2.15"/><circle cx="627.58" cy="423.2" r="2.15"/><circle cx="628.4" cy="423.36" r="2.15"/><circle cx="629.23" cy="423.53" r="2.15"/><circle cx="630.05" cy="423.69" r="2.15"/><circle cx="630.88" cy="423.85" r="2.15"/><circle cx="631.7" cy="424.02" r="2.15"/><circle cx="632.53" cy="424.18" r="2.15"/><circle cx="633.35" cy="424.34" r="2.15"/><circle cx="634.18" cy="424.5" r="2.15"/><circle cx="635" cy="424.67" r="2.15"/><circle cx="635.83" cy="424.83" r="2.15"/><circle cx="636.65" cy="424.99" r="2.15"/><circle cx="637.48" cy="425.16" r="2.15"/><circle cx="638.3" cy="425.32" r="2.15"/><circle cx="639.13" cy="425.48" r="2.15"/><circle cx="639.95" cy="425.65" r="2.15"/><circle cx="640.78" cy="425.76" r="2.15"/><circle cx="641.61" cy="425.87" r="2.15"/><circle cx="642.43" cy="425.98" r="2.15"/><circle cx="643.25" cy="426.09" r="2.15"/><circle cx="644.08" cy="426.2" r="2.15"/><circle cx="644.9" cy="426.31" r="2.15"/><circle cx="645.73" cy="426.42" r="2.15"/><circle cx="646.55" cy="426.53" r="2.15"/><circle cx="647.38" cy="426.64" r="2.15"/><circle cx="648.2" cy="426.75" r="2.15"/><circle cx="649.03" cy="426.86" r="2.15"/><circle cx="649.86" cy="426.97" r="2.15"/><circle cx="650.68" cy="427.08" r="2.15"/><circle cx="651.5" cy="427.19" r="2.15"/><circle cx="652.33" cy="427.3" r="2.15"/><circle cx="653.15" cy="427.42" r="2.15"/><circle cx="653.98" cy="427.53" r="2.15"/><circle cx="654.8" cy="427.64" r="2.15"/><circle cx="655.63" cy="427.75" r="2.15"/><circle cx="656.45" cy="427.86" r="2.15"/><circle cx="657.28" cy="427.97" r="2.15"/><circle cx="658.11" cy="428.08" r="2.15"/><circle cx="658.93" cy="428.19" r="2.15"/><circle cx="659.75" cy="428.3" r="2.15"/><circle cx="660.58" cy="428.41" r="2.15"/><circle cx="661.4" cy="428.5" r="2.15"/><circle cx="662.23" cy="428.5" r="2.15"/><circle cx="663.05" cy="428.5" r="2.15"/><circle cx="663.88" cy="428.5" r="2.15"/><circle cx="664.7" cy="428.5" r="2.15"/><circle cx="665.53" cy="428.5" r="2.15"/><circle cx="666.36" cy="428.5" r="2.15"/><circle cx="667.18" cy="428.5" r="2.15"/><circle cx="668" cy="428.5" r="2.15"/><circle cx="668.83" cy="428.5" r="2.15"/><circle cx="669.65" cy="428.5" r="2.15"/><circle cx="670.48" cy="428.5" r="2.15"/><circle cx="671.3" cy="428.5" r="2.15"/><circle cx="672.13" cy="428.5" r="2.15"/><circle cx="672.95" cy="428.5" r="2.15"/><circle cx="673.78" cy="428.5" r="2.15"/><circle cx="674.61" cy="428.5" r="2.15"/><circle cx="675.43" cy="428.5" r="2.15"/><circle cx="676.25" cy="428.5" r="2.15"/><circle cx="677.08" cy="428.5" r="2.15"/><circle cx="677.9" cy="428.5" r="2.15"/><circle cx="678.4" cy="428.5" r="2.15"/></g>
<g fill="#b0b0b0"><circle cx="381.4" cy="428.5" r="2.15"/><circle cx="381.56" cy="428.5" r="2.15"/><circle cx="382.39" cy="428.5" r="2.15"/><circle cx="383.21" cy="428.5" r="2.15"/><circle cx="384.04" cy="428.5" r="2.15"/><circle cx="384.86" cy="428.5" r="2.15"/><circle cx="385.69" cy="428.5" r="2.15"/><circle cx="386.51" cy="428.5" r="2.15"/><circle cx="387.34" cy="428.5" r="2.15"/><circle cx="388.16" cy="428.5" r="2.15"/><circle cx="388.99" cy="428.5" r="2.15"/><circle cx="389.81" cy="428.5" r="2.15"/><circle cx="390.64" cy="428.5" r="2.15"/><circle cx="391.46" cy="428.5" r="2.15"/><circle cx="392.29" cy="428.5" r="2.15"/><circle cx="393.11" cy="428.5" r="2.15"/><circle cx="393.94" cy="428.5" r="2.15"/><circle cx="394.76" cy="428.5" r="2.15"/><circle cx="395.59" cy="428.5" r="2.15"/><circle cx="396.41" cy="428.5" r="2.15"/><circle cx="397.24" cy="428.5" r="2.15"/><circle cx="398.06" cy="428.5" r="2.15"/><circle cx="398.89" cy="428.5" r="2.15"/><circle cx="399.71" cy="428.5" r="2.15"/><circle cx="400.54" cy="428.5" r="2.15"/><circle cx="401.36" cy="428.5" r="2.15"/><circle cx="402.19" cy="428.5" r="2.15"/><circle cx="403.01" cy="428.5" r="2.15"/><circle cx="403.84" cy="428.5" r="2.15"/><circle cx="404.66" cy="428.5" r="2.15"/><circle cx="405.32" cy="428.5" r="2.15"/><circle cx="406.56" cy="428.5" r="2.15"/><circle cx="407.8" cy="428.5" r="2.15"/><circle cx="409.04" cy="428.5" r="2.15"/><circle cx="410.27" cy="428.5" r="2.15"/><circle cx="411.51" cy="428.5" r="2.15"/><circle cx="412.75" cy="428.5" r="2.15"/><circle cx="413.99" cy="428.5" r="2.15"/><circle cx="415.22" cy="427.66" r="2.15"/><circle cx="416.46" cy="421.4" r="2.15"/><circle cx="417.37" cy="416.81" r="2.15"/><circle cx="418.19" cy="412.63" r="2.15"/><circle cx="419.02" cy="410.7" r="2.15"/><circle cx="419.84" cy="409.34" r="2.15"/><circle cx="420.67" cy="407.96" r="2.15"/><circle cx="421.5" cy="406.59" r="2.15"/><circle cx="422.32" cy="405.21" r="2.15"/><circle cx="423.14" cy="403.83" r="2.15"/><circle cx="423.97" cy="402.46" r="2.15"/><circle cx="424.79" cy="401.08" r="2.15"/><circle cx="425.62" cy="399.7" r="2.15"/><circle cx="426.44" cy="398.32" r="2.15"/><circle cx="427.27" cy="396.95" r="2.15"/><circle cx="428.09" cy="395.57" r="2.15"/><circle cx="428.92" cy="394.19" r="2.15"/><circle cx="429.75" cy="392.82" r="2.15"/><circle cx="430.57" cy="391.44" r="2.15"/><circle cx="431.39" cy="390.06" r="2.15"/><circle cx="432.22" cy="388.68" r="2.15"/><circle cx="433.04" cy="387.31" r="2.15"/><circle cx="433.87" cy="385.93" r="2.15"/><circle cx="434.69" cy="384.55" r="2.15"/><circle cx="435.52" cy="383.17" r="2.15"/><circle cx="436.34" cy="381.8" r="2.15"/><circle cx="437.17" cy="380.13" r="2.15"/><circle cx="437.99" cy="378.27" r="2.15"/><circle cx="438.82" cy="377.68" r="2.15"/><circle cx="439.64" cy="377.4" r="2.15"/><circle cx="440.47" cy="377.12" r="2.15"/><circle cx="441.29" cy="376.85" r="2.15"/><circle cx="442.12" cy="376.57" r="2.15"/><circle cx="442.94" cy="376.29" r="2.15"/><circle cx="443.77" cy="376.01" r="2.15"/><circle cx="444.59" cy="375.74" r="2.15"/><circle cx="445.42" cy="375.46" r="2.15"/><circle cx="446.25" cy="375.18" r="2.15"/><circle cx="447.07" cy="374.9" r="2.15"/><circle cx="447.23" cy="374.85" r="2.15"/><circle cx="448.39" cy="370.52" r="2.15"/><circle cx="449.54" cy="366.18" r="2.15"/><circle cx="450.7" cy="361.85" r="2.15"/><circle cx="451.86" cy="357.52" r="2.15"/><circle cx="453.01" cy="353.19" r="2.15"/><circle cx="454.16" cy="348.86" r="2.15"/><circle cx="455.32" cy="344.53" r="2.15"/><circle cx="456.48" cy="342.44" r="2.15"/><circle cx="457.63" cy="340.35" r="2.15"/><circle cx="458.79" cy="338.26" r="2.15"/><circle cx="459.94" cy="336.17" r="2.15"/><circle cx="461.1" cy="334.08" r="2.15"/><circle cx="462.25" cy="331.99" r="2.15"/><circle cx="463.41" cy="329.9" r="2.15"/><circle cx="464.56" cy="327.81" r="2.15"/><circle cx="465.38" cy="326.31" r="2.15"/><circle cx="466.21" cy="325.41" r="2.15"/><circle cx="467.03" cy="324.5" r="2.15"/><circle cx="467.86" cy="323.6" r="2.15"/><circle cx="468.68" cy="322.69" r="2.15"/><circle cx="469.51" cy="321.79" r="2.15"/><circle cx="470.33" cy="320.88" r="2.15"/><circle cx="471.16" cy="319.98" r="2.15"/><circle cx="471.98" cy="319.07" r="2.15"/><circle cx="472.81" cy="318.17" r="2.15"/><circle cx="473.63" cy="317.26" r="2.15"/><circle cx="474.46" cy="316.36" r="2.15"/><circle cx="475.28" cy="316.24" r="2.15"/><circle cx="476.11" cy="316.32" r="2.15"/><circle cx="476.93" cy="316.39" r="2.15"/><circle cx="477.76" cy="316.47" r="2.15"/><circle cx="478.58" cy="316.55" r="2.15"/><circle cx="479.41" cy="316.63" r="2.15"/><circle cx="480.23" cy="316.71" r="2.15"/><circle cx="481.06" cy="316.79" r="2.15"/><circle cx="481.88" cy="316.86" r="2.15"/><circle cx="482.71" cy="316.94" r="2.15"/><circle cx="483.53" cy="317.02" r="2.15"/><circle cx="484.36" cy="317.1" r="2.15"/><circle cx="485.18" cy="317.18" r="2.15"/><circle cx="486.01" cy="317.26" r="2.15"/><circle cx="486.83" cy="317.33" r="2.15"/><circle cx="487.66" cy="317.41" r="2.15"/><circle cx="488.49" cy="317.49" r="2.15"/><circle cx="489.31" cy="317.58" r="2.15"/><circle cx="490.13" cy="317.69" r="2.15"/><circle cx="490.96" cy="317.8" r="2.15"/><circle cx="491.78" cy="317.91" r="2.15"/><circle cx="492.61" cy="318.02" r="2.15"/><circle cx="493.43" cy="318.13" r="2.15"/><circle cx="494.26" cy="318.24" r="2.15"/><circle cx="495.08" cy="318.35" r="2.15"/><circle cx="495.91" cy="318.46" r="2.15"/><circle cx="496.74" cy="318.57" r="2.15"/><circle cx="497.56" cy="318.68" r="2.15"/><circle cx="498.38" cy="318.79" r="2.15"/><circle cx="499.21" cy="318.9" r="2.15"/><circle cx="500.03" cy="319.01" r="2.15"/><circle cx="500.86" cy="319.12" r="2.15"/><circle cx="501.68" cy="319.23" r="2.15"/><circle cx="502.51" cy="319.34" r="2.15"/><circle cx="503.33" cy="319.45" r="2.15"/><circle cx="504.16" cy="319.56" r="2.15"/><circle cx="504.99" cy="319.67" r="2.15"/><circle cx="505.81" cy="319.72" r="2.15"/><circle cx="506.63" cy="319.72" r="2.15"/><circle cx="507.46" cy="319.72" r="2.15"/><circle cx="508.28" cy="319.72" r="2.15"/><circle cx="509.11" cy="319.72" r="2.15"/><circle cx="509.93" cy="319.72" r="2.15"/><circle cx="510.76" cy="319.72" r="2.15"/><circle cx="511.58" cy="319.72" r="2.15"/><circle cx="512.41" cy="319.72" r="2.15"/><circle cx="513.24" cy="319.72" r="2.15"/><circle cx="514.06" cy="319.72" r="2.15"/><circle cx="514.88" cy="319.72" r="2.15"/><circle cx="515.71" cy="319.72" r="2.15"/><circle cx="516.53" cy="319.72" r="2.15"/><circle cx="517.36" cy="319.72" r="2.15"/><circle cx="518.18" cy="319.72" r="2.15"/><circle cx="519.01" cy="319.72" r="2.15"/><circle cx="519.84" cy="319.72" r="2.15"/><circle cx="520.66" cy="319.48" r="2.15"/><circle cx="521.49" cy="319.24" r="2.15"/><circle cx="522.31" cy="318.99" r="2.15"/><circle cx="523.13" cy="318.75" r="2.15"/><circle cx="523.96" cy="318.51" r="2.15"/><circle cx="524.78" cy="318.27" r="2.15"/><circle cx="525.61" cy="318.03" r="2.15"/><circle cx="526.43" cy="317.79" r="2.15"/><circle cx="527.26" cy="317.55" r="2.15"/><circle cx="528.09" cy="317.3" r="2.15"/><circle cx="528.91" cy="317.14" r="2.15"/><circle cx="529.74" cy="317.09" r="2.15"/><circle cx="530.56" cy="317.05" r="2.15"/><circle cx="531.38" cy="317" r="2.15"/><circle cx="532.21" cy="316.95" r="2.15"/><circle cx="533.03" cy="316.9" r="2.15"/><circle cx="533.86" cy="316.85" r="2.15"/><circle cx="534.68" cy="316.81" r="2.15"/><circle cx="535.51" cy="316.76" r="2.15"/><circle cx="536.34" cy="316.71" r="2.15"/><circle cx="537.16" cy="316.66" r="2.15"/><circle cx="537.99" cy="316.62" r="2.15"/><circle cx="538.81" cy="316.57" r="2.15"/><circle cx="539.63" cy="316.79" r="2.15"/><circle cx="540.46" cy="317.02" r="2.15"/><circle cx="541.28" cy="317.24" r="2.15"/><circle cx="542.11" cy="317.46" r="2.15"/><circle cx="542.93" cy="317.69" r="2.15"/><circle cx="543.76" cy="317.91" r="2.15"/><circle cx="544.59" cy="318.13" r="2.15"/><circle cx="545.41" cy="318.36" r="2.15"/><circle cx="546.24" cy="318.67" r="2.15"/><circle cx="547.06" cy="319.3" r="2.15"/><circle cx="547.88" cy="319.94" r="2.15"/><circle cx="548.71" cy="320.58" r="2.15"/><circle cx="549.53" cy="321.22" r="2.15"/><circle cx="550.36" cy="321.86" r="2.15"/><circle cx="550.52" cy="321.98" r="2.15"/><circle cx="551.18" cy="323.57" r="2.15"/><circle cx="551.85" cy="325.15" r="2.15"/><circle cx="552.5" cy="326.74" r="2.15"/><circle cx="553.16" cy="328.32" r="2.15"/><circle cx="553.83" cy="329.9" r="2.15"/><circle cx="554.49" cy="331.49" r="2.15"/><circle cx="555.14" cy="333.07" r="2.15"/><circle cx="555.81" cy="334.66" r="2.15"/><circle cx="556.47" cy="336.24" r="2.15"/><circle cx="557.12" cy="337.83" r="2.15"/><circle cx="557.79" cy="339.41" r="2.15"/><circle cx="558.45" cy="341" r="2.15"/><circle cx="559.11" cy="342.58" r="2.15"/><circle cx="559.6" cy="343.77" r="2.15"/><circle cx="561" cy="347.14" r="2.15"/><circle cx="562.4" cy="350.5" r="2.15"/><circle cx="563.81" cy="353.87" r="2.15"/><circle cx="565.21" cy="357.5" r="2.15"/><circle cx="566.61" cy="361.42" r="2.15"/><circle cx="568.01" cy="365.34" r="2.15"/><circle cx="569.42" cy="369.26" r="2.15"/><circle cx="570.82" cy="373.18" r="2.15"/><circle cx="572.22" cy="377.1" r="2.15"/><circle cx="573.62" cy="381.02" r="2.15"/><circle cx="575.03" cy="384.94" r="2.15"/><circle cx="576.43" cy="388.86" r="2.15"/><circle cx="577.83" cy="392.78" r="2.15"/><circle cx="579.23" cy="396.7" r="2.15"/><circle cx="580.64" cy="400.06" r="2.15"/><circle cx="582.04" cy="403.11" r="2.15"/><circle cx="583.44" cy="406.17" r="2.15"/><circle cx="584.84" cy="409.22" r="2.15"/><circle cx="586.25" cy="412.27" r="2.15"/><circle cx="586.33" cy="412.45" r="2.15"/><circle cx="587.15" cy="412.9" r="2.15"/><circle cx="587.98" cy="413.34" r="2.15"/><circle cx="588.8" cy="413.79" r="2.15"/><circle cx="589.63" cy="414.23" r="2.15"/><circle cx="590.45" cy="414.68" r="2.15"/><circle cx="591.28" cy="415.13" r="2.15"/><circle cx="592.11" cy="415.57" r="2.15"/><circle cx="592.93" cy="416.02" r="2.15"/><circle cx="593.75" cy="416.21" r="2.15"/><circle cx="594.58" cy="416.24" r="2.15"/><circle cx="595.4" cy="416.27" r="2.15"/><circle cx="596.23" cy="416.3" r="2.15"/><circle cx="597.05" cy="416.33" r="2.15"/><circle cx="597.88" cy="416.36" r="2.15"/><circle cx="598.7" cy="416.39" r="2.15"/><circle cx="599.53" cy="416.41" r="2.15"/><circle cx="600.35" cy="416.44" r="2.15"/><circle cx="601.18" cy="416.47" r="2.15"/><circle cx="602" cy="416.5" r="2.15"/><circle cx="602.83" cy="416.53" r="2.15"/><circle cx="603.65" cy="416.56" r="2.15"/><circle cx="604.48" cy="416.59" r="2.15"/><circle cx="605.3" cy="416.92" r="2.15"/><circle cx="606.13" cy="417.25" r="2.15"/><circle cx="606.95" cy="417.58" r="2.15"/><circle cx="607.78" cy="417.91" r="2.15"/><circle cx="608.6" cy="418.24" r="2.15"/><circle cx="609.43" cy="418.57" r="2.15"/><circle cx="610.25" cy="418.9" r="2.15"/><circle cx="611.08" cy="419.23" r="2.15"/><circle cx="611.9" cy="419.57" r="2.15"/><circle cx="612.73" cy="419.9" r="2.15"/><circle cx="613.55" cy="420.23" r="2.15"/><circle cx="614.38" cy="420.56" r="2.15"/><circle cx="615.2" cy="420.75" r="2.15"/><circle cx="616.03" cy="420.92" r="2.15"/><circle cx="616.85" cy="421.08" r="2.15"/><circle cx="617.68" cy="421.24" r="2.15"/><circle cx="618.5" cy="421.41" r="2.15"/><circle cx="619.33" cy="421.57" r="2.15"/><circle cx="620.15" cy="421.73" r="2.15"/><circle cx="620.98" cy="421.9" r="2.15"/><circle cx="621.8" cy="422.06" r="2.15"/><circle cx="622.63" cy="422.22" r="2.15"/><circle cx="623.45" cy="422.38" r="2.15"/><circle cx="624.28" cy="422.55" r="2.15"/><circle cx="625.1" cy="422.71" r="2.15"/><circle cx="625.93" cy="422.87" r="2.15"/><circle cx="626.75" cy="423.04" r="2.15"/><circle cx="627.58" cy="423.2" r="2.15"/><circle cx="628.4" cy="423.36" r="2.15"/><circle cx="629.23" cy="423.53" r="2.15"/><circle cx="630.05" cy="423.69" r="2.15"/><circle cx="630.88" cy="423.85" r="2.15"/><circle cx="631.7" cy="424.02" r="2.15"/><circle cx="632.53" cy="424.18" r="2.15"/><circle cx="633.35" cy="424.34" r="2.15"/><circle cx="634.18" cy="424.5" r="2.15"/><circle cx="635" cy="424.67" r="2.15"/><circle cx="635.83" cy="424.83" r="2.15"/><circle cx="636.65" cy="424.99" r="2.15"/><circle cx="637.48" cy="425.16" r="2.15"/><circle cx="638.3" cy="425.32" r="2.15"/><circle cx="639.13" cy="425.48" r="2.15"/><circle cx="639.95" cy="425.65" r="2.15"/><circle cx="640.78" cy="425.76" r="2.15"/><circle cx="641.61" cy="425.87" r="2.15"/><circle cx="642.43" cy="425.98" r="2.15"/><circle cx="643.25" cy="426.09" r="2.15"/><circle cx="644.08" cy="426.2" r="2.15"/><circle cx="644.9" cy="426.31" r="2.15"/><circle cx="645.73" cy="426.42" r="2.15"/><circle cx="646.55" cy="426.53" r="2.15"/><circle cx="647.38" cy="426.64" r="2.15"/><circle cx="648.2" cy="426.75" r="2.15"/><circle cx="649.03" cy="426.86" r="2.15"/><circle cx="649.86" cy="426.97" r="2.15"/><circle cx="650.68" cy="427.08" r="2.15"/><circle cx="651.5" cy="427.19" r="2.15"/><circle cx="652.33" cy="427.3" r="2.15"/><circle cx="653.15" cy="427.42" r="2.15"/><circle cx="653.98" cy="427.53" r="2.15"/><circle cx="654.8" cy="427.64" r="2.15"/><circle cx="655.63" cy="427.75" r="2.15"/><circle cx="656.45" cy="427.86" r="2.15"/><circle cx="657.28" cy="427.97" r="2.15"/><circle cx="658.11" cy="428.08" r="2.15"/><circle cx="658.93" cy="428.19" r="2.15"/><circle cx="659.75" cy="428.3" r="2.15"/><circle cx="660.58" cy="428.41" r="2.15"/><circle cx="661.4" cy="428.5" r="2.15"/><circle cx="662.23" cy="428.5" r="2.15"/><circle cx="663.05" cy="428.5" r="2.15"/><circle cx="663.88" cy="428.5" r="2.15"/><circle cx="664.7" cy="428.5" r="2.15"/><circle cx="665.53" cy="428.5" r="2.15"/><circle cx="666.36" cy="428.5" r="2.15"/><circle cx="667.18" cy="428.5" r="2.15"/><circle cx="668" cy="428.5" r="2.15"/><circle cx="668.83" cy="428.5" r="2.15"/><circle cx="669.65" cy="428.5" r="2.15"/><circle cx="670.48" cy="428.5" r="2.15"/><circle cx="671.3" cy="428.5" r="2.15"/><circle cx="672.13" cy="428.5" r="2.15"/><circle cx="672.95" cy="428.5" r="2.15"/><circle cx="673.78" cy="428.5" r="2.15"/><circle cx="674.61" cy="428.5" r="2.15"/><circle cx="675.43" cy="428.5" r="2.15"/><circle cx="676.25" cy="428.5" r="2.15"/><circle cx="677.08" cy="428.5" r="2.15"/><circle cx="677.9" cy="428.5" r="2.15"/><circle cx="678.4" cy="428.5" r="2.15"/></g>
<rect x="611.4" y="310.2" width="63.2" height="45.6" fill="#ffffff" stroke="#404040" stroke-width="1"/>
<circle cx="617.7" cy="317.7" r="2.35" fill="#000000"/>
<text x="622.6" y="320.77" font-size="9.3" fill="#6b6b6b">CS-2 2001</text>
<circle cx="617.7" cy="332.9" r="2.35" fill="#d9d9d9"/>
<text x="622.6" y="335.97" font-size="9.3" fill="#6b6b6b">CS-2 2010-1</text>
<circle cx="617.7" cy="347.3" r="2.35" fill="#b0b0b0"/>
<text x="622.6" y="350.37" font-size="9.3" fill="#6b6b6b">CS-2 2010-2</text>
<text x="292.1" y="486.9" font-size="22.8" fill="#000">(d)</text>
</svg>
</body></html>
